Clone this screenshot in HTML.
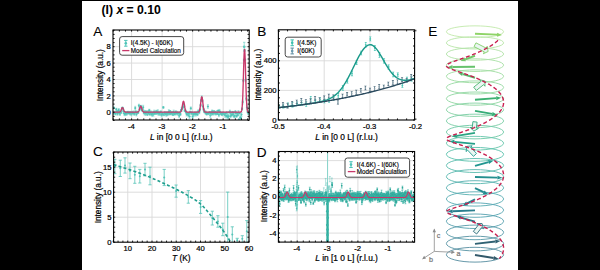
<!DOCTYPE html>
<html><head><meta charset="utf-8"><style>
html,body{margin:0;padding:0;background:#000;width:600px;height:270px;overflow:hidden;}
svg{display:block;font-family:"Liberation Sans", sans-serif;}
</style></head><body>
<svg width="600" height="270" viewBox="0 0 600 270">
<rect x="0" y="0" width="600" height="270" fill="#000"/>
<rect x="82" y="1" width="436" height="269" fill="#fff"/>
<text x="101.5" y="14.3" font-size="12.2" text-anchor="start" font-weight="bold"  fill="#000" stroke="#000" stroke-width="0.05" >(I) <tspan font-style="italic">x</tspan> = 0.10</text>
<text x="93.3" y="35.8" font-size="13.6" text-anchor="start" font-weight="normal"  fill="#000" stroke="#000" stroke-width="0.1" >A</text>
<text x="257.2" y="35.8" font-size="13.6" text-anchor="start" font-weight="normal"  fill="#000" stroke="#000" stroke-width="0.1" >B</text>
<text x="93" y="156.3" font-size="13.6" text-anchor="start" font-weight="normal"  fill="#000" stroke="#000" stroke-width="0.1" >C</text>
<text x="256.7" y="156.6" font-size="13.6" text-anchor="start" font-weight="normal"  fill="#000" stroke="#000" stroke-width="0.1" >D</text>
<text x="428.2" y="35.8" font-size="13.6" text-anchor="start" font-weight="normal"  fill="#000" stroke="#000" stroke-width="0.1" >E</text>
<clipPath id="ca"><rect x="113" y="30" width="136.2" height="90"/></clipPath>
<line x1="131.58" y1="30" x2="131.58" y2="120" stroke="#d9d9d9" stroke-width="0.9"/>
<line x1="162.11" y1="30" x2="162.11" y2="120" stroke="#d9d9d9" stroke-width="0.9"/>
<line x1="192.64" y1="30" x2="192.64" y2="120" stroke="#d9d9d9" stroke-width="0.9"/>
<line x1="223.17" y1="30" x2="223.17" y2="120" stroke="#d9d9d9" stroke-width="0.9"/>
<line x1="113" y1="95.9" x2="249.2" y2="95.9" stroke="#d9d9d9" stroke-width="0.9"/>
<line x1="113" y1="79.5" x2="249.2" y2="79.5" stroke="#d9d9d9" stroke-width="0.9"/>
<line x1="113" y1="63.1" x2="249.2" y2="63.1" stroke="#d9d9d9" stroke-width="0.9"/>
<line x1="113" y1="46.7" x2="249.2" y2="46.7" stroke="#d9d9d9" stroke-width="0.9"/>
<g clip-path="url(#ca)">
<path d="M112.65 112.61V114.13M111.65 112.61H113.65M111.65 114.13H113.65" stroke="#74d2c8" stroke-width="0.6" fill="none"/>
<circle cx="112.65" cy="113.37" r="1.1" fill="#50c4b8"/>
<path d="M113.26 111.45V113.78M112.26 111.45H114.26M112.26 113.78H114.26" stroke="#74d2c8" stroke-width="0.6" fill="none"/>
<circle cx="113.26" cy="112.62" r="1.1" fill="#50c4b8"/>
<path d="M113.87 107.03V108.54M112.87 107.03H114.87M112.87 108.54H114.87" stroke="#74d2c8" stroke-width="0.6" fill="none"/>
<circle cx="113.87" cy="107.79" r="1.1" fill="#50c4b8"/>
<path d="M114.48 111.45V113.95M113.48 111.45H115.48M113.48 113.95H115.48" stroke="#74d2c8" stroke-width="0.6" fill="none"/>
<circle cx="114.48" cy="112.7" r="1.1" fill="#50c4b8"/>
<path d="M115.09 111.35V114.42M114.09 111.35H116.09M114.09 114.42H116.09" stroke="#74d2c8" stroke-width="0.6" fill="none"/>
<circle cx="115.09" cy="112.89" r="1.1" fill="#50c4b8"/>
<path d="M115.7 112.11V115.03M114.7 112.11H116.7M114.7 115.03H116.7" stroke="#74d2c8" stroke-width="0.6" fill="none"/>
<circle cx="115.7" cy="113.57" r="1.1" fill="#50c4b8"/>
<path d="M116.31 108.22V110.34M115.31 108.22H117.31M115.31 110.34H117.31" stroke="#74d2c8" stroke-width="0.6" fill="none"/>
<circle cx="116.31" cy="109.28" r="1.1" fill="#50c4b8"/>
<path d="M116.93 110.67V112.31M115.93 110.67H117.93M115.93 112.31H117.93" stroke="#74d2c8" stroke-width="0.6" fill="none"/>
<circle cx="116.93" cy="111.49" r="1.1" fill="#50c4b8"/>
<path d="M117.54 112.3V115.24M116.54 112.3H118.54M116.54 115.24H118.54" stroke="#74d2c8" stroke-width="0.6" fill="none"/>
<circle cx="117.54" cy="113.77" r="1.1" fill="#50c4b8"/>
<path d="M118.15 110.25V112.6M117.15 110.25H119.15M117.15 112.6H119.15" stroke="#74d2c8" stroke-width="0.6" fill="none"/>
<circle cx="118.15" cy="111.43" r="1.1" fill="#50c4b8"/>
<path d="M118.76 108.54V111.75M117.76 108.54H119.76M117.76 111.75H119.76" stroke="#74d2c8" stroke-width="0.6" fill="none"/>
<circle cx="118.76" cy="110.14" r="1.1" fill="#50c4b8"/>
<path d="M119.37 112.05V114.24M118.37 112.05H120.37M118.37 114.24H120.37" stroke="#74d2c8" stroke-width="0.6" fill="none"/>
<circle cx="119.37" cy="113.15" r="1.1" fill="#50c4b8"/>
<path d="M119.98 111.95V115.48M118.98 111.95H120.98M118.98 115.48H120.98" stroke="#74d2c8" stroke-width="0.6" fill="none"/>
<circle cx="119.98" cy="113.72" r="1.1" fill="#50c4b8"/>
<path d="M120.59 111.64V113.63M119.59 111.64H121.59M119.59 113.63H121.59" stroke="#74d2c8" stroke-width="0.6" fill="none"/>
<circle cx="120.59" cy="112.64" r="1.1" fill="#50c4b8"/>
<path d="M121.2 110.17V113.52M120.2 110.17H122.2M120.2 113.52H122.2" stroke="#74d2c8" stroke-width="0.6" fill="none"/>
<circle cx="121.2" cy="111.84" r="1.1" fill="#50c4b8"/>
<path d="M121.81 107.81V111.85M120.81 107.81H122.81M120.81 111.85H122.81" stroke="#74d2c8" stroke-width="0.6" fill="none"/>
<circle cx="121.81" cy="109.83" r="1.1" fill="#50c4b8"/>
<path d="M122.42 106.99V108.72M121.42 106.99H123.42M121.42 108.72H123.42" stroke="#74d2c8" stroke-width="0.6" fill="none"/>
<circle cx="122.42" cy="107.86" r="1.1" fill="#50c4b8"/>
<path d="M123.03 107.89V109.31M122.03 107.89H124.03M122.03 109.31H124.03" stroke="#74d2c8" stroke-width="0.6" fill="none"/>
<circle cx="123.03" cy="108.6" r="1.1" fill="#50c4b8"/>
<path d="M123.64 109.72V113.47M122.64 109.72H124.64M122.64 113.47H124.64" stroke="#74d2c8" stroke-width="0.6" fill="none"/>
<circle cx="123.64" cy="111.6" r="1.1" fill="#50c4b8"/>
<path d="M124.25 111.91V115.17M123.25 111.91H125.25M123.25 115.17H125.25" stroke="#74d2c8" stroke-width="0.6" fill="none"/>
<circle cx="124.25" cy="113.54" r="1.1" fill="#50c4b8"/>
<path d="M124.86 112.04V115.69M123.86 112.04H125.86M123.86 115.69H125.86" stroke="#74d2c8" stroke-width="0.6" fill="none"/>
<circle cx="124.86" cy="113.86" r="1.1" fill="#50c4b8"/>
<path d="M125.47 112.45V115.08M124.47 112.45H126.47M124.47 115.08H126.47" stroke="#74d2c8" stroke-width="0.6" fill="none"/>
<circle cx="125.47" cy="113.77" r="1.1" fill="#50c4b8"/>
<path d="M126.08 111.73V114.84M125.08 111.73H127.08M125.08 114.84H127.08" stroke="#74d2c8" stroke-width="0.6" fill="none"/>
<circle cx="126.08" cy="113.29" r="1.1" fill="#50c4b8"/>
<path d="M126.7 111.62V115.22M125.7 111.62H127.7M125.7 115.22H127.7" stroke="#74d2c8" stroke-width="0.6" fill="none"/>
<circle cx="126.7" cy="113.42" r="1.1" fill="#50c4b8"/>
<path d="M127.31 112.64V114.02M126.31 112.64H128.31M126.31 114.02H128.31" stroke="#74d2c8" stroke-width="0.6" fill="none"/>
<circle cx="127.31" cy="113.33" r="1.1" fill="#50c4b8"/>
<path d="M127.92 111.28V113.06M126.92 111.28H128.92M126.92 113.06H128.92" stroke="#74d2c8" stroke-width="0.6" fill="none"/>
<circle cx="127.92" cy="112.17" r="1.1" fill="#50c4b8"/>
<path d="M128.53 112.03V113.7M127.53 112.03H129.53M127.53 113.7H129.53" stroke="#74d2c8" stroke-width="0.6" fill="none"/>
<circle cx="128.53" cy="112.87" r="1.1" fill="#50c4b8"/>
<path d="M129.14 111.69V114.09M128.14 111.69H130.14M128.14 114.09H130.14" stroke="#74d2c8" stroke-width="0.6" fill="none"/>
<circle cx="129.14" cy="112.89" r="1.1" fill="#50c4b8"/>
<path d="M129.75 111.42V114.26M128.75 111.42H130.75M128.75 114.26H130.75" stroke="#74d2c8" stroke-width="0.6" fill="none"/>
<circle cx="129.75" cy="112.84" r="1.1" fill="#50c4b8"/>
<path d="M130.36 111.61V115.21M129.36 111.61H131.36M129.36 115.21H131.36" stroke="#74d2c8" stroke-width="0.6" fill="none"/>
<circle cx="130.36" cy="113.41" r="1.1" fill="#50c4b8"/>
<path d="M130.97 111.44V113.75M129.97 111.44H131.97M129.97 113.75H131.97" stroke="#74d2c8" stroke-width="0.6" fill="none"/>
<circle cx="130.97" cy="112.6" r="1.1" fill="#50c4b8"/>
<path d="M131.58 111.73V115.71M130.58 111.73H132.58M130.58 115.71H132.58" stroke="#74d2c8" stroke-width="0.6" fill="none"/>
<circle cx="131.58" cy="113.72" r="1.1" fill="#50c4b8"/>
<path d="M132.19 111.78V113.74M131.19 111.78H133.19M131.19 113.74H133.19" stroke="#74d2c8" stroke-width="0.6" fill="none"/>
<circle cx="132.19" cy="112.76" r="1.1" fill="#50c4b8"/>
<path d="M132.8 111.15V114.1M131.8 111.15H133.8M131.8 114.1H133.8" stroke="#74d2c8" stroke-width="0.6" fill="none"/>
<circle cx="132.8" cy="112.62" r="1.1" fill="#50c4b8"/>
<path d="M133.41 111.96V114.3M132.41 111.96H134.41M132.41 114.3H134.41" stroke="#74d2c8" stroke-width="0.6" fill="none"/>
<circle cx="133.41" cy="113.13" r="1.1" fill="#50c4b8"/>
<path d="M134.02 111.05V115.02M133.02 111.05H135.02M133.02 115.02H135.02" stroke="#74d2c8" stroke-width="0.6" fill="none"/>
<circle cx="134.02" cy="113.03" r="1.1" fill="#50c4b8"/>
<path d="M134.63 111.95V115.15M133.63 111.95H135.63M133.63 115.15H135.63" stroke="#74d2c8" stroke-width="0.6" fill="none"/>
<circle cx="134.63" cy="113.55" r="1.1" fill="#50c4b8"/>
<path d="M135.24 106.33V109.82M134.24 106.33H136.24M134.24 109.82H136.24" stroke="#74d2c8" stroke-width="0.6" fill="none"/>
<circle cx="135.24" cy="108.07" r="1.1" fill="#50c4b8"/>
<path d="M135.85 110.67V113.09M134.85 110.67H136.85M134.85 113.09H136.85" stroke="#74d2c8" stroke-width="0.6" fill="none"/>
<circle cx="135.85" cy="111.88" r="1.1" fill="#50c4b8"/>
<path d="M136.46 112.83V115.91M135.46 112.83H137.46M135.46 115.91H137.46" stroke="#74d2c8" stroke-width="0.6" fill="none"/>
<circle cx="136.46" cy="114.37" r="1.1" fill="#50c4b8"/>
<path d="M137.08 111.88V113.65M136.08 111.88H138.08M136.08 113.65H138.08" stroke="#74d2c8" stroke-width="0.6" fill="none"/>
<circle cx="137.08" cy="112.76" r="1.1" fill="#50c4b8"/>
<path d="M137.69 112.15V113.61M136.69 112.15H138.69M136.69 113.61H138.69" stroke="#74d2c8" stroke-width="0.6" fill="none"/>
<circle cx="137.69" cy="112.88" r="1.1" fill="#50c4b8"/>
<path d="M138.3 110.96V113.29M137.3 110.96H139.3M137.3 113.29H139.3" stroke="#74d2c8" stroke-width="0.6" fill="none"/>
<circle cx="138.3" cy="112.12" r="1.1" fill="#50c4b8"/>
<path d="M138.91 104.2V107.23M137.91 104.2H139.91M137.91 107.23H139.91" stroke="#74d2c8" stroke-width="0.6" fill="none"/>
<circle cx="138.91" cy="105.72" r="1.1" fill="#50c4b8"/>
<path d="M139.52 108.44V110.76M138.52 108.44H140.52M138.52 110.76H140.52" stroke="#74d2c8" stroke-width="0.6" fill="none"/>
<circle cx="139.52" cy="109.6" r="1.1" fill="#50c4b8"/>
<path d="M140.13 105.66V109.34M139.13 105.66H141.13M139.13 109.34H141.13" stroke="#74d2c8" stroke-width="0.6" fill="none"/>
<circle cx="140.13" cy="107.5" r="1.1" fill="#50c4b8"/>
<path d="M140.74 105.34V106.89M139.74 105.34H141.74M139.74 106.89H141.74" stroke="#74d2c8" stroke-width="0.6" fill="none"/>
<circle cx="140.74" cy="106.11" r="1.1" fill="#50c4b8"/>
<path d="M141.35 107.02V109.29M140.35 107.02H142.35M140.35 109.29H142.35" stroke="#74d2c8" stroke-width="0.6" fill="none"/>
<circle cx="141.35" cy="108.15" r="1.1" fill="#50c4b8"/>
<path d="M141.96 109.53V110.91M140.96 109.53H142.96M140.96 110.91H142.96" stroke="#74d2c8" stroke-width="0.6" fill="none"/>
<circle cx="141.96" cy="110.22" r="1.1" fill="#50c4b8"/>
<path d="M142.57 108.53V111.31M141.57 108.53H143.57M141.57 111.31H143.57" stroke="#74d2c8" stroke-width="0.6" fill="none"/>
<circle cx="142.57" cy="109.92" r="1.1" fill="#50c4b8"/>
<path d="M143.18 105.3V109.34M142.18 105.3H144.18M142.18 109.34H144.18" stroke="#74d2c8" stroke-width="0.6" fill="none"/>
<circle cx="143.18" cy="107.32" r="1.1" fill="#50c4b8"/>
<path d="M143.79 110.41V113.67M142.79 110.41H144.79M142.79 113.67H144.79" stroke="#74d2c8" stroke-width="0.6" fill="none"/>
<circle cx="143.79" cy="112.04" r="1.1" fill="#50c4b8"/>
<path d="M144.4 111.44V114.9M143.4 111.44H145.4M143.4 114.9H145.4" stroke="#74d2c8" stroke-width="0.6" fill="none"/>
<circle cx="144.4" cy="113.17" r="1.1" fill="#50c4b8"/>
<path d="M145.01 110.44V113.92M144.01 110.44H146.01M144.01 113.92H146.01" stroke="#74d2c8" stroke-width="0.6" fill="none"/>
<circle cx="145.01" cy="112.18" r="1.1" fill="#50c4b8"/>
<path d="M145.62 111.43V115.48M144.62 111.43H146.62M144.62 115.48H146.62" stroke="#74d2c8" stroke-width="0.6" fill="none"/>
<circle cx="145.62" cy="113.46" r="1.1" fill="#50c4b8"/>
<path d="M146.23 110.73V114.29M145.23 110.73H147.23M145.23 114.29H147.23" stroke="#74d2c8" stroke-width="0.6" fill="none"/>
<circle cx="146.23" cy="112.51" r="1.1" fill="#50c4b8"/>
<path d="M146.84 111.07V113.83M145.84 111.07H147.84M145.84 113.83H147.84" stroke="#74d2c8" stroke-width="0.6" fill="none"/>
<circle cx="146.84" cy="112.45" r="1.1" fill="#50c4b8"/>
<path d="M147.46 113.89V115.28M146.46 113.89H148.46M146.46 115.28H148.46" stroke="#74d2c8" stroke-width="0.6" fill="none"/>
<circle cx="147.46" cy="114.59" r="1.1" fill="#50c4b8"/>
<path d="M148.07 110.71V113.96M147.07 110.71H149.07M147.07 113.96H149.07" stroke="#74d2c8" stroke-width="0.6" fill="none"/>
<circle cx="148.07" cy="112.34" r="1.1" fill="#50c4b8"/>
<path d="M148.68 111.7V114.26M147.68 111.7H149.68M147.68 114.26H149.68" stroke="#74d2c8" stroke-width="0.6" fill="none"/>
<circle cx="148.68" cy="112.98" r="1.1" fill="#50c4b8"/>
<path d="M149.29 109.25V111.58M148.29 109.25H150.29M148.29 111.58H150.29" stroke="#74d2c8" stroke-width="0.6" fill="none"/>
<circle cx="149.29" cy="110.42" r="1.1" fill="#50c4b8"/>
<path d="M149.9 113.28V115.22M148.9 113.28H150.9M148.9 115.22H150.9" stroke="#74d2c8" stroke-width="0.6" fill="none"/>
<circle cx="149.9" cy="114.25" r="1.1" fill="#50c4b8"/>
<path d="M150.51 110.99V114.81M149.51 110.99H151.51M149.51 114.81H151.51" stroke="#74d2c8" stroke-width="0.6" fill="none"/>
<circle cx="150.51" cy="112.9" r="1.1" fill="#50c4b8"/>
<path d="M151.12 111.17V113.82M150.12 111.17H152.12M150.12 113.82H152.12" stroke="#74d2c8" stroke-width="0.6" fill="none"/>
<circle cx="151.12" cy="112.49" r="1.1" fill="#50c4b8"/>
<path d="M151.73 112.55V115.71M150.73 112.55H152.73M150.73 115.71H152.73" stroke="#74d2c8" stroke-width="0.6" fill="none"/>
<circle cx="151.73" cy="114.13" r="1.1" fill="#50c4b8"/>
<path d="M152.34 112.82V116.31M151.34 112.82H153.34M151.34 116.31H153.34" stroke="#74d2c8" stroke-width="0.6" fill="none"/>
<circle cx="152.34" cy="114.57" r="1.1" fill="#50c4b8"/>
<path d="M152.95 111.36V114.88M151.95 111.36H153.95M151.95 114.88H153.95" stroke="#74d2c8" stroke-width="0.6" fill="none"/>
<circle cx="152.95" cy="113.12" r="1.1" fill="#50c4b8"/>
<path d="M153.56 112.47V116.01M152.56 112.47H154.56M152.56 116.01H154.56" stroke="#74d2c8" stroke-width="0.6" fill="none"/>
<circle cx="153.56" cy="114.24" r="1.1" fill="#50c4b8"/>
<path d="M154.17 110.17V114.12M153.17 110.17H155.17M153.17 114.12H155.17" stroke="#74d2c8" stroke-width="0.6" fill="none"/>
<circle cx="154.17" cy="112.15" r="1.1" fill="#50c4b8"/>
<path d="M154.78 112.4V114.19M153.78 112.4H155.78M153.78 114.19H155.78" stroke="#74d2c8" stroke-width="0.6" fill="none"/>
<circle cx="154.78" cy="113.29" r="1.1" fill="#50c4b8"/>
<path d="M155.39 110.95V114.51M154.39 110.95H156.39M154.39 114.51H156.39" stroke="#74d2c8" stroke-width="0.6" fill="none"/>
<circle cx="155.39" cy="112.73" r="1.1" fill="#50c4b8"/>
<path d="M156 110.91V114.52M155 110.91H157M155 114.52H157" stroke="#74d2c8" stroke-width="0.6" fill="none"/>
<circle cx="156" cy="112.72" r="1.1" fill="#50c4b8"/>
<path d="M156.61 110.27V113.11M155.61 110.27H157.61M155.61 113.11H157.61" stroke="#74d2c8" stroke-width="0.6" fill="none"/>
<circle cx="156.61" cy="111.69" r="1.1" fill="#50c4b8"/>
<path d="M157.23 112.62V113.97M156.23 112.62H158.23M156.23 113.97H158.23" stroke="#74d2c8" stroke-width="0.6" fill="none"/>
<circle cx="157.23" cy="113.3" r="1.1" fill="#50c4b8"/>
<path d="M157.84 109.76V113.68M156.84 109.76H158.84M156.84 113.68H158.84" stroke="#74d2c8" stroke-width="0.6" fill="none"/>
<circle cx="157.84" cy="111.72" r="1.1" fill="#50c4b8"/>
<path d="M158.45 111.51V115.25M157.45 111.51H159.45M157.45 115.25H159.45" stroke="#74d2c8" stroke-width="0.6" fill="none"/>
<circle cx="158.45" cy="113.38" r="1.1" fill="#50c4b8"/>
<path d="M159.06 111.74V113.87M158.06 111.74H160.06M158.06 113.87H160.06" stroke="#74d2c8" stroke-width="0.6" fill="none"/>
<circle cx="159.06" cy="112.81" r="1.1" fill="#50c4b8"/>
<path d="M159.67 112.25V115.19M158.67 112.25H160.67M158.67 115.19H160.67" stroke="#74d2c8" stroke-width="0.6" fill="none"/>
<circle cx="159.67" cy="113.72" r="1.1" fill="#50c4b8"/>
<path d="M160.28 111.26V115.1M159.28 111.26H161.28M159.28 115.1H161.28" stroke="#74d2c8" stroke-width="0.6" fill="none"/>
<circle cx="160.28" cy="113.18" r="1.1" fill="#50c4b8"/>
<path d="M160.89 110.8V113.39M159.89 110.8H161.89M159.89 113.39H161.89" stroke="#74d2c8" stroke-width="0.6" fill="none"/>
<circle cx="160.89" cy="112.1" r="1.1" fill="#50c4b8"/>
<path d="M161.5 113.03V116.9M160.5 113.03H162.5M160.5 116.9H162.5" stroke="#74d2c8" stroke-width="0.6" fill="none"/>
<circle cx="161.5" cy="114.97" r="1.1" fill="#50c4b8"/>
<path d="M162.11 112.79V115.58M161.11 112.79H163.11M161.11 115.58H163.11" stroke="#74d2c8" stroke-width="0.6" fill="none"/>
<circle cx="162.11" cy="114.19" r="1.1" fill="#50c4b8"/>
<path d="M162.72 112.4V114.22M161.72 112.4H163.72M161.72 114.22H163.72" stroke="#74d2c8" stroke-width="0.6" fill="none"/>
<circle cx="162.72" cy="113.31" r="1.1" fill="#50c4b8"/>
<path d="M163.33 106.52V108.31M162.33 106.52H164.33M162.33 108.31H164.33" stroke="#74d2c8" stroke-width="0.6" fill="none"/>
<circle cx="163.33" cy="107.41" r="1.1" fill="#50c4b8"/>
<path d="M163.94 113.57V115.79M162.94 113.57H164.94M162.94 115.79H164.94" stroke="#74d2c8" stroke-width="0.6" fill="none"/>
<circle cx="163.94" cy="114.68" r="1.1" fill="#50c4b8"/>
<path d="M164.55 111.43V114.29M163.55 111.43H165.55M163.55 114.29H165.55" stroke="#74d2c8" stroke-width="0.6" fill="none"/>
<circle cx="164.55" cy="112.86" r="1.1" fill="#50c4b8"/>
<path d="M165.16 112.02V114.02M164.16 112.02H166.16M164.16 114.02H166.16" stroke="#74d2c8" stroke-width="0.6" fill="none"/>
<circle cx="165.16" cy="113.02" r="1.1" fill="#50c4b8"/>
<path d="M165.77 111.84V115.31M164.77 111.84H166.77M164.77 115.31H166.77" stroke="#74d2c8" stroke-width="0.6" fill="none"/>
<circle cx="165.77" cy="113.58" r="1.1" fill="#50c4b8"/>
<path d="M166.38 112.45V116.31M165.38 112.45H167.38M165.38 116.31H167.38" stroke="#74d2c8" stroke-width="0.6" fill="none"/>
<circle cx="166.38" cy="114.38" r="1.1" fill="#50c4b8"/>
<path d="M166.99 111.67V114.69M165.99 111.67H167.99M165.99 114.69H167.99" stroke="#74d2c8" stroke-width="0.6" fill="none"/>
<circle cx="166.99" cy="113.18" r="1.1" fill="#50c4b8"/>
<path d="M167.61 113.01V115.58M166.61 113.01H168.61M166.61 115.58H168.61" stroke="#74d2c8" stroke-width="0.6" fill="none"/>
<circle cx="167.61" cy="114.3" r="1.1" fill="#50c4b8"/>
<path d="M168.22 111.84V114.48M167.22 111.84H169.22M167.22 114.48H169.22" stroke="#74d2c8" stroke-width="0.6" fill="none"/>
<circle cx="168.22" cy="113.16" r="1.1" fill="#50c4b8"/>
<path d="M168.83 109.73V113.67M167.83 109.73H169.83M167.83 113.67H169.83" stroke="#74d2c8" stroke-width="0.6" fill="none"/>
<circle cx="168.83" cy="111.7" r="1.1" fill="#50c4b8"/>
<path d="M169.44 112.23V115.1M168.44 112.23H170.44M168.44 115.1H170.44" stroke="#74d2c8" stroke-width="0.6" fill="none"/>
<circle cx="169.44" cy="113.67" r="1.1" fill="#50c4b8"/>
<path d="M170.05 110.53V112.18M169.05 110.53H171.05M169.05 112.18H171.05" stroke="#74d2c8" stroke-width="0.6" fill="none"/>
<circle cx="170.05" cy="111.35" r="1.1" fill="#50c4b8"/>
<path d="M170.66 113.02V114.53M169.66 113.02H171.66M169.66 114.53H171.66" stroke="#74d2c8" stroke-width="0.6" fill="none"/>
<circle cx="170.66" cy="113.78" r="1.1" fill="#50c4b8"/>
<path d="M171.27 111.35V114.85M170.27 111.35H172.27M170.27 114.85H172.27" stroke="#74d2c8" stroke-width="0.6" fill="none"/>
<circle cx="171.27" cy="113.1" r="1.1" fill="#50c4b8"/>
<path d="M171.88 111.87V113.61M170.88 111.87H172.88M170.88 113.61H172.88" stroke="#74d2c8" stroke-width="0.6" fill="none"/>
<circle cx="171.88" cy="112.74" r="1.1" fill="#50c4b8"/>
<path d="M172.49 111.54V115.31M171.49 111.54H173.49M171.49 115.31H173.49" stroke="#74d2c8" stroke-width="0.6" fill="none"/>
<circle cx="172.49" cy="113.43" r="1.1" fill="#50c4b8"/>
<path d="M173.1 113.57V115.5M172.1 113.57H174.1M172.1 115.5H174.1" stroke="#74d2c8" stroke-width="0.6" fill="none"/>
<circle cx="173.1" cy="114.53" r="1.1" fill="#50c4b8"/>
<path d="M173.71 110.14V114.21M172.71 110.14H174.71M172.71 114.21H174.71" stroke="#74d2c8" stroke-width="0.6" fill="none"/>
<circle cx="173.71" cy="112.17" r="1.1" fill="#50c4b8"/>
<path d="M174.32 112.53V114.29M173.32 112.53H175.32M173.32 114.29H175.32" stroke="#74d2c8" stroke-width="0.6" fill="none"/>
<circle cx="174.32" cy="113.41" r="1.1" fill="#50c4b8"/>
<path d="M174.93 113.27V115.13M173.93 113.27H175.93M173.93 115.13H175.93" stroke="#74d2c8" stroke-width="0.6" fill="none"/>
<circle cx="174.93" cy="114.2" r="1.1" fill="#50c4b8"/>
<path d="M175.54 110.96V114.29M174.54 110.96H176.54M174.54 114.29H176.54" stroke="#74d2c8" stroke-width="0.6" fill="none"/>
<circle cx="175.54" cy="112.63" r="1.1" fill="#50c4b8"/>
<path d="M176.15 111.2V112.56M175.15 111.2H177.15M175.15 112.56H177.15" stroke="#74d2c8" stroke-width="0.6" fill="none"/>
<circle cx="176.15" cy="111.88" r="1.1" fill="#50c4b8"/>
<path d="M176.76 111.44V114.49M175.76 111.44H177.76M175.76 114.49H177.76" stroke="#74d2c8" stroke-width="0.6" fill="none"/>
<circle cx="176.76" cy="112.97" r="1.1" fill="#50c4b8"/>
<path d="M177.37 111.72V115.23M176.37 111.72H178.37M176.37 115.23H178.37" stroke="#74d2c8" stroke-width="0.6" fill="none"/>
<circle cx="177.37" cy="113.48" r="1.1" fill="#50c4b8"/>
<path d="M177.99 112.35V113.95M176.99 112.35H178.99M176.99 113.95H178.99" stroke="#74d2c8" stroke-width="0.6" fill="none"/>
<circle cx="177.99" cy="113.15" r="1.1" fill="#50c4b8"/>
<path d="M178.6 112.11V114.18M177.6 112.11H179.6M177.6 114.18H179.6" stroke="#74d2c8" stroke-width="0.6" fill="none"/>
<circle cx="178.6" cy="113.15" r="1.1" fill="#50c4b8"/>
<path d="M179.21 114.07V117.66M178.21 114.07H180.21M178.21 117.66H180.21" stroke="#74d2c8" stroke-width="0.6" fill="none"/>
<circle cx="179.21" cy="115.86" r="1.1" fill="#50c4b8"/>
<path d="M179.82 111.49V114.75M178.82 111.49H180.82M178.82 114.75H180.82" stroke="#74d2c8" stroke-width="0.6" fill="none"/>
<circle cx="179.82" cy="113.12" r="1.1" fill="#50c4b8"/>
<path d="M180.43 112.96V115.45M179.43 112.96H181.43M179.43 115.45H181.43" stroke="#74d2c8" stroke-width="0.6" fill="none"/>
<circle cx="180.43" cy="114.21" r="1.1" fill="#50c4b8"/>
<path d="M181.04 109.46V111.01M180.04 109.46H182.04M180.04 111.01H182.04" stroke="#74d2c8" stroke-width="0.6" fill="none"/>
<circle cx="181.04" cy="110.23" r="1.1" fill="#50c4b8"/>
<path d="M181.65 107.73V111.45M180.65 107.73H182.65M180.65 111.45H182.65" stroke="#74d2c8" stroke-width="0.6" fill="none"/>
<circle cx="181.65" cy="109.59" r="1.1" fill="#50c4b8"/>
<path d="M182.26 107.27V109.33M181.26 107.27H183.26M181.26 109.33H183.26" stroke="#74d2c8" stroke-width="0.6" fill="none"/>
<circle cx="182.26" cy="108.3" r="1.1" fill="#50c4b8"/>
<path d="M182.87 106.16V107.78M181.87 106.16H183.87M181.87 107.78H183.87" stroke="#74d2c8" stroke-width="0.6" fill="none"/>
<circle cx="182.87" cy="106.97" r="1.1" fill="#50c4b8"/>
<path d="M183.48 103V106.42M182.48 103H184.48M182.48 106.42H184.48" stroke="#74d2c8" stroke-width="0.6" fill="none"/>
<circle cx="183.48" cy="104.71" r="1.1" fill="#50c4b8"/>
<path d="M184.09 105.73V108.01M183.09 105.73H185.09M183.09 108.01H185.09" stroke="#74d2c8" stroke-width="0.6" fill="none"/>
<circle cx="184.09" cy="106.87" r="1.1" fill="#50c4b8"/>
<path d="M184.7 109.83V111.67M183.7 109.83H185.7M183.7 111.67H185.7" stroke="#74d2c8" stroke-width="0.6" fill="none"/>
<circle cx="184.7" cy="110.75" r="1.1" fill="#50c4b8"/>
<path d="M185.31 109.72V111.33M184.31 109.72H186.31M184.31 111.33H186.31" stroke="#74d2c8" stroke-width="0.6" fill="none"/>
<circle cx="185.31" cy="110.53" r="1.1" fill="#50c4b8"/>
<path d="M185.92 110.68V113.08M184.92 110.68H186.92M184.92 113.08H186.92" stroke="#74d2c8" stroke-width="0.6" fill="none"/>
<circle cx="185.92" cy="111.88" r="1.1" fill="#50c4b8"/>
<path d="M186.53 111.86V115.91M185.53 111.86H187.53M185.53 115.91H187.53" stroke="#74d2c8" stroke-width="0.6" fill="none"/>
<circle cx="186.53" cy="113.89" r="1.1" fill="#50c4b8"/>
<path d="M187.14 112.89V115.33M186.14 112.89H188.14M186.14 115.33H188.14" stroke="#74d2c8" stroke-width="0.6" fill="none"/>
<circle cx="187.14" cy="114.11" r="1.1" fill="#50c4b8"/>
<path d="M187.76 112.63V114.14M186.76 112.63H188.76M186.76 114.14H188.76" stroke="#74d2c8" stroke-width="0.6" fill="none"/>
<circle cx="187.76" cy="113.38" r="1.1" fill="#50c4b8"/>
<path d="M188.37 113.21V116.95M187.37 113.21H189.37M187.37 116.95H189.37" stroke="#74d2c8" stroke-width="0.6" fill="none"/>
<circle cx="188.37" cy="115.08" r="1.1" fill="#50c4b8"/>
<path d="M188.98 112.88V114.87M187.98 112.88H189.98M187.98 114.87H189.98" stroke="#74d2c8" stroke-width="0.6" fill="none"/>
<circle cx="188.98" cy="113.87" r="1.1" fill="#50c4b8"/>
<path d="M189.59 114.52V118.51M188.59 114.52H190.59M188.59 118.51H190.59" stroke="#74d2c8" stroke-width="0.6" fill="none"/>
<circle cx="189.59" cy="116.51" r="1.1" fill="#50c4b8"/>
<path d="M190.2 111.07V113.06M189.2 111.07H191.2M189.2 113.06H191.2" stroke="#74d2c8" stroke-width="0.6" fill="none"/>
<circle cx="190.2" cy="112.07" r="1.1" fill="#50c4b8"/>
<path d="M190.81 106.95V109.59M189.81 106.95H191.81M189.81 109.59H191.81" stroke="#74d2c8" stroke-width="0.6" fill="none"/>
<circle cx="190.81" cy="108.27" r="1.1" fill="#50c4b8"/>
<path d="M191.42 111.94V114.66M190.42 111.94H192.42M190.42 114.66H192.42" stroke="#74d2c8" stroke-width="0.6" fill="none"/>
<circle cx="191.42" cy="113.3" r="1.1" fill="#50c4b8"/>
<path d="M192.03 111.67V113.83M191.03 111.67H193.03M191.03 113.83H193.03" stroke="#74d2c8" stroke-width="0.6" fill="none"/>
<circle cx="192.03" cy="112.75" r="1.1" fill="#50c4b8"/>
<path d="M192.64 114.95V118.36M191.64 114.95H193.64M191.64 118.36H193.64" stroke="#74d2c8" stroke-width="0.6" fill="none"/>
<circle cx="192.64" cy="116.66" r="1.1" fill="#50c4b8"/>
<path d="M193.25 112.87V115.09M192.25 112.87H194.25M192.25 115.09H194.25" stroke="#74d2c8" stroke-width="0.6" fill="none"/>
<circle cx="193.25" cy="113.98" r="1.1" fill="#50c4b8"/>
<path d="M193.86 112.76V116.09M192.86 112.76H194.86M192.86 116.09H194.86" stroke="#74d2c8" stroke-width="0.6" fill="none"/>
<circle cx="193.86" cy="114.43" r="1.1" fill="#50c4b8"/>
<path d="M194.47 111.77V114.83M193.47 111.77H195.47M193.47 114.83H195.47" stroke="#74d2c8" stroke-width="0.6" fill="none"/>
<circle cx="194.47" cy="113.3" r="1.1" fill="#50c4b8"/>
<path d="M195.08 112.5V114.2M194.08 112.5H196.08M194.08 114.2H196.08" stroke="#74d2c8" stroke-width="0.6" fill="none"/>
<circle cx="195.08" cy="113.35" r="1.1" fill="#50c4b8"/>
<path d="M195.69 112.46V116.08M194.69 112.46H196.69M194.69 116.08H196.69" stroke="#74d2c8" stroke-width="0.6" fill="none"/>
<circle cx="195.69" cy="114.27" r="1.1" fill="#50c4b8"/>
<path d="M196.3 111.39V115.19M195.3 111.39H197.3M195.3 115.19H197.3" stroke="#74d2c8" stroke-width="0.6" fill="none"/>
<circle cx="196.3" cy="113.29" r="1.1" fill="#50c4b8"/>
<path d="M196.91 113.04V114.44M195.91 113.04H197.91M195.91 114.44H197.91" stroke="#74d2c8" stroke-width="0.6" fill="none"/>
<circle cx="196.91" cy="113.74" r="1.1" fill="#50c4b8"/>
<path d="M197.52 113.34V115.65M196.52 113.34H198.52M196.52 115.65H198.52" stroke="#74d2c8" stroke-width="0.6" fill="none"/>
<circle cx="197.52" cy="114.5" r="1.1" fill="#50c4b8"/>
<path d="M198.14 110.07V113.13M197.14 110.07H199.14M197.14 113.13H199.14" stroke="#74d2c8" stroke-width="0.6" fill="none"/>
<circle cx="198.14" cy="111.6" r="1.1" fill="#50c4b8"/>
<path d="M198.75 110.11V113.32M197.75 110.11H199.75M197.75 113.32H199.75" stroke="#74d2c8" stroke-width="0.6" fill="none"/>
<circle cx="198.75" cy="111.72" r="1.1" fill="#50c4b8"/>
<path d="M199.36 110.38V113.77M198.36 110.38H200.36M198.36 113.77H200.36" stroke="#74d2c8" stroke-width="0.6" fill="none"/>
<circle cx="199.36" cy="112.07" r="1.1" fill="#50c4b8"/>
<path d="M199.97 108.18V110.99M198.97 108.18H200.97M198.97 110.99H200.97" stroke="#74d2c8" stroke-width="0.6" fill="none"/>
<circle cx="199.97" cy="109.59" r="1.1" fill="#50c4b8"/>
<path d="M200.58 104.33V106.34M199.58 104.33H201.58M199.58 106.34H201.58" stroke="#74d2c8" stroke-width="0.6" fill="none"/>
<circle cx="200.58" cy="105.34" r="1.1" fill="#50c4b8"/>
<path d="M201.19 99.38V101.43M200.19 99.38H202.19M200.19 101.43H202.19" stroke="#74d2c8" stroke-width="0.6" fill="none"/>
<circle cx="201.19" cy="100.4" r="1.1" fill="#50c4b8"/>
<path d="M201.8 95.86V99.89M200.8 95.86H202.8M200.8 99.89H202.8" stroke="#74d2c8" stroke-width="0.6" fill="none"/>
<circle cx="201.8" cy="97.87" r="1.1" fill="#50c4b8"/>
<path d="M202.41 99.57V101.95M201.41 99.57H203.41M201.41 101.95H203.41" stroke="#74d2c8" stroke-width="0.6" fill="none"/>
<circle cx="202.41" cy="100.76" r="1.1" fill="#50c4b8"/>
<path d="M203.02 105.1V108.14M202.02 105.1H204.02M202.02 108.14H204.02" stroke="#74d2c8" stroke-width="0.6" fill="none"/>
<circle cx="203.02" cy="106.62" r="1.1" fill="#50c4b8"/>
<path d="M203.63 108.63V110.16M202.63 108.63H204.63M202.63 110.16H204.63" stroke="#74d2c8" stroke-width="0.6" fill="none"/>
<circle cx="203.63" cy="109.4" r="1.1" fill="#50c4b8"/>
<path d="M204.24 110.46V112.62M203.24 110.46H205.24M203.24 112.62H205.24" stroke="#74d2c8" stroke-width="0.6" fill="none"/>
<circle cx="204.24" cy="111.54" r="1.1" fill="#50c4b8"/>
<path d="M204.85 111.59V112.93M203.85 111.59H205.85M203.85 112.93H205.85" stroke="#74d2c8" stroke-width="0.6" fill="none"/>
<circle cx="204.85" cy="112.26" r="1.1" fill="#50c4b8"/>
<path d="M205.46 110.73V113.98M204.46 110.73H206.46M204.46 113.98H206.46" stroke="#74d2c8" stroke-width="0.6" fill="none"/>
<circle cx="205.46" cy="112.35" r="1.1" fill="#50c4b8"/>
<path d="M206.07 111.76V113.89M205.07 111.76H207.07M205.07 113.89H207.07" stroke="#74d2c8" stroke-width="0.6" fill="none"/>
<circle cx="206.07" cy="112.83" r="1.1" fill="#50c4b8"/>
<path d="M206.68 113.39V115.03M205.68 113.39H207.68M205.68 115.03H207.68" stroke="#74d2c8" stroke-width="0.6" fill="none"/>
<circle cx="206.68" cy="114.21" r="1.1" fill="#50c4b8"/>
<path d="M207.29 112.3V114.17M206.29 112.3H208.29M206.29 114.17H208.29" stroke="#74d2c8" stroke-width="0.6" fill="none"/>
<circle cx="207.29" cy="113.23" r="1.1" fill="#50c4b8"/>
<path d="M207.9 104.69V108.29M206.9 104.69H208.9M206.9 108.29H208.9" stroke="#74d2c8" stroke-width="0.6" fill="none"/>
<circle cx="207.9" cy="106.49" r="1.1" fill="#50c4b8"/>
<path d="M208.52 112.15V114.72M207.52 112.15H209.52M207.52 114.72H209.52" stroke="#74d2c8" stroke-width="0.6" fill="none"/>
<circle cx="208.52" cy="113.44" r="1.1" fill="#50c4b8"/>
<path d="M209.13 112.25V114.15M208.13 112.25H210.13M208.13 114.15H210.13" stroke="#74d2c8" stroke-width="0.6" fill="none"/>
<circle cx="209.13" cy="113.2" r="1.1" fill="#50c4b8"/>
<path d="M209.74 111.6V113.3M208.74 111.6H210.74M208.74 113.3H210.74" stroke="#74d2c8" stroke-width="0.6" fill="none"/>
<circle cx="209.74" cy="112.45" r="1.1" fill="#50c4b8"/>
<path d="M210.35 113.72V117.32M209.35 113.72H211.35M209.35 117.32H211.35" stroke="#74d2c8" stroke-width="0.6" fill="none"/>
<circle cx="210.35" cy="115.52" r="1.1" fill="#50c4b8"/>
<path d="M210.96 111.59V115.38M209.96 111.59H211.96M209.96 115.38H211.96" stroke="#74d2c8" stroke-width="0.6" fill="none"/>
<circle cx="210.96" cy="113.49" r="1.1" fill="#50c4b8"/>
<path d="M211.57 111.99V114.66M210.57 111.99H212.57M210.57 114.66H212.57" stroke="#74d2c8" stroke-width="0.6" fill="none"/>
<circle cx="211.57" cy="113.33" r="1.1" fill="#50c4b8"/>
<path d="M212.18 109.99V112.67M211.18 109.99H213.18M211.18 112.67H213.18" stroke="#74d2c8" stroke-width="0.6" fill="none"/>
<circle cx="212.18" cy="111.33" r="1.1" fill="#50c4b8"/>
<path d="M212.79 112.78V115.05M211.79 112.78H213.79M211.79 115.05H213.79" stroke="#74d2c8" stroke-width="0.6" fill="none"/>
<circle cx="212.79" cy="113.91" r="1.1" fill="#50c4b8"/>
<path d="M213.4 111.04V114.69M212.4 111.04H214.4M212.4 114.69H214.4" stroke="#74d2c8" stroke-width="0.6" fill="none"/>
<circle cx="213.4" cy="112.87" r="1.1" fill="#50c4b8"/>
<path d="M214.01 110.66V112.3M213.01 110.66H215.01M213.01 112.3H215.01" stroke="#74d2c8" stroke-width="0.6" fill="none"/>
<circle cx="214.01" cy="111.48" r="1.1" fill="#50c4b8"/>
<path d="M214.62 111.45V114.75M213.62 111.45H215.62M213.62 114.75H215.62" stroke="#74d2c8" stroke-width="0.6" fill="none"/>
<circle cx="214.62" cy="113.1" r="1.1" fill="#50c4b8"/>
<path d="M215.23 111.25V113.66M214.23 111.25H216.23M214.23 113.66H216.23" stroke="#74d2c8" stroke-width="0.6" fill="none"/>
<circle cx="215.23" cy="112.46" r="1.1" fill="#50c4b8"/>
<path d="M215.84 112.11V115.07M214.84 112.11H216.84M214.84 115.07H216.84" stroke="#74d2c8" stroke-width="0.6" fill="none"/>
<circle cx="215.84" cy="113.59" r="1.1" fill="#50c4b8"/>
<path d="M216.45 113.06V114.51M215.45 113.06H217.45M215.45 114.51H217.45" stroke="#74d2c8" stroke-width="0.6" fill="none"/>
<circle cx="216.45" cy="113.79" r="1.1" fill="#50c4b8"/>
<path d="M217.06 110.5V114.14M216.06 110.5H218.06M216.06 114.14H218.06" stroke="#74d2c8" stroke-width="0.6" fill="none"/>
<circle cx="217.06" cy="112.32" r="1.1" fill="#50c4b8"/>
<path d="M217.67 112.61V114.66M216.67 112.61H218.67M216.67 114.66H218.67" stroke="#74d2c8" stroke-width="0.6" fill="none"/>
<circle cx="217.67" cy="113.63" r="1.1" fill="#50c4b8"/>
<path d="M218.29 109.95V111.79M217.29 109.95H219.29M217.29 111.79H219.29" stroke="#74d2c8" stroke-width="0.6" fill="none"/>
<circle cx="218.29" cy="110.87" r="1.1" fill="#50c4b8"/>
<path d="M218.9 113.05V116.63M217.9 113.05H219.9M217.9 116.63H219.9" stroke="#74d2c8" stroke-width="0.6" fill="none"/>
<circle cx="218.9" cy="114.84" r="1.1" fill="#50c4b8"/>
<path d="M219.51 109.43V113.29M218.51 109.43H220.51M218.51 113.29H220.51" stroke="#74d2c8" stroke-width="0.6" fill="none"/>
<circle cx="219.51" cy="111.36" r="1.1" fill="#50c4b8"/>
<path d="M220.12 111.24V112.69M219.12 111.24H221.12M219.12 112.69H221.12" stroke="#74d2c8" stroke-width="0.6" fill="none"/>
<circle cx="220.12" cy="111.96" r="1.1" fill="#50c4b8"/>
<path d="M220.73 112.29V114.86M219.73 112.29H221.73M219.73 114.86H221.73" stroke="#74d2c8" stroke-width="0.6" fill="none"/>
<circle cx="220.73" cy="113.57" r="1.1" fill="#50c4b8"/>
<path d="M221.34 112.37V113.82M220.34 112.37H222.34M220.34 113.82H222.34" stroke="#74d2c8" stroke-width="0.6" fill="none"/>
<circle cx="221.34" cy="113.1" r="1.1" fill="#50c4b8"/>
<path d="M221.95 113.7V115.37M220.95 113.7H222.95M220.95 115.37H222.95" stroke="#74d2c8" stroke-width="0.6" fill="none"/>
<circle cx="221.95" cy="114.53" r="1.1" fill="#50c4b8"/>
<path d="M222.56 112.32V115.7M221.56 112.32H223.56M221.56 115.7H223.56" stroke="#74d2c8" stroke-width="0.6" fill="none"/>
<circle cx="222.56" cy="114.01" r="1.1" fill="#50c4b8"/>
<path d="M223.17 111.94V113.98M222.17 111.94H224.17M222.17 113.98H224.17" stroke="#74d2c8" stroke-width="0.6" fill="none"/>
<circle cx="223.17" cy="112.96" r="1.1" fill="#50c4b8"/>
<path d="M223.78 112.38V114.79M222.78 112.38H224.78M222.78 114.79H224.78" stroke="#74d2c8" stroke-width="0.6" fill="none"/>
<circle cx="223.78" cy="113.58" r="1.1" fill="#50c4b8"/>
<path d="M224.39 112.93V114.69M223.39 112.93H225.39M223.39 114.69H225.39" stroke="#74d2c8" stroke-width="0.6" fill="none"/>
<circle cx="224.39" cy="113.81" r="1.1" fill="#50c4b8"/>
<path d="M225 113.06V117.15M224 113.06H226M224 117.15H226" stroke="#74d2c8" stroke-width="0.6" fill="none"/>
<circle cx="225" cy="115.1" r="1.1" fill="#50c4b8"/>
<path d="M225.61 112.48V114.05M224.61 112.48H226.61M224.61 114.05H226.61" stroke="#74d2c8" stroke-width="0.6" fill="none"/>
<circle cx="225.61" cy="113.27" r="1.1" fill="#50c4b8"/>
<path d="M226.22 114.16V117.95M225.22 114.16H227.22M225.22 117.95H227.22" stroke="#74d2c8" stroke-width="0.6" fill="none"/>
<circle cx="226.22" cy="116.05" r="1.1" fill="#50c4b8"/>
<path d="M226.83 111.53V113.99M225.83 111.53H227.83M225.83 113.99H227.83" stroke="#74d2c8" stroke-width="0.6" fill="none"/>
<circle cx="226.83" cy="112.76" r="1.1" fill="#50c4b8"/>
<path d="M227.44 113.96V117.97M226.44 113.96H228.44M226.44 117.97H228.44" stroke="#74d2c8" stroke-width="0.6" fill="none"/>
<circle cx="227.44" cy="115.96" r="1.1" fill="#50c4b8"/>
<path d="M228.05 115.11V118.83M227.05 115.11H229.05M227.05 118.83H229.05" stroke="#74d2c8" stroke-width="0.6" fill="none"/>
<circle cx="228.05" cy="116.97" r="1.1" fill="#50c4b8"/>
<path d="M228.67 114.25V118.22M227.67 114.25H229.67M227.67 118.22H229.67" stroke="#74d2c8" stroke-width="0.6" fill="none"/>
<circle cx="228.67" cy="116.23" r="1.1" fill="#50c4b8"/>
<path d="M229.28 111.67V113.04M228.28 111.67H230.28M228.28 113.04H230.28" stroke="#74d2c8" stroke-width="0.6" fill="none"/>
<circle cx="229.28" cy="112.36" r="1.1" fill="#50c4b8"/>
<path d="M229.89 110.13V113.08M228.89 110.13H230.89M228.89 113.08H230.89" stroke="#74d2c8" stroke-width="0.6" fill="none"/>
<circle cx="229.89" cy="111.6" r="1.1" fill="#50c4b8"/>
<path d="M230.5 114.25V117.86M229.5 114.25H231.5M229.5 117.86H231.5" stroke="#74d2c8" stroke-width="0.6" fill="none"/>
<circle cx="230.5" cy="116.05" r="1.1" fill="#50c4b8"/>
<path d="M231.11 112.2V114.97M230.11 112.2H232.11M230.11 114.97H232.11" stroke="#74d2c8" stroke-width="0.6" fill="none"/>
<circle cx="231.11" cy="113.59" r="1.1" fill="#50c4b8"/>
<path d="M231.72 113.53V116.86M230.72 113.53H232.72M230.72 116.86H232.72" stroke="#74d2c8" stroke-width="0.6" fill="none"/>
<circle cx="231.72" cy="115.2" r="1.1" fill="#50c4b8"/>
<path d="M232.33 111.38V113.34M231.33 111.38H233.33M231.33 113.34H233.33" stroke="#74d2c8" stroke-width="0.6" fill="none"/>
<circle cx="232.33" cy="112.36" r="1.1" fill="#50c4b8"/>
<path d="M232.94 113.38V115.54M231.94 113.38H233.94M231.94 115.54H233.94" stroke="#74d2c8" stroke-width="0.6" fill="none"/>
<circle cx="232.94" cy="114.46" r="1.1" fill="#50c4b8"/>
<path d="M233.55 111.79V113.41M232.55 111.79H234.55M232.55 113.41H234.55" stroke="#74d2c8" stroke-width="0.6" fill="none"/>
<circle cx="233.55" cy="112.6" r="1.1" fill="#50c4b8"/>
<path d="M234.16 115.17V117.57M233.16 115.17H235.16M233.16 117.57H235.16" stroke="#74d2c8" stroke-width="0.6" fill="none"/>
<circle cx="234.16" cy="116.37" r="1.1" fill="#50c4b8"/>
<path d="M234.77 113.78V117.77M233.77 113.78H235.77M233.77 117.77H235.77" stroke="#74d2c8" stroke-width="0.6" fill="none"/>
<circle cx="234.77" cy="115.78" r="1.1" fill="#50c4b8"/>
<path d="M235.38 110.49V113.12M234.38 110.49H236.38M234.38 113.12H236.38" stroke="#74d2c8" stroke-width="0.6" fill="none"/>
<circle cx="235.38" cy="111.8" r="1.1" fill="#50c4b8"/>
<path d="M235.99 111.96V114.13M234.99 111.96H236.99M234.99 114.13H236.99" stroke="#74d2c8" stroke-width="0.6" fill="none"/>
<circle cx="235.99" cy="113.05" r="1.1" fill="#50c4b8"/>
<path d="M236.6 114.82V117.31M235.6 114.82H237.6M235.6 117.31H237.6" stroke="#74d2c8" stroke-width="0.6" fill="none"/>
<circle cx="236.6" cy="116.07" r="1.1" fill="#50c4b8"/>
<path d="M237.21 112.48V113.89M236.21 112.48H238.21M236.21 113.89H238.21" stroke="#74d2c8" stroke-width="0.6" fill="none"/>
<circle cx="237.21" cy="113.19" r="1.1" fill="#50c4b8"/>
<path d="M237.82 114.09V115.96M236.82 114.09H238.82M236.82 115.96H238.82" stroke="#74d2c8" stroke-width="0.6" fill="none"/>
<circle cx="237.82" cy="115.03" r="1.1" fill="#50c4b8"/>
<path d="M238.43 110.64V114.66M237.43 110.64H239.43M237.43 114.66H239.43" stroke="#74d2c8" stroke-width="0.6" fill="none"/>
<circle cx="238.43" cy="112.65" r="1.1" fill="#50c4b8"/>
<path d="M239.05 118.7V120.63M238.05 118.7H240.05M238.05 120.63H240.05" stroke="#74d2c8" stroke-width="0.6" fill="none"/>
<circle cx="239.05" cy="119.67" r="1.1" fill="#50c4b8"/>
<path d="M239.66 112.15V113.98M238.66 112.15H240.66M238.66 113.98H240.66" stroke="#74d2c8" stroke-width="0.6" fill="none"/>
<circle cx="239.66" cy="113.06" r="1.1" fill="#50c4b8"/>
<path d="M240.27 115.29V119.25M239.27 115.29H241.27M239.27 119.25H241.27" stroke="#74d2c8" stroke-width="0.6" fill="none"/>
<circle cx="240.27" cy="117.27" r="1.1" fill="#50c4b8"/>
<path d="M240.88 117.25V118.71M239.88 117.25H241.88M239.88 118.71H241.88" stroke="#74d2c8" stroke-width="0.6" fill="none"/>
<circle cx="240.88" cy="117.98" r="1.1" fill="#50c4b8"/>
<path d="M241.49 112.64V116.42M240.49 112.64H242.49M240.49 116.42H242.49" stroke="#74d2c8" stroke-width="0.6" fill="none"/>
<circle cx="241.49" cy="114.53" r="1.1" fill="#50c4b8"/>
<path d="M242.1 107.77V110M241.1 107.77H243.1M241.1 110H243.1" stroke="#74d2c8" stroke-width="0.6" fill="none"/>
<circle cx="242.1" cy="108.89" r="1.1" fill="#50c4b8"/>
<path d="M242.71 100.12V104.04M241.71 100.12H243.71M241.71 104.04H243.71" stroke="#74d2c8" stroke-width="0.6" fill="none"/>
<circle cx="242.71" cy="102.08" r="1.1" fill="#50c4b8"/>
<path d="M243.32 79.29V81.66M242.32 79.29H244.32M242.32 81.66H244.32" stroke="#74d2c8" stroke-width="0.6" fill="none"/>
<circle cx="243.32" cy="80.48" r="1.1" fill="#50c4b8"/>
<path d="M243.93 58.97V61.21M242.93 58.97H244.93M242.93 61.21H244.93" stroke="#74d2c8" stroke-width="0.6" fill="none"/>
<circle cx="243.93" cy="60.09" r="1.1" fill="#50c4b8"/>
<path d="M244.54 49.21V51.5M243.54 49.21H245.54M243.54 51.5H245.54" stroke="#74d2c8" stroke-width="0.6" fill="none"/>
<circle cx="244.54" cy="50.35" r="1.1" fill="#50c4b8"/>
<path d="M245.15 58.95V60.6M244.15 58.95H246.15M244.15 60.6H246.15" stroke="#74d2c8" stroke-width="0.6" fill="none"/>
<circle cx="245.15" cy="59.77" r="1.1" fill="#50c4b8"/>
<path d="M245.76 78.02V81.62M244.76 78.02H246.76M244.76 81.62H246.76" stroke="#74d2c8" stroke-width="0.6" fill="none"/>
<circle cx="245.76" cy="79.82" r="1.1" fill="#50c4b8"/>
<path d="M246.37 97.58V100.1M245.37 97.58H247.37M245.37 100.1H247.37" stroke="#74d2c8" stroke-width="0.6" fill="none"/>
<circle cx="246.37" cy="98.84" r="1.1" fill="#50c4b8"/>
<path d="M246.98 105.52V109.39M245.98 105.52H247.98M245.98 109.39H247.98" stroke="#74d2c8" stroke-width="0.6" fill="none"/>
<circle cx="246.98" cy="107.46" r="1.1" fill="#50c4b8"/>
<path d="M247.59 110.56V112.89M246.59 110.56H248.59M246.59 112.89H248.59" stroke="#74d2c8" stroke-width="0.6" fill="none"/>
<circle cx="247.59" cy="111.72" r="1.1" fill="#50c4b8"/>
<path d="M248.2 110.96V114.54M247.2 110.96H249.2M247.2 114.54H249.2" stroke="#74d2c8" stroke-width="0.6" fill="none"/>
<circle cx="248.2" cy="112.75" r="1.1" fill="#50c4b8"/>
<path d="M248.82 112.53V113.96M247.82 112.53H249.82M247.82 113.96H249.82" stroke="#74d2c8" stroke-width="0.6" fill="none"/>
<circle cx="248.82" cy="113.25" r="1.1" fill="#50c4b8"/>
<path d="M249.43 111.76V113.79M248.43 111.76H250.43M248.43 113.79H250.43" stroke="#74d2c8" stroke-width="0.6" fill="none"/>
<circle cx="249.43" cy="112.77" r="1.1" fill="#50c4b8"/>
<path d="M244.2 42.3V51.1M243 42.3H245.4M243 51.1H245.4" stroke="#74d2c8" stroke-width="0.7" fill="none"/>
<circle cx="244.2" cy="46.7" r="1.3" fill="#5cc9bd"/>
<path d="M112.65 112.14 L112.77 112.14 L112.9 112.14 L113.02 112.14 L113.14 112.14 L113.26 112.14 L113.38 112.14 L113.51 112.14 L113.63 112.14 L113.75 112.14 L113.87 112.14 L113.99 112.14 L114.12 112.14 L114.24 112.14 L114.36 112.14 L114.48 112.14 L114.61 112.14 L114.73 112.14 L114.85 112.14 L114.97 112.14 L115.09 112.14 L115.22 112.14 L115.34 112.14 L115.46 112.14 L115.58 112.14 L115.7 112.14 L115.83 112.14 L115.95 112.14 L116.07 112.14 L116.19 112.14 L116.31 112.14 L116.44 112.14 L116.56 112.14 L116.68 112.14 L116.8 112.14 L116.93 112.14 L117.05 112.14 L117.17 112.14 L117.29 112.14 L117.41 112.14 L117.54 112.14 L117.66 112.14 L117.78 112.14 L117.9 112.14 L118.02 112.14 L118.15 112.13 L118.27 112.13 L118.39 112.13 L118.51 112.13 L118.64 112.13 L118.76 112.12 L118.88 112.12 L119 112.11 L119.12 112.1 L119.25 112.08 L119.37 112.06 L119.49 112.03 L119.61 111.99 L119.73 111.94 L119.86 111.88 L119.98 111.81 L120.1 111.71 L120.22 111.59 L120.34 111.45 L120.47 111.29 L120.59 111.1 L120.71 110.88 L120.83 110.64 L120.96 110.37 L121.08 110.09 L121.2 109.79 L121.32 109.48 L121.44 109.17 L121.57 108.86 L121.69 108.57 L121.81 108.31 L121.93 108.07 L122.05 107.88 L122.18 107.74 L122.3 107.66 L122.42 107.63 L122.54 107.66 L122.67 107.74 L122.79 107.88 L122.91 108.07 L123.03 108.31 L123.15 108.57 L123.28 108.86 L123.4 109.17 L123.52 109.48 L123.64 109.79 L123.76 110.09 L123.89 110.37 L124.01 110.64 L124.13 110.88 L124.25 111.1 L124.37 111.29 L124.5 111.45 L124.62 111.59 L124.74 111.71 L124.86 111.81 L124.99 111.88 L125.11 111.94 L125.23 111.99 L125.35 112.03 L125.47 112.06 L125.6 112.08 L125.72 112.1 L125.84 112.11 L125.96 112.12 L126.08 112.12 L126.21 112.13 L126.33 112.13 L126.45 112.13 L126.57 112.13 L126.7 112.13 L126.82 112.14 L126.94 112.14 L127.06 112.14 L127.18 112.14 L127.31 112.14 L127.43 112.14 L127.55 112.14 L127.67 112.14 L127.79 112.14 L127.92 112.14 L128.04 112.14 L128.16 112.14 L128.28 112.14 L128.4 112.14 L128.53 112.14 L128.65 112.14 L128.77 112.14 L128.89 112.14 L129.02 112.14 L129.14 112.14 L129.26 112.14 L129.38 112.14 L129.5 112.14 L129.63 112.14 L129.75 112.14 L129.87 112.14 L129.99 112.14 L130.11 112.14 L130.24 112.14 L130.36 112.14 L130.48 112.14 L130.6 112.14 L130.73 112.14 L130.85 112.14 L130.97 112.14 L131.09 112.14 L131.21 112.14 L131.34 112.14 L131.46 112.14 L131.58 112.14 L131.7 112.14 L131.82 112.14 L131.95 112.14 L132.07 112.14 L132.19 112.14 L132.31 112.14 L132.43 112.14 L132.56 112.14 L132.68 112.14 L132.8 112.14 L132.92 112.14 L133.05 112.14 L133.17 112.14 L133.29 112.14 L133.41 112.14 L133.53 112.14 L133.66 112.14 L133.78 112.14 L133.9 112.14 L134.02 112.14 L134.14 112.14 L134.27 112.14 L134.39 112.14 L134.51 112.14 L134.63 112.14 L134.76 112.14 L134.88 112.14 L135 112.14 L135.12 112.14 L135.24 112.14 L135.37 112.14 L135.49 112.14 L135.61 112.14 L135.73 112.14 L135.85 112.14 L135.98 112.14 L136.1 112.14 L136.22 112.14 L136.34 112.13 L136.46 112.13 L136.59 112.13 L136.71 112.13 L136.83 112.13 L136.95 112.12 L137.08 112.12 L137.2 112.11 L137.32 112.1 L137.44 112.09 L137.56 112.06 L137.69 112.04 L137.81 112 L137.93 111.95 L138.05 111.89 L138.17 111.8 L138.3 111.7 L138.42 111.58 L138.54 111.42 L138.66 111.24 L138.79 111.03 L138.91 110.78 L139.03 110.49 L139.15 110.18 L139.27 109.83 L139.4 109.46 L139.52 109.06 L139.64 108.66 L139.76 108.25 L139.88 107.85 L140.01 107.47 L140.13 107.12 L140.25 106.82 L140.37 106.57 L140.49 106.38 L140.62 106.27 L140.74 106.23 L140.86 106.27 L140.98 106.38 L141.11 106.57 L141.23 106.82 L141.35 107.12 L141.47 107.47 L141.59 107.85 L141.72 108.25 L141.84 108.66 L141.96 109.06 L142.08 109.46 L142.2 109.83 L142.33 110.18 L142.45 110.49 L142.57 110.78 L142.69 111.03 L142.82 111.24 L142.94 111.42 L143.06 111.58 L143.18 111.7 L143.3 111.8 L143.43 111.89 L143.55 111.95 L143.67 112 L143.79 112.04 L143.91 112.06 L144.04 112.09 L144.16 112.1 L144.28 112.11 L144.4 112.12 L144.52 112.12 L144.65 112.13 L144.77 112.13 L144.89 112.13 L145.01 112.13 L145.14 112.13 L145.26 112.14 L145.38 112.14 L145.5 112.14 L145.62 112.14 L145.75 112.14 L145.87 112.14 L145.99 112.14 L146.11 112.14 L146.23 112.14 L146.36 112.14 L146.48 112.14 L146.6 112.14 L146.72 112.14 L146.84 112.14 L146.97 112.14 L147.09 112.14 L147.21 112.14 L147.33 112.14 L147.46 112.14 L147.58 112.14 L147.7 112.14 L147.82 112.14 L147.94 112.14 L148.07 112.14 L148.19 112.14 L148.31 112.14 L148.43 112.14 L148.55 112.14 L148.68 112.14 L148.8 112.14 L148.92 112.14 L149.04 112.14 L149.17 112.14 L149.29 112.14 L149.41 112.14 L149.53 112.14 L149.65 112.14 L149.78 112.14 L149.9 112.14 L150.02 112.14 L150.14 112.14 L150.26 112.14 L150.39 112.14 L150.51 112.14 L150.63 112.14 L150.75 112.14 L150.87 112.14 L151 112.14 L151.12 112.14 L151.24 112.14 L151.36 112.14 L151.49 112.14 L151.61 112.14 L151.73 112.14 L151.85 112.14 L151.97 112.14 L152.1 112.14 L152.22 112.14 L152.34 112.14 L152.46 112.14 L152.58 112.14 L152.71 112.14 L152.83 112.14 L152.95 112.14 L153.07 112.14 L153.2 112.14 L153.32 112.14 L153.44 112.14 L153.56 112.14 L153.68 112.14 L153.81 112.14 L153.93 112.14 L154.05 112.14 L154.17 112.14 L154.29 112.14 L154.42 112.14 L154.54 112.14 L154.66 112.14 L154.78 112.14 L154.9 112.14 L155.03 112.14 L155.15 112.14 L155.27 112.14 L155.39 112.14 L155.52 112.14 L155.64 112.14 L155.76 112.14 L155.88 112.14 L156 112.14 L156.13 112.14 L156.25 112.14 L156.37 112.14 L156.49 112.14 L156.61 112.14 L156.74 112.14 L156.86 112.14 L156.98 112.14 L157.1 112.14 L157.23 112.14 L157.35 112.14 L157.47 112.14 L157.59 112.14 L157.71 112.14 L157.84 112.14 L157.96 112.14 L158.08 112.14 L158.2 112.14 L158.32 112.14 L158.45 112.14 L158.57 112.14 L158.69 112.14 L158.81 112.14 L158.93 112.14 L159.06 112.14 L159.18 112.14 L159.3 112.14 L159.42 112.14 L159.55 112.14 L159.67 112.14 L159.79 112.14 L159.91 112.14 L160.03 112.14 L160.16 112.14 L160.28 112.14 L160.4 112.14 L160.52 112.14 L160.64 112.14 L160.77 112.14 L160.89 112.14 L161.01 112.14 L161.13 112.14 L161.26 112.14 L161.38 112.14 L161.5 112.14 L161.62 112.14 L161.74 112.14 L161.87 112.14 L161.99 112.14 L162.11 112.14 L162.23 112.14 L162.35 112.14 L162.48 112.14 L162.6 112.14 L162.72 112.14 L162.84 112.14 L162.96 112.14 L163.09 112.14 L163.21 112.14 L163.33 112.14 L163.45 112.14 L163.58 112.14 L163.7 112.14 L163.82 112.14 L163.94 112.14 L164.06 112.14 L164.19 112.14 L164.31 112.14 L164.43 112.14 L164.55 112.14 L164.67 112.14 L164.8 112.14 L164.92 112.14 L165.04 112.14 L165.16 112.14 L165.29 112.14 L165.41 112.14 L165.53 112.14 L165.65 112.14 L165.77 112.14 L165.9 112.14 L166.02 112.14 L166.14 112.14 L166.26 112.14 L166.38 112.14 L166.51 112.14 L166.63 112.14 L166.75 112.14 L166.87 112.14 L166.99 112.14 L167.12 112.14 L167.24 112.14 L167.36 112.14 L167.48 112.14 L167.61 112.14 L167.73 112.14 L167.85 112.14 L167.97 112.14 L168.09 112.14 L168.22 112.14 L168.34 112.14 L168.46 112.14 L168.58 112.14 L168.7 112.14 L168.83 112.14 L168.95 112.14 L169.07 112.14 L169.19 112.14 L169.32 112.14 L169.44 112.14 L169.56 112.14 L169.68 112.14 L169.8 112.14 L169.93 112.14 L170.05 112.14 L170.17 112.14 L170.29 112.14 L170.41 112.14 L170.54 112.14 L170.66 112.14 L170.78 112.14 L170.9 112.14 L171.02 112.14 L171.15 112.14 L171.27 112.14 L171.39 112.14 L171.51 112.14 L171.64 112.14 L171.76 112.14 L171.88 112.14 L172 112.14 L172.12 112.14 L172.25 112.14 L172.37 112.14 L172.49 112.14 L172.61 112.14 L172.73 112.14 L172.86 112.14 L172.98 112.14 L173.1 112.14 L173.22 112.14 L173.35 112.14 L173.47 112.14 L173.59 112.14 L173.71 112.14 L173.83 112.14 L173.96 112.14 L174.08 112.14 L174.2 112.14 L174.32 112.14 L174.44 112.14 L174.57 112.14 L174.69 112.14 L174.81 112.14 L174.93 112.14 L175.05 112.14 L175.18 112.14 L175.3 112.14 L175.42 112.14 L175.54 112.14 L175.67 112.14 L175.79 112.14 L175.91 112.14 L176.03 112.14 L176.15 112.14 L176.28 112.14 L176.4 112.14 L176.52 112.14 L176.64 112.14 L176.76 112.14 L176.89 112.14 L177.01 112.14 L177.13 112.14 L177.25 112.14 L177.37 112.14 L177.5 112.14 L177.62 112.14 L177.74 112.14 L177.86 112.14 L177.99 112.14 L178.11 112.14 L178.23 112.14 L178.35 112.14 L178.47 112.14 L178.6 112.14 L178.72 112.14 L178.84 112.14 L178.96 112.13 L179.08 112.13 L179.21 112.13 L179.33 112.13 L179.45 112.13 L179.57 112.12 L179.7 112.12 L179.82 112.11 L179.94 112.09 L180.06 112.07 L180.18 112.04 L180.31 112 L180.43 111.95 L180.55 111.88 L180.67 111.79 L180.79 111.67 L180.92 111.52 L181.04 111.34 L181.16 111.1 L181.28 110.82 L181.4 110.48 L181.53 110.09 L181.65 109.63 L181.77 109.1 L181.89 108.52 L182.02 107.88 L182.14 107.19 L182.26 106.46 L182.38 105.71 L182.5 104.96 L182.63 104.22 L182.75 103.51 L182.87 102.87 L182.99 102.31 L183.11 101.85 L183.24 101.51 L183.36 101.3 L183.48 101.23 L183.6 101.3 L183.73 101.51 L183.85 101.85 L183.97 102.31 L184.09 102.87 L184.21 103.51 L184.34 104.22 L184.46 104.96 L184.58 105.71 L184.7 106.46 L184.82 107.19 L184.95 107.88 L185.07 108.52 L185.19 109.1 L185.31 109.63 L185.43 110.09 L185.56 110.48 L185.68 110.82 L185.8 111.1 L185.92 111.34 L186.05 111.52 L186.17 111.67 L186.29 111.79 L186.41 111.88 L186.53 111.95 L186.66 112 L186.78 112.04 L186.9 112.07 L187.02 112.09 L187.14 112.11 L187.27 112.12 L187.39 112.12 L187.51 112.13 L187.63 112.13 L187.76 112.13 L187.88 112.13 L188 112.13 L188.12 112.14 L188.24 112.14 L188.37 112.14 L188.49 112.14 L188.61 112.14 L188.73 112.14 L188.85 112.14 L188.98 112.14 L189.1 112.14 L189.22 112.14 L189.34 112.14 L189.46 112.14 L189.59 112.14 L189.71 112.14 L189.83 112.14 L189.95 112.14 L190.08 112.14 L190.2 112.14 L190.32 112.14 L190.44 112.14 L190.56 112.14 L190.69 112.14 L190.81 112.14 L190.93 112.14 L191.05 112.14 L191.17 112.14 L191.3 112.14 L191.42 112.14 L191.54 112.14 L191.66 112.14 L191.79 112.14 L191.91 112.14 L192.03 112.14 L192.15 112.14 L192.27 112.14 L192.4 112.14 L192.52 112.14 L192.64 112.14 L192.76 112.14 L192.88 112.14 L193.01 112.14 L193.13 112.14 L193.25 112.14 L193.37 112.14 L193.49 112.14 L193.62 112.14 L193.74 112.14 L193.86 112.14 L193.98 112.14 L194.11 112.14 L194.23 112.14 L194.35 112.14 L194.47 112.14 L194.59 112.14 L194.72 112.14 L194.84 112.14 L194.96 112.14 L195.08 112.14 L195.2 112.14 L195.33 112.14 L195.45 112.14 L195.57 112.14 L195.69 112.14 L195.82 112.14 L195.94 112.14 L196.06 112.14 L196.18 112.14 L196.3 112.14 L196.43 112.14 L196.55 112.14 L196.67 112.14 L196.79 112.14 L196.91 112.14 L197.04 112.14 L197.16 112.13 L197.28 112.13 L197.4 112.13 L197.52 112.13 L197.65 112.13 L197.77 112.12 L197.89 112.12 L198.01 112.11 L198.14 112.09 L198.26 112.07 L198.38 112.04 L198.5 112 L198.62 111.95 L198.75 111.88 L198.87 111.78 L198.99 111.65 L199.11 111.49 L199.23 111.28 L199.36 111.01 L199.48 110.68 L199.6 110.29 L199.72 109.81 L199.85 109.25 L199.97 108.61 L200.09 107.87 L200.21 107.05 L200.33 106.15 L200.46 105.18 L200.58 104.16 L200.7 103.1 L200.82 102.04 L200.94 101 L201.07 100.01 L201.19 99.11 L201.31 98.32 L201.43 97.68 L201.55 97.2 L201.68 96.9 L201.8 96.8 L201.92 96.9 L202.04 97.2 L202.17 97.68 L202.29 98.32 L202.41 99.11 L202.53 100.01 L202.65 101 L202.78 102.04 L202.9 103.1 L203.02 104.16 L203.14 105.18 L203.26 106.15 L203.39 107.05 L203.51 107.87 L203.63 108.61 L203.75 109.25 L203.88 109.81 L204 110.29 L204.12 110.68 L204.24 111.01 L204.36 111.28 L204.49 111.49 L204.61 111.65 L204.73 111.78 L204.85 111.88 L204.97 111.95 L205.1 112 L205.22 112.04 L205.34 112.07 L205.46 112.09 L205.58 112.11 L205.71 112.12 L205.83 112.12 L205.95 112.13 L206.07 112.13 L206.2 112.13 L206.32 112.13 L206.44 112.13 L206.56 112.14 L206.68 112.14 L206.81 112.14 L206.93 112.14 L207.05 112.14 L207.17 112.14 L207.29 112.14 L207.42 112.14 L207.54 112.14 L207.66 112.14 L207.78 112.14 L207.9 112.14 L208.03 112.14 L208.15 112.14 L208.27 112.14 L208.39 112.14 L208.52 112.14 L208.64 112.14 L208.76 112.14 L208.88 112.14 L209 112.14 L209.13 112.14 L209.25 112.14 L209.37 112.14 L209.49 112.14 L209.61 112.14 L209.74 112.14 L209.86 112.14 L209.98 112.14 L210.1 112.14 L210.23 112.14 L210.35 112.14 L210.47 112.14 L210.59 112.14 L210.71 112.14 L210.84 112.14 L210.96 112.14 L211.08 112.14 L211.2 112.14 L211.32 112.14 L211.45 112.14 L211.57 112.14 L211.69 112.14 L211.81 112.14 L211.93 112.14 L212.06 112.14 L212.18 112.14 L212.3 112.14 L212.42 112.14 L212.55 112.14 L212.67 112.14 L212.79 112.14 L212.91 112.14 L213.03 112.14 L213.16 112.14 L213.28 112.14 L213.4 112.14 L213.52 112.14 L213.64 112.14 L213.77 112.14 L213.89 112.14 L214.01 112.14 L214.13 112.14 L214.26 112.14 L214.38 112.14 L214.5 112.14 L214.62 112.14 L214.74 112.14 L214.87 112.14 L214.99 112.14 L215.11 112.14 L215.23 112.14 L215.35 112.14 L215.48 112.14 L215.6 112.14 L215.72 112.14 L215.84 112.14 L215.96 112.14 L216.09 112.14 L216.21 112.14 L216.33 112.14 L216.45 112.14 L216.58 112.14 L216.7 112.14 L216.82 112.14 L216.94 112.14 L217.06 112.14 L217.19 112.14 L217.31 112.14 L217.43 112.14 L217.55 112.14 L217.67 112.14 L217.8 112.14 L217.92 112.14 L218.04 112.14 L218.16 112.14 L218.29 112.14 L218.41 112.14 L218.53 112.14 L218.65 112.14 L218.77 112.14 L218.9 112.14 L219.02 112.14 L219.14 112.14 L219.26 112.14 L219.38 112.14 L219.51 112.14 L219.63 112.14 L219.75 112.14 L219.87 112.14 L219.99 112.14 L220.12 112.14 L220.24 112.14 L220.36 112.14 L220.48 112.14 L220.61 112.14 L220.73 112.14 L220.85 112.14 L220.97 112.14 L221.09 112.14 L221.22 112.14 L221.34 112.14 L221.46 112.14 L221.58 112.14 L221.7 112.14 L221.83 112.14 L221.95 112.14 L222.07 112.14 L222.19 112.14 L222.32 112.14 L222.44 112.14 L222.56 112.14 L222.68 112.14 L222.8 112.14 L222.93 112.14 L223.05 112.14 L223.17 112.14 L223.29 112.14 L223.41 112.14 L223.54 112.14 L223.66 112.14 L223.78 112.14 L223.9 112.14 L224.02 112.14 L224.15 112.14 L224.27 112.14 L224.39 112.14 L224.51 112.14 L224.64 112.14 L224.76 112.14 L224.88 112.14 L225 112.14 L225.12 112.14 L225.25 112.14 L225.37 112.14 L225.49 112.14 L225.61 112.14 L225.73 112.14 L225.86 112.14 L225.98 112.14 L226.1 112.14 L226.22 112.14 L226.35 112.14 L226.47 112.14 L226.59 112.14 L226.71 112.14 L226.83 112.14 L226.96 112.14 L227.08 112.14 L227.2 112.14 L227.32 112.14 L227.44 112.14 L227.57 112.14 L227.69 112.14 L227.81 112.14 L227.93 112.14 L228.05 112.14 L228.18 112.14 L228.3 112.14 L228.42 112.14 L228.54 112.14 L228.67 112.14 L228.79 112.14 L228.91 112.14 L229.03 112.14 L229.15 112.14 L229.28 112.14 L229.4 112.14 L229.52 112.14 L229.64 112.14 L229.76 112.14 L229.89 112.14 L230.01 112.14 L230.13 112.14 L230.25 112.14 L230.38 112.14 L230.5 112.14 L230.62 112.14 L230.74 112.14 L230.86 112.14 L230.99 112.14 L231.11 112.14 L231.23 112.14 L231.35 112.14 L231.47 112.14 L231.6 112.14 L231.72 112.14 L231.84 112.14 L231.96 112.14 L232.08 112.14 L232.21 112.14 L232.33 112.14 L232.45 112.14 L232.57 112.14 L232.7 112.14 L232.82 112.14 L232.94 112.14 L233.06 112.14 L233.18 112.14 L233.31 112.14 L233.43 112.14 L233.55 112.14 L233.67 112.14 L233.79 112.14 L233.92 112.14 L234.04 112.14 L234.16 112.14 L234.28 112.14 L234.41 112.14 L234.53 112.14 L234.65 112.14 L234.77 112.14 L234.89 112.14 L235.02 112.14 L235.14 112.14 L235.26 112.14 L235.38 112.14 L235.5 112.14 L235.63 112.14 L235.75 112.14 L235.87 112.14 L235.99 112.14 L236.11 112.14 L236.24 112.14 L236.36 112.14 L236.48 112.14 L236.6 112.14 L236.73 112.14 L236.85 112.14 L236.97 112.14 L237.09 112.14 L237.21 112.14 L237.34 112.14 L237.46 112.14 L237.58 112.14 L237.7 112.14 L237.82 112.14 L237.95 112.14 L238.07 112.14 L238.19 112.14 L238.31 112.14 L238.43 112.14 L238.56 112.14 L238.68 112.14 L238.8 112.14 L238.92 112.14 L239.05 112.14 L239.17 112.14 L239.29 112.14 L239.41 112.14 L239.53 112.13 L239.66 112.13 L239.78 112.13 L239.9 112.13 L240.02 112.13 L240.14 112.12 L240.27 112.11 L240.39 112.1 L240.51 112.08 L240.63 112.06 L240.76 112.02 L240.88 111.96 L241 111.88 L241.12 111.76 L241.24 111.6 L241.37 111.38 L241.49 111.08 L241.61 110.68 L241.73 110.15 L241.85 109.48 L241.98 108.61 L242.1 107.53 L242.22 106.2 L242.34 104.58 L242.46 102.63 L242.59 100.35 L242.71 97.7 L242.83 94.69 L242.95 91.33 L243.08 87.64 L243.2 83.67 L243.32 79.49 L243.44 75.18 L243.56 70.84 L243.69 66.58 L243.81 62.55 L243.93 58.86 L244.05 55.63 L244.17 52.99 L244.3 51.02 L244.42 49.81 L244.54 49.41 L244.66 49.81 L244.79 51.02 L244.91 52.99 L245.03 55.63 L245.15 58.86 L245.27 62.55 L245.4 66.58 L245.52 70.84 L245.64 75.18 L245.76 79.49 L245.88 83.67 L246.01 87.64 L246.13 91.33 L246.25 94.69 L246.37 97.7 L246.49 100.35 L246.62 102.63 L246.74 104.58 L246.86 106.2 L246.98 107.53 L247.11 108.61 L247.23 109.48 L247.35 110.15 L247.47 110.68 L247.59 111.08 L247.72 111.38 L247.84 111.6 L247.96 111.76 L248.08 111.88 L248.2 111.96 L248.33 112.02 L248.45 112.06 L248.57 112.08 L248.69 112.1 L248.82 112.11 L248.94 112.12 L249.06 112.13 L249.18 112.13 L249.3 112.13 L249.43 112.13" stroke="#c8386a" stroke-width="1.35" fill="none" stroke-linejoin="round"/>
</g>
<line x1="113.26" y1="30" x2="113.26" y2="31.6" stroke="#000" stroke-width="0.9"/>
<line x1="113.26" y1="120" x2="113.26" y2="118.4" stroke="#000" stroke-width="0.9"/>
<line x1="119.37" y1="30" x2="119.37" y2="31.6" stroke="#000" stroke-width="0.9"/>
<line x1="119.37" y1="120" x2="119.37" y2="118.4" stroke="#000" stroke-width="0.9"/>
<line x1="125.47" y1="30" x2="125.47" y2="31.6" stroke="#000" stroke-width="0.9"/>
<line x1="125.47" y1="120" x2="125.47" y2="118.4" stroke="#000" stroke-width="0.9"/>
<line x1="131.58" y1="30" x2="131.58" y2="31.6" stroke="#000" stroke-width="0.9"/>
<line x1="131.58" y1="120" x2="131.58" y2="118.4" stroke="#000" stroke-width="0.9"/>
<line x1="137.69" y1="30" x2="137.69" y2="31.6" stroke="#000" stroke-width="0.9"/>
<line x1="137.69" y1="120" x2="137.69" y2="118.4" stroke="#000" stroke-width="0.9"/>
<line x1="143.79" y1="30" x2="143.79" y2="31.6" stroke="#000" stroke-width="0.9"/>
<line x1="143.79" y1="120" x2="143.79" y2="118.4" stroke="#000" stroke-width="0.9"/>
<line x1="149.9" y1="30" x2="149.9" y2="31.6" stroke="#000" stroke-width="0.9"/>
<line x1="149.9" y1="120" x2="149.9" y2="118.4" stroke="#000" stroke-width="0.9"/>
<line x1="156" y1="30" x2="156" y2="31.6" stroke="#000" stroke-width="0.9"/>
<line x1="156" y1="120" x2="156" y2="118.4" stroke="#000" stroke-width="0.9"/>
<line x1="162.11" y1="30" x2="162.11" y2="31.6" stroke="#000" stroke-width="0.9"/>
<line x1="162.11" y1="120" x2="162.11" y2="118.4" stroke="#000" stroke-width="0.9"/>
<line x1="168.22" y1="30" x2="168.22" y2="31.6" stroke="#000" stroke-width="0.9"/>
<line x1="168.22" y1="120" x2="168.22" y2="118.4" stroke="#000" stroke-width="0.9"/>
<line x1="174.32" y1="30" x2="174.32" y2="31.6" stroke="#000" stroke-width="0.9"/>
<line x1="174.32" y1="120" x2="174.32" y2="118.4" stroke="#000" stroke-width="0.9"/>
<line x1="180.43" y1="30" x2="180.43" y2="31.6" stroke="#000" stroke-width="0.9"/>
<line x1="180.43" y1="120" x2="180.43" y2="118.4" stroke="#000" stroke-width="0.9"/>
<line x1="186.53" y1="30" x2="186.53" y2="31.6" stroke="#000" stroke-width="0.9"/>
<line x1="186.53" y1="120" x2="186.53" y2="118.4" stroke="#000" stroke-width="0.9"/>
<line x1="192.64" y1="30" x2="192.64" y2="31.6" stroke="#000" stroke-width="0.9"/>
<line x1="192.64" y1="120" x2="192.64" y2="118.4" stroke="#000" stroke-width="0.9"/>
<line x1="198.75" y1="30" x2="198.75" y2="31.6" stroke="#000" stroke-width="0.9"/>
<line x1="198.75" y1="120" x2="198.75" y2="118.4" stroke="#000" stroke-width="0.9"/>
<line x1="204.85" y1="30" x2="204.85" y2="31.6" stroke="#000" stroke-width="0.9"/>
<line x1="204.85" y1="120" x2="204.85" y2="118.4" stroke="#000" stroke-width="0.9"/>
<line x1="210.96" y1="30" x2="210.96" y2="31.6" stroke="#000" stroke-width="0.9"/>
<line x1="210.96" y1="120" x2="210.96" y2="118.4" stroke="#000" stroke-width="0.9"/>
<line x1="217.06" y1="30" x2="217.06" y2="31.6" stroke="#000" stroke-width="0.9"/>
<line x1="217.06" y1="120" x2="217.06" y2="118.4" stroke="#000" stroke-width="0.9"/>
<line x1="223.17" y1="30" x2="223.17" y2="31.6" stroke="#000" stroke-width="0.9"/>
<line x1="223.17" y1="120" x2="223.17" y2="118.4" stroke="#000" stroke-width="0.9"/>
<line x1="229.28" y1="30" x2="229.28" y2="31.6" stroke="#000" stroke-width="0.9"/>
<line x1="229.28" y1="120" x2="229.28" y2="118.4" stroke="#000" stroke-width="0.9"/>
<line x1="235.38" y1="30" x2="235.38" y2="31.6" stroke="#000" stroke-width="0.9"/>
<line x1="235.38" y1="120" x2="235.38" y2="118.4" stroke="#000" stroke-width="0.9"/>
<line x1="241.49" y1="30" x2="241.49" y2="31.6" stroke="#000" stroke-width="0.9"/>
<line x1="241.49" y1="120" x2="241.49" y2="118.4" stroke="#000" stroke-width="0.9"/>
<line x1="247.59" y1="30" x2="247.59" y2="31.6" stroke="#000" stroke-width="0.9"/>
<line x1="247.59" y1="120" x2="247.59" y2="118.4" stroke="#000" stroke-width="0.9"/>
<line x1="113" y1="120.5" x2="114.6" y2="120.5" stroke="#000" stroke-width="0.9"/>
<line x1="249.2" y1="120.5" x2="247.6" y2="120.5" stroke="#000" stroke-width="0.9"/>
<line x1="113" y1="116.4" x2="114.6" y2="116.4" stroke="#000" stroke-width="0.9"/>
<line x1="249.2" y1="116.4" x2="247.6" y2="116.4" stroke="#000" stroke-width="0.9"/>
<line x1="113" y1="112.3" x2="114.6" y2="112.3" stroke="#000" stroke-width="0.9"/>
<line x1="249.2" y1="112.3" x2="247.6" y2="112.3" stroke="#000" stroke-width="0.9"/>
<line x1="113" y1="108.2" x2="114.6" y2="108.2" stroke="#000" stroke-width="0.9"/>
<line x1="249.2" y1="108.2" x2="247.6" y2="108.2" stroke="#000" stroke-width="0.9"/>
<line x1="113" y1="104.1" x2="114.6" y2="104.1" stroke="#000" stroke-width="0.9"/>
<line x1="249.2" y1="104.1" x2="247.6" y2="104.1" stroke="#000" stroke-width="0.9"/>
<line x1="113" y1="100" x2="114.6" y2="100" stroke="#000" stroke-width="0.9"/>
<line x1="249.2" y1="100" x2="247.6" y2="100" stroke="#000" stroke-width="0.9"/>
<line x1="113" y1="95.9" x2="114.6" y2="95.9" stroke="#000" stroke-width="0.9"/>
<line x1="249.2" y1="95.9" x2="247.6" y2="95.9" stroke="#000" stroke-width="0.9"/>
<line x1="113" y1="91.8" x2="114.6" y2="91.8" stroke="#000" stroke-width="0.9"/>
<line x1="249.2" y1="91.8" x2="247.6" y2="91.8" stroke="#000" stroke-width="0.9"/>
<line x1="113" y1="87.7" x2="114.6" y2="87.7" stroke="#000" stroke-width="0.9"/>
<line x1="249.2" y1="87.7" x2="247.6" y2="87.7" stroke="#000" stroke-width="0.9"/>
<line x1="113" y1="83.6" x2="114.6" y2="83.6" stroke="#000" stroke-width="0.9"/>
<line x1="249.2" y1="83.6" x2="247.6" y2="83.6" stroke="#000" stroke-width="0.9"/>
<line x1="113" y1="79.5" x2="114.6" y2="79.5" stroke="#000" stroke-width="0.9"/>
<line x1="249.2" y1="79.5" x2="247.6" y2="79.5" stroke="#000" stroke-width="0.9"/>
<line x1="113" y1="75.4" x2="114.6" y2="75.4" stroke="#000" stroke-width="0.9"/>
<line x1="249.2" y1="75.4" x2="247.6" y2="75.4" stroke="#000" stroke-width="0.9"/>
<line x1="113" y1="71.3" x2="114.6" y2="71.3" stroke="#000" stroke-width="0.9"/>
<line x1="249.2" y1="71.3" x2="247.6" y2="71.3" stroke="#000" stroke-width="0.9"/>
<line x1="113" y1="67.2" x2="114.6" y2="67.2" stroke="#000" stroke-width="0.9"/>
<line x1="249.2" y1="67.2" x2="247.6" y2="67.2" stroke="#000" stroke-width="0.9"/>
<line x1="113" y1="63.1" x2="114.6" y2="63.1" stroke="#000" stroke-width="0.9"/>
<line x1="249.2" y1="63.1" x2="247.6" y2="63.1" stroke="#000" stroke-width="0.9"/>
<line x1="113" y1="59" x2="114.6" y2="59" stroke="#000" stroke-width="0.9"/>
<line x1="249.2" y1="59" x2="247.6" y2="59" stroke="#000" stroke-width="0.9"/>
<line x1="113" y1="54.9" x2="114.6" y2="54.9" stroke="#000" stroke-width="0.9"/>
<line x1="249.2" y1="54.9" x2="247.6" y2="54.9" stroke="#000" stroke-width="0.9"/>
<line x1="113" y1="50.8" x2="114.6" y2="50.8" stroke="#000" stroke-width="0.9"/>
<line x1="249.2" y1="50.8" x2="247.6" y2="50.8" stroke="#000" stroke-width="0.9"/>
<line x1="113" y1="46.7" x2="114.6" y2="46.7" stroke="#000" stroke-width="0.9"/>
<line x1="249.2" y1="46.7" x2="247.6" y2="46.7" stroke="#000" stroke-width="0.9"/>
<line x1="113" y1="42.6" x2="114.6" y2="42.6" stroke="#000" stroke-width="0.9"/>
<line x1="249.2" y1="42.6" x2="247.6" y2="42.6" stroke="#000" stroke-width="0.9"/>
<line x1="113" y1="38.5" x2="114.6" y2="38.5" stroke="#000" stroke-width="0.9"/>
<line x1="249.2" y1="38.5" x2="247.6" y2="38.5" stroke="#000" stroke-width="0.9"/>
<line x1="113" y1="34.4" x2="114.6" y2="34.4" stroke="#000" stroke-width="0.9"/>
<line x1="249.2" y1="34.4" x2="247.6" y2="34.4" stroke="#000" stroke-width="0.9"/>
<line x1="113" y1="30.3" x2="114.6" y2="30.3" stroke="#000" stroke-width="0.9"/>
<line x1="249.2" y1="30.3" x2="247.6" y2="30.3" stroke="#000" stroke-width="0.9"/>
<rect x="113" y="30" width="136.2" height="90" fill="none" stroke="#000" stroke-width="1.1"/>
<text x="110.8" y="114.9" font-size="7.65" text-anchor="end" font-weight="normal"  fill="#000" stroke="#000" stroke-width="0.22" >0</text>
<text x="110.8" y="98.5" font-size="7.65" text-anchor="end" font-weight="normal"  fill="#000" stroke="#000" stroke-width="0.22" >2</text>
<text x="110.8" y="82.1" font-size="7.65" text-anchor="end" font-weight="normal"  fill="#000" stroke="#000" stroke-width="0.22" >4</text>
<text x="110.8" y="65.7" font-size="7.65" text-anchor="end" font-weight="normal"  fill="#000" stroke="#000" stroke-width="0.22" >6</text>
<text x="110.8" y="49.3" font-size="7.65" text-anchor="end" font-weight="normal"  fill="#000" stroke="#000" stroke-width="0.22" >8</text>
<text x="131.28" y="128.6" font-size="7.65" text-anchor="middle" font-weight="normal"  fill="#000" stroke="#000" stroke-width="0.22" >-4</text>
<text x="161.81" y="128.6" font-size="7.65" text-anchor="middle" font-weight="normal"  fill="#000" stroke="#000" stroke-width="0.22" >-3</text>
<text x="192.34" y="128.6" font-size="7.65" text-anchor="middle" font-weight="normal"  fill="#000" stroke="#000" stroke-width="0.22" >-2</text>
<text x="222.87" y="128.6" font-size="7.65" text-anchor="middle" font-weight="normal"  fill="#000" stroke="#000" stroke-width="0.22" >-1</text>
<text transform="translate(102.6 75.2) rotate(-90)" x="0" y="0" font-size="8.2" text-anchor="middle" fill="#000" stroke="#000" stroke-width="0.22">Intensity (a.u.)</text>
<text x="181.2" y="139.9" font-size="8.35" text-anchor="middle" font-weight="normal"  fill="#000" stroke="#000" stroke-width="0.22" ><tspan font-style="italic">L</tspan> in [0 0 L] (r.l.u.)</text>
<rect x="119.6" y="36.6" width="64.1" height="18.6" rx="2.5" fill="#fff" stroke="#333" stroke-width="0.9"/>
<path d="M125.8 40.4V46.2M124.1 40.4H127.5M124.1 46.2H127.5" stroke="#4fc4b8" stroke-width="1.0" fill="none"/>
<circle cx="125.8" cy="43.3" r="1.3" fill="#4fc4b8"/>
<line x1="122.2" y1="50.6" x2="129.4" y2="50.6" stroke="#c8386a" stroke-width="1.3"/>
<text x="130.8" y="45.4" font-size="6.35" text-anchor="start" font-weight="normal"  fill="#000" stroke="#000" stroke-width="0.15" >I(4.5K) - I(60K)</text>
<text x="130.8" y="53.1" font-size="6.3" text-anchor="start" font-weight="normal"  fill="#000" stroke="#000" stroke-width="0.15" >Model Calculation</text>
<clipPath id="cb"><rect x="278.4" y="29.8" width="136.2" height="90.2"/></clipPath>
<line x1="324.2" y1="29.8" x2="324.2" y2="120" stroke="#d9d9d9" stroke-width="0.9"/>
<line x1="370" y1="29.8" x2="370" y2="120" stroke="#d9d9d9" stroke-width="0.9"/>
<line x1="278.4" y1="90.4" x2="414.6" y2="90.4" stroke="#d9d9d9" stroke-width="0.9"/>
<line x1="278.4" y1="60.8" x2="414.6" y2="60.8" stroke="#d9d9d9" stroke-width="0.9"/>
<g clip-path="url(#cb)">
<path d="M278.7 104.66V108.77" stroke="#5ccabc" stroke-width="0.7"/>
<path d="M277.4 104.36H280L278.7 105.96ZM277.4 109.07H280L278.7 107.47Z" fill="#5ccabc"/>
<circle cx="278.7" cy="106.72" r="0.9" fill="#4cc4b4"/>
<path d="M283.28 103.95V108.13" stroke="#5ccabc" stroke-width="0.7"/>
<path d="M281.98 103.65H284.58L283.28 105.25ZM281.98 108.43H284.58L283.28 106.83Z" fill="#5ccabc"/>
<circle cx="283.28" cy="106.04" r="0.9" fill="#4cc4b4"/>
<path d="M287.86 102.79V106.71" stroke="#5ccabc" stroke-width="0.7"/>
<path d="M286.56 102.49H289.16L287.86 104.09ZM286.56 107.01H289.16L287.86 105.41Z" fill="#5ccabc"/>
<circle cx="287.86" cy="104.75" r="0.9" fill="#4cc4b4"/>
<path d="M292.44 102.36V107.17" stroke="#5ccabc" stroke-width="0.7"/>
<path d="M291.14 102.06H293.74L292.44 103.66ZM291.14 107.47H293.74L292.44 105.87Z" fill="#5ccabc"/>
<circle cx="292.44" cy="104.77" r="0.9" fill="#4cc4b4"/>
<path d="M297.02 101.88V105.54" stroke="#5ccabc" stroke-width="0.7"/>
<path d="M295.72 101.58H298.32L297.02 103.18ZM295.72 105.84H298.32L297.02 104.24Z" fill="#5ccabc"/>
<circle cx="297.02" cy="103.71" r="0.9" fill="#4cc4b4"/>
<path d="M301.6 100.44V104.92" stroke="#5ccabc" stroke-width="0.7"/>
<path d="M300.3 100.14H302.9L301.6 101.74ZM300.3 105.22H302.9L301.6 103.62Z" fill="#5ccabc"/>
<circle cx="301.6" cy="102.68" r="0.9" fill="#4cc4b4"/>
<path d="M306.18 101.49V106.51" stroke="#5ccabc" stroke-width="0.7"/>
<path d="M304.88 101.19H307.48L306.18 102.79ZM304.88 106.81H307.48L306.18 105.21Z" fill="#5ccabc"/>
<circle cx="306.18" cy="104" r="0.9" fill="#4cc4b4"/>
<path d="M310.76 96.26V101.44" stroke="#5ccabc" stroke-width="0.7"/>
<path d="M309.46 95.96H312.06L310.76 97.56ZM309.46 101.74H312.06L310.76 100.14Z" fill="#5ccabc"/>
<circle cx="310.76" cy="98.85" r="0.9" fill="#4cc4b4"/>
<path d="M315.34 99.22V102.97" stroke="#5ccabc" stroke-width="0.7"/>
<path d="M314.04 98.92H316.64L315.34 100.52ZM314.04 103.27H316.64L315.34 101.67Z" fill="#5ccabc"/>
<circle cx="315.34" cy="101.1" r="0.9" fill="#4cc4b4"/>
<path d="M319.92 97.46V101.86" stroke="#5ccabc" stroke-width="0.7"/>
<path d="M318.62 97.16H321.22L319.92 98.76ZM318.62 102.16H321.22L319.92 100.56Z" fill="#5ccabc"/>
<circle cx="319.92" cy="99.66" r="0.9" fill="#4cc4b4"/>
<path d="M324.5 99.09V103.06" stroke="#5ccabc" stroke-width="0.7"/>
<path d="M323.2 98.79H325.8L324.5 100.39ZM323.2 103.36H325.8L324.5 101.76Z" fill="#5ccabc"/>
<circle cx="324.5" cy="101.07" r="0.9" fill="#4cc4b4"/>
<path d="M329.08 98.18V102.44" stroke="#5ccabc" stroke-width="0.7"/>
<path d="M327.78 97.88H330.38L329.08 99.48ZM327.78 102.74H330.38L329.08 101.14Z" fill="#5ccabc"/>
<circle cx="329.08" cy="100.31" r="0.9" fill="#4cc4b4"/>
<path d="M333.66 95.4V100.2" stroke="#5ccabc" stroke-width="0.7"/>
<path d="M332.36 95.1H334.96L333.66 96.7ZM332.36 100.5H334.96L333.66 98.9Z" fill="#5ccabc"/>
<circle cx="333.66" cy="97.8" r="0.9" fill="#4cc4b4"/>
<path d="M338.24 93.22V98.18" stroke="#5ccabc" stroke-width="0.7"/>
<path d="M336.94 92.92H339.54L338.24 94.52ZM336.94 98.48H339.54L338.24 96.88Z" fill="#5ccabc"/>
<circle cx="338.24" cy="95.7" r="0.9" fill="#4cc4b4"/>
<path d="M342.82 85.42V90.36" stroke="#5ccabc" stroke-width="0.7"/>
<path d="M341.52 85.12H344.12L342.82 86.72ZM341.52 90.66H344.12L342.82 89.06Z" fill="#5ccabc"/>
<circle cx="342.82" cy="87.89" r="0.9" fill="#4cc4b4"/>
<path d="M347.4 79.01V83.08" stroke="#5ccabc" stroke-width="0.7"/>
<path d="M346.1 78.71H348.7L347.4 80.31ZM346.1 83.38H348.7L347.4 81.78Z" fill="#5ccabc"/>
<circle cx="347.4" cy="81.04" r="0.9" fill="#4cc4b4"/>
<path d="M351.98 71.11V75.89" stroke="#5ccabc" stroke-width="0.7"/>
<path d="M350.68 70.81H353.28L351.98 72.41ZM350.68 76.19H353.28L351.98 74.59Z" fill="#5ccabc"/>
<circle cx="351.98" cy="73.5" r="0.9" fill="#4cc4b4"/>
<path d="M356.56 60.69V64.6" stroke="#5ccabc" stroke-width="0.7"/>
<path d="M355.26 60.39H357.86L356.56 61.99ZM355.26 64.9H357.86L356.56 63.3Z" fill="#5ccabc"/>
<circle cx="356.56" cy="62.64" r="0.9" fill="#4cc4b4"/>
<path d="M361.14 51.03V54.87" stroke="#5ccabc" stroke-width="0.7"/>
<path d="M359.84 50.73H362.44L361.14 52.33ZM359.84 55.17H362.44L361.14 53.57Z" fill="#5ccabc"/>
<circle cx="361.14" cy="52.95" r="0.9" fill="#4cc4b4"/>
<path d="M365.72 42.27V47.28" stroke="#5ccabc" stroke-width="0.7"/>
<path d="M364.42 41.97H367.02L365.72 43.57ZM364.42 47.58H367.02L365.72 45.98Z" fill="#5ccabc"/>
<circle cx="365.72" cy="44.78" r="0.9" fill="#4cc4b4"/>
<path d="M370.3 36.78V41.01" stroke="#5ccabc" stroke-width="0.7"/>
<path d="M369 36.48H371.6L370.3 38.08ZM369 41.31H371.6L370.3 39.71Z" fill="#5ccabc"/>
<circle cx="370.3" cy="38.9" r="0.9" fill="#4cc4b4"/>
<path d="M374.88 45.53V50.72" stroke="#5ccabc" stroke-width="0.7"/>
<path d="M373.58 45.23H376.18L374.88 46.83ZM373.58 51.02H376.18L374.88 49.42Z" fill="#5ccabc"/>
<circle cx="374.88" cy="48.13" r="0.9" fill="#4cc4b4"/>
<path d="M379.46 52.56V57.45" stroke="#5ccabc" stroke-width="0.7"/>
<path d="M378.16 52.26H380.76L379.46 53.86ZM378.16 57.75H380.76L379.46 56.15Z" fill="#5ccabc"/>
<circle cx="379.46" cy="55" r="0.9" fill="#4cc4b4"/>
<path d="M384.04 58.46V63.11" stroke="#5ccabc" stroke-width="0.7"/>
<path d="M382.74 58.16H385.34L384.04 59.76ZM382.74 63.41H385.34L384.04 61.81Z" fill="#5ccabc"/>
<circle cx="384.04" cy="60.79" r="0.9" fill="#4cc4b4"/>
<path d="M388.62 64.78V69.14" stroke="#5ccabc" stroke-width="0.7"/>
<path d="M387.32 64.48H389.92L388.62 66.08ZM387.32 69.44H389.92L388.62 67.84Z" fill="#5ccabc"/>
<circle cx="388.62" cy="66.96" r="0.9" fill="#4cc4b4"/>
<path d="M393.2 71.96V76.88" stroke="#5ccabc" stroke-width="0.7"/>
<path d="M391.9 71.66H394.5L393.2 73.26ZM391.9 77.18H394.5L393.2 75.58Z" fill="#5ccabc"/>
<circle cx="393.2" cy="74.42" r="0.9" fill="#4cc4b4"/>
<path d="M397.78 72.79V76.45" stroke="#5ccabc" stroke-width="0.7"/>
<path d="M396.48 72.49H399.08L397.78 74.09ZM396.48 76.75H399.08L397.78 75.15Z" fill="#5ccabc"/>
<circle cx="397.78" cy="74.62" r="0.9" fill="#4cc4b4"/>
<path d="M402.36 83.42V87.49" stroke="#5ccabc" stroke-width="0.7"/>
<path d="M401.06 83.12H403.66L402.36 84.72ZM401.06 87.79H403.66L402.36 86.19Z" fill="#5ccabc"/>
<circle cx="402.36" cy="85.46" r="0.9" fill="#4cc4b4"/>
<path d="M406.94 77.04V82.19" stroke="#5ccabc" stroke-width="0.7"/>
<path d="M405.64 76.74H408.24L406.94 78.34ZM405.64 82.49H408.24L406.94 80.89Z" fill="#5ccabc"/>
<circle cx="406.94" cy="79.61" r="0.9" fill="#4cc4b4"/>
<path d="M411.52 76.66V81.19" stroke="#5ccabc" stroke-width="0.7"/>
<path d="M410.22 76.36H412.82L411.52 77.96ZM410.22 81.49H412.82L411.52 79.89Z" fill="#5ccabc"/>
<circle cx="411.52" cy="78.92" r="0.9" fill="#4cc4b4"/>
<path d="M416.1 74.64V79.62" stroke="#5ccabc" stroke-width="0.7"/>
<path d="M414.8 74.34H417.4L416.1 75.94ZM414.8 79.92H417.4L416.1 78.32Z" fill="#5ccabc"/>
<circle cx="416.1" cy="77.13" r="0.9" fill="#4cc4b4"/>
<path d="M278.4 102.56V106.7" stroke="#5c7888" stroke-width="0.7"/>
<path d="M277.1 102.26H279.7L278.4 103.86ZM277.1 107H279.7L278.4 105.4Z" fill="#5c7888"/>
<circle cx="278.4" cy="104.63" r="0.8" fill="#8aa0ac"/>
<path d="M282.98 102.28V106.19" stroke="#5c7888" stroke-width="0.7"/>
<path d="M281.68 101.98H284.28L282.98 103.58ZM281.68 106.49H284.28L282.98 104.89Z" fill="#5c7888"/>
<circle cx="282.98" cy="104.23" r="0.8" fill="#8aa0ac"/>
<path d="M287.56 103.61V108.15" stroke="#5c7888" stroke-width="0.7"/>
<path d="M286.26 103.31H288.86L287.56 104.91ZM286.26 108.45H288.86L287.56 106.85Z" fill="#5c7888"/>
<circle cx="287.56" cy="105.88" r="0.8" fill="#8aa0ac"/>
<path d="M292.14 101.18V105.92" stroke="#5c7888" stroke-width="0.7"/>
<path d="M290.84 100.88H293.44L292.14 102.48ZM290.84 106.22H293.44L292.14 104.62Z" fill="#5c7888"/>
<circle cx="292.14" cy="103.55" r="0.8" fill="#8aa0ac"/>
<path d="M296.72 99.97V103.7" stroke="#5c7888" stroke-width="0.7"/>
<path d="M295.42 99.67H298.02L296.72 101.27ZM295.42 104H298.02L296.72 102.4Z" fill="#5c7888"/>
<circle cx="296.72" cy="101.83" r="0.8" fill="#8aa0ac"/>
<path d="M301.3 98.39V102.71" stroke="#5c7888" stroke-width="0.7"/>
<path d="M300 98.09H302.6L301.3 99.69ZM300 103.01H302.6L301.3 101.41Z" fill="#5c7888"/>
<circle cx="301.3" cy="100.55" r="0.8" fill="#8aa0ac"/>
<path d="M305.88 99.51V103.86" stroke="#5c7888" stroke-width="0.7"/>
<path d="M304.58 99.21H307.18L305.88 100.81ZM304.58 104.16H307.18L305.88 102.56Z" fill="#5c7888"/>
<circle cx="305.88" cy="101.69" r="0.8" fill="#8aa0ac"/>
<path d="M310.46 98.85V102.72" stroke="#5c7888" stroke-width="0.7"/>
<path d="M309.16 98.55H311.76L310.46 100.15ZM309.16 103.02H311.76L310.46 101.42Z" fill="#5c7888"/>
<circle cx="310.46" cy="100.78" r="0.8" fill="#8aa0ac"/>
<path d="M315.04 96.32V100.36" stroke="#5c7888" stroke-width="0.7"/>
<path d="M313.74 96.02H316.34L315.04 97.62ZM313.74 100.66H316.34L315.04 99.06Z" fill="#5c7888"/>
<circle cx="315.04" cy="98.34" r="0.8" fill="#8aa0ac"/>
<path d="M319.62 97.73V101.5" stroke="#5c7888" stroke-width="0.7"/>
<path d="M318.32 97.43H320.92L319.62 99.03ZM318.32 101.8H320.92L319.62 100.2Z" fill="#5c7888"/>
<circle cx="319.62" cy="99.61" r="0.8" fill="#8aa0ac"/>
<path d="M324.2 95.86V99.7" stroke="#5c7888" stroke-width="0.7"/>
<path d="M322.9 95.56H325.5L324.2 97.16ZM322.9 100H325.5L324.2 98.4Z" fill="#5c7888"/>
<circle cx="324.2" cy="97.78" r="0.8" fill="#8aa0ac"/>
<path d="M328.78 94.08V97.99" stroke="#5c7888" stroke-width="0.7"/>
<path d="M327.48 93.78H330.08L328.78 95.38ZM327.48 98.29H330.08L328.78 96.69Z" fill="#5c7888"/>
<circle cx="328.78" cy="96.04" r="0.8" fill="#8aa0ac"/>
<path d="M333.36 94.78V99.1" stroke="#5c7888" stroke-width="0.7"/>
<path d="M332.06 94.48H334.66L333.36 96.08ZM332.06 99.4H334.66L333.36 97.8Z" fill="#5c7888"/>
<circle cx="333.36" cy="96.94" r="0.8" fill="#8aa0ac"/>
<path d="M337.94 99.88V104.26" stroke="#5c7888" stroke-width="0.7"/>
<path d="M336.64 99.58H339.24L337.94 101.18ZM336.64 104.56H339.24L337.94 102.96Z" fill="#5c7888"/>
<circle cx="337.94" cy="102.07" r="0.8" fill="#8aa0ac"/>
<path d="M342.52 94.1V97.94" stroke="#5c7888" stroke-width="0.7"/>
<path d="M341.22 93.8H343.82L342.52 95.4ZM341.22 98.24H343.82L342.52 96.64Z" fill="#5c7888"/>
<circle cx="342.52" cy="96.02" r="0.8" fill="#8aa0ac"/>
<path d="M347.1 92.36V95.97" stroke="#5c7888" stroke-width="0.7"/>
<path d="M345.8 92.06H348.4L347.1 93.66ZM345.8 96.27H348.4L347.1 94.67Z" fill="#5c7888"/>
<circle cx="347.1" cy="94.17" r="0.8" fill="#8aa0ac"/>
<path d="M351.68 91.53V95.52" stroke="#5c7888" stroke-width="0.7"/>
<path d="M350.38 91.23H352.98L351.68 92.83ZM350.38 95.82H352.98L351.68 94.22Z" fill="#5c7888"/>
<circle cx="351.68" cy="93.52" r="0.8" fill="#8aa0ac"/>
<path d="M356.26 90.14V94.56" stroke="#5c7888" stroke-width="0.7"/>
<path d="M354.96 89.84H357.56L356.26 91.44ZM354.96 94.86H357.56L356.26 93.26Z" fill="#5c7888"/>
<circle cx="356.26" cy="92.35" r="0.8" fill="#8aa0ac"/>
<path d="M360.84 88.37V92.19" stroke="#5c7888" stroke-width="0.7"/>
<path d="M359.54 88.07H362.14L360.84 89.67ZM359.54 92.49H362.14L360.84 90.89Z" fill="#5c7888"/>
<circle cx="360.84" cy="90.28" r="0.8" fill="#8aa0ac"/>
<path d="M365.42 85.93V89.9" stroke="#5c7888" stroke-width="0.7"/>
<path d="M364.12 85.63H366.72L365.42 87.23ZM364.12 90.2H366.72L365.42 88.6Z" fill="#5c7888"/>
<circle cx="365.42" cy="87.92" r="0.8" fill="#8aa0ac"/>
<path d="M370 88.06V91.9" stroke="#5c7888" stroke-width="0.7"/>
<path d="M368.7 87.76H371.3L370 89.36ZM368.7 92.2H371.3L370 90.6Z" fill="#5c7888"/>
<circle cx="370" cy="89.98" r="0.8" fill="#8aa0ac"/>
<path d="M374.58 86.46V91.01" stroke="#5c7888" stroke-width="0.7"/>
<path d="M373.28 86.16H375.88L374.58 87.76ZM373.28 91.31H375.88L374.58 89.71Z" fill="#5c7888"/>
<circle cx="374.58" cy="88.74" r="0.8" fill="#8aa0ac"/>
<path d="M379.16 84.3V88.56" stroke="#5c7888" stroke-width="0.7"/>
<path d="M377.86 84H380.46L379.16 85.6ZM377.86 88.86H380.46L379.16 87.26Z" fill="#5c7888"/>
<circle cx="379.16" cy="86.43" r="0.8" fill="#8aa0ac"/>
<path d="M383.74 84.96V88.63" stroke="#5c7888" stroke-width="0.7"/>
<path d="M382.44 84.66H385.04L383.74 86.26ZM382.44 88.93H385.04L383.74 87.33Z" fill="#5c7888"/>
<circle cx="383.74" cy="86.79" r="0.8" fill="#8aa0ac"/>
<path d="M388.32 82.03V85.75" stroke="#5c7888" stroke-width="0.7"/>
<path d="M387.02 81.73H389.62L388.32 83.33ZM387.02 86.05H389.62L388.32 84.45Z" fill="#5c7888"/>
<circle cx="388.32" cy="83.89" r="0.8" fill="#8aa0ac"/>
<path d="M392.9 80.42V84.5" stroke="#5c7888" stroke-width="0.7"/>
<path d="M391.6 80.12H394.2L392.9 81.72ZM391.6 84.8H394.2L392.9 83.2Z" fill="#5c7888"/>
<circle cx="392.9" cy="82.46" r="0.8" fill="#8aa0ac"/>
<path d="M397.48 79.8V84.06" stroke="#5c7888" stroke-width="0.7"/>
<path d="M396.18 79.5H398.78L397.48 81.1ZM396.18 84.36H398.78L397.48 82.76Z" fill="#5c7888"/>
<circle cx="397.48" cy="81.93" r="0.8" fill="#8aa0ac"/>
<path d="M402.06 77.45V81.82" stroke="#5c7888" stroke-width="0.7"/>
<path d="M400.76 77.15H403.36L402.06 78.75ZM400.76 82.12H403.36L402.06 80.52Z" fill="#5c7888"/>
<circle cx="402.06" cy="79.63" r="0.8" fill="#8aa0ac"/>
<path d="M406.64 78.41V82.12" stroke="#5c7888" stroke-width="0.7"/>
<path d="M405.34 78.11H407.94L406.64 79.71ZM405.34 82.42H407.94L406.64 80.82Z" fill="#5c7888"/>
<circle cx="406.64" cy="80.26" r="0.8" fill="#8aa0ac"/>
<path d="M411.22 74.38V78.18" stroke="#5c7888" stroke-width="0.7"/>
<path d="M409.92 74.08H412.52L411.22 75.68ZM409.92 78.48H412.52L411.22 76.88Z" fill="#5c7888"/>
<circle cx="411.22" cy="76.28" r="0.8" fill="#8aa0ac"/>
<path d="M415.8 74.8V79.23" stroke="#5c7888" stroke-width="0.7"/>
<path d="M414.5 74.5H417.1L415.8 76.1ZM414.5 79.53H417.1L415.8 77.93Z" fill="#5c7888"/>
<circle cx="415.8" cy="77.02" r="0.8" fill="#8aa0ac"/>
<path d="M278.4 107.67 L279.32 107.57 L280.23 107.47 L281.15 107.36 L282.06 107.26 L282.98 107.16 L283.9 107.05 L284.81 106.95 L285.73 106.84 L286.64 106.73 L287.56 106.62 L288.48 106.52 L289.39 106.41 L290.31 106.3 L291.22 106.18 L292.14 106.07 L293.06 105.96 L293.97 105.84 L294.89 105.73 L295.8 105.61 L296.72 105.49 L297.64 105.38 L298.55 105.26 L299.47 105.14 L300.38 105.01 L301.3 104.89 L302.22 104.77 L303.13 104.64 L304.05 104.52 L304.96 104.39 L305.88 104.26 L306.8 104.13 L307.71 103.99 L308.63 103.86 L309.54 103.72 L310.46 103.58 L311.38 103.44 L312.29 103.29 L313.21 103.14 L314.12 102.98 L315.04 102.83 L315.96 102.66 L316.87 102.49 L317.79 102.31 L318.7 102.12 L319.62 101.93 L320.54 101.72 L321.45 101.5 L322.37 101.27 L323.28 101.02 L324.2 100.75 L325.12 100.46 L326.03 100.15 L326.95 99.82 L327.86 99.46 L328.78 99.06 L329.7 98.63 L330.61 98.17 L331.53 97.66 L332.44 97.11 L333.36 96.51 L334.28 95.86 L335.19 95.15 L336.11 94.38 L337.02 93.55 L337.94 92.66 L338.86 91.69 L339.77 90.66 L340.69 89.56 L341.6 88.37 L342.52 87.12 L343.44 85.79 L344.35 84.39 L345.27 82.91 L346.18 81.36 L347.1 79.75 L348.02 78.08 L348.93 76.34 L349.85 74.56 L350.76 72.74 L351.68 70.89 L352.6 69.01 L353.51 67.11 L354.43 65.22 L355.34 63.34 L356.26 61.48 L357.18 59.65 L358.09 57.88 L359.01 56.17 L359.92 54.53 L360.84 52.99 L361.76 51.54 L362.67 50.21 L363.59 49 L364.5 47.93 L365.42 47 L366.34 46.22 L367.25 45.59 L368.17 45.12 L369.08 44.82 L370 44.69 L370.92 44.76 L371.83 45.02 L372.75 45.47 L373.66 46.1 L374.58 46.89 L375.5 47.83 L376.41 48.92 L377.33 50.13 L378.24 51.45 L379.16 52.86 L380.08 54.35 L380.99 55.89 L381.91 57.47 L382.82 59.08 L383.74 60.69 L384.66 62.29 L385.57 63.87 L386.49 65.41 L387.4 66.9 L388.32 68.33 L389.24 69.69 L390.15 70.98 L391.07 72.19 L391.98 73.31 L392.9 74.34 L393.82 75.28 L394.73 76.14 L395.65 76.9 L396.56 77.57 L397.48 78.16 L398.4 78.66 L399.31 79.09 L400.23 79.44 L401.14 79.72 L402.06 79.93 L402.98 80.08 L403.89 80.18 L404.81 80.22 L405.72 80.22 L406.64 80.18 L407.56 80.09 L408.47 79.97 L409.39 79.82 L410.3 79.65 L411.22 79.45 L412.14 79.22 L413.05 78.98 L413.97 78.72 L414.88 78.45 L415.8 78.16" stroke="#1a9a8a" stroke-width="1.4" fill="none" stroke-linejoin="round"/>
<path d="M278.4 107.67 L279.32 107.57 L280.23 107.47 L281.15 107.36 L282.06 107.26 L282.98 107.16 L283.9 107.05 L284.81 106.95 L285.73 106.84 L286.64 106.73 L287.56 106.62 L288.48 106.52 L289.39 106.41 L290.31 106.3 L291.22 106.18 L292.14 106.07 L293.06 105.96 L293.97 105.84 L294.89 105.73 L295.8 105.61 L296.72 105.5 L297.64 105.38 L298.55 105.26 L299.47 105.14 L300.38 105.02 L301.3 104.89 L302.22 104.77 L303.13 104.65 L304.05 104.52 L304.96 104.4 L305.88 104.27 L306.8 104.14 L307.71 104.01 L308.63 103.88 L309.54 103.75 L310.46 103.62 L311.38 103.49 L312.29 103.35 L313.21 103.22 L314.12 103.08 L315.04 102.94 L315.96 102.8 L316.87 102.66 L317.79 102.52 L318.7 102.38 L319.62 102.24 L320.54 102.09 L321.45 101.94 L322.37 101.8 L323.28 101.65 L324.2 101.5 L325.12 101.35 L326.03 101.2 L326.95 101.04 L327.86 100.89 L328.78 100.73 L329.7 100.58 L330.61 100.42 L331.53 100.26 L332.44 100.1 L333.36 99.94 L334.28 99.77 L335.19 99.61 L336.11 99.44 L337.02 99.28 L337.94 99.11 L338.86 98.94 L339.77 98.77 L340.69 98.59 L341.6 98.42 L342.52 98.24 L343.44 98.07 L344.35 97.89 L345.27 97.71 L346.18 97.53 L347.1 97.34 L348.02 97.16 L348.93 96.97 L349.85 96.78 L350.76 96.6 L351.68 96.4 L352.6 96.21 L353.51 96.02 L354.43 95.82 L355.34 95.63 L356.26 95.43 L357.18 95.23 L358.09 95.03 L359.01 94.82 L359.92 94.62 L360.84 94.41 L361.76 94.2 L362.67 93.99 L363.59 93.78 L364.5 93.57 L365.42 93.35 L366.34 93.14 L367.25 92.92 L368.17 92.7 L369.08 92.47 L370 92.25 L370.92 92.02 L371.83 91.8 L372.75 91.57 L373.66 91.34 L374.58 91.1 L375.5 90.87 L376.41 90.63 L377.33 90.39 L378.24 90.15 L379.16 89.91 L380.08 89.66 L380.99 89.41 L381.91 89.16 L382.82 88.91 L383.74 88.66 L384.66 88.41 L385.57 88.15 L386.49 87.89 L387.4 87.63 L388.32 87.36 L389.24 87.1 L390.15 86.83 L391.07 86.56 L391.98 86.29 L392.9 86.01 L393.82 85.74 L394.73 85.46 L395.65 85.18 L396.56 84.89 L397.48 84.61 L398.4 84.32 L399.31 84.03 L400.23 83.74 L401.14 83.44 L402.06 83.14 L402.98 82.84 L403.89 82.54 L404.81 82.23 L405.72 81.93 L406.64 81.62 L407.56 81.3 L408.47 80.99 L409.39 80.67 L410.3 80.35 L411.22 80.03 L412.14 79.7 L413.05 79.38 L413.97 79.04 L414.88 78.71 L415.8 78.38" stroke="#2b4a5e" stroke-width="1.4" fill="none" stroke-linejoin="round"/>
</g>
<line x1="278.4" y1="29.8" x2="278.4" y2="31.4" stroke="#000" stroke-width="0.9"/>
<line x1="278.4" y1="120" x2="278.4" y2="118.4" stroke="#000" stroke-width="0.9"/>
<line x1="287.56" y1="29.8" x2="287.56" y2="31.4" stroke="#000" stroke-width="0.9"/>
<line x1="287.56" y1="120" x2="287.56" y2="118.4" stroke="#000" stroke-width="0.9"/>
<line x1="296.72" y1="29.8" x2="296.72" y2="31.4" stroke="#000" stroke-width="0.9"/>
<line x1="296.72" y1="120" x2="296.72" y2="118.4" stroke="#000" stroke-width="0.9"/>
<line x1="305.88" y1="29.8" x2="305.88" y2="31.4" stroke="#000" stroke-width="0.9"/>
<line x1="305.88" y1="120" x2="305.88" y2="118.4" stroke="#000" stroke-width="0.9"/>
<line x1="315.04" y1="29.8" x2="315.04" y2="31.4" stroke="#000" stroke-width="0.9"/>
<line x1="315.04" y1="120" x2="315.04" y2="118.4" stroke="#000" stroke-width="0.9"/>
<line x1="324.2" y1="29.8" x2="324.2" y2="31.4" stroke="#000" stroke-width="0.9"/>
<line x1="324.2" y1="120" x2="324.2" y2="118.4" stroke="#000" stroke-width="0.9"/>
<line x1="333.36" y1="29.8" x2="333.36" y2="31.4" stroke="#000" stroke-width="0.9"/>
<line x1="333.36" y1="120" x2="333.36" y2="118.4" stroke="#000" stroke-width="0.9"/>
<line x1="342.52" y1="29.8" x2="342.52" y2="31.4" stroke="#000" stroke-width="0.9"/>
<line x1="342.52" y1="120" x2="342.52" y2="118.4" stroke="#000" stroke-width="0.9"/>
<line x1="351.68" y1="29.8" x2="351.68" y2="31.4" stroke="#000" stroke-width="0.9"/>
<line x1="351.68" y1="120" x2="351.68" y2="118.4" stroke="#000" stroke-width="0.9"/>
<line x1="360.84" y1="29.8" x2="360.84" y2="31.4" stroke="#000" stroke-width="0.9"/>
<line x1="360.84" y1="120" x2="360.84" y2="118.4" stroke="#000" stroke-width="0.9"/>
<line x1="370" y1="29.8" x2="370" y2="31.4" stroke="#000" stroke-width="0.9"/>
<line x1="370" y1="120" x2="370" y2="118.4" stroke="#000" stroke-width="0.9"/>
<line x1="379.16" y1="29.8" x2="379.16" y2="31.4" stroke="#000" stroke-width="0.9"/>
<line x1="379.16" y1="120" x2="379.16" y2="118.4" stroke="#000" stroke-width="0.9"/>
<line x1="388.32" y1="29.8" x2="388.32" y2="31.4" stroke="#000" stroke-width="0.9"/>
<line x1="388.32" y1="120" x2="388.32" y2="118.4" stroke="#000" stroke-width="0.9"/>
<line x1="397.48" y1="29.8" x2="397.48" y2="31.4" stroke="#000" stroke-width="0.9"/>
<line x1="397.48" y1="120" x2="397.48" y2="118.4" stroke="#000" stroke-width="0.9"/>
<line x1="406.64" y1="29.8" x2="406.64" y2="31.4" stroke="#000" stroke-width="0.9"/>
<line x1="406.64" y1="120" x2="406.64" y2="118.4" stroke="#000" stroke-width="0.9"/>
<line x1="415.8" y1="29.8" x2="415.8" y2="31.4" stroke="#000" stroke-width="0.9"/>
<line x1="415.8" y1="120" x2="415.8" y2="118.4" stroke="#000" stroke-width="0.9"/>
<line x1="278.4" y1="120" x2="280" y2="120" stroke="#000" stroke-width="0.9"/>
<line x1="414.6" y1="120" x2="413" y2="120" stroke="#000" stroke-width="0.9"/>
<line x1="278.4" y1="112.6" x2="280" y2="112.6" stroke="#000" stroke-width="0.9"/>
<line x1="414.6" y1="112.6" x2="413" y2="112.6" stroke="#000" stroke-width="0.9"/>
<line x1="278.4" y1="105.2" x2="280" y2="105.2" stroke="#000" stroke-width="0.9"/>
<line x1="414.6" y1="105.2" x2="413" y2="105.2" stroke="#000" stroke-width="0.9"/>
<line x1="278.4" y1="97.8" x2="280" y2="97.8" stroke="#000" stroke-width="0.9"/>
<line x1="414.6" y1="97.8" x2="413" y2="97.8" stroke="#000" stroke-width="0.9"/>
<line x1="278.4" y1="90.4" x2="280" y2="90.4" stroke="#000" stroke-width="0.9"/>
<line x1="414.6" y1="90.4" x2="413" y2="90.4" stroke="#000" stroke-width="0.9"/>
<line x1="278.4" y1="83" x2="280" y2="83" stroke="#000" stroke-width="0.9"/>
<line x1="414.6" y1="83" x2="413" y2="83" stroke="#000" stroke-width="0.9"/>
<line x1="278.4" y1="75.6" x2="280" y2="75.6" stroke="#000" stroke-width="0.9"/>
<line x1="414.6" y1="75.6" x2="413" y2="75.6" stroke="#000" stroke-width="0.9"/>
<line x1="278.4" y1="68.2" x2="280" y2="68.2" stroke="#000" stroke-width="0.9"/>
<line x1="414.6" y1="68.2" x2="413" y2="68.2" stroke="#000" stroke-width="0.9"/>
<line x1="278.4" y1="60.8" x2="280" y2="60.8" stroke="#000" stroke-width="0.9"/>
<line x1="414.6" y1="60.8" x2="413" y2="60.8" stroke="#000" stroke-width="0.9"/>
<line x1="278.4" y1="53.4" x2="280" y2="53.4" stroke="#000" stroke-width="0.9"/>
<line x1="414.6" y1="53.4" x2="413" y2="53.4" stroke="#000" stroke-width="0.9"/>
<line x1="278.4" y1="46" x2="280" y2="46" stroke="#000" stroke-width="0.9"/>
<line x1="414.6" y1="46" x2="413" y2="46" stroke="#000" stroke-width="0.9"/>
<line x1="278.4" y1="38.6" x2="280" y2="38.6" stroke="#000" stroke-width="0.9"/>
<line x1="414.6" y1="38.6" x2="413" y2="38.6" stroke="#000" stroke-width="0.9"/>
<line x1="278.4" y1="31.2" x2="280" y2="31.2" stroke="#000" stroke-width="0.9"/>
<line x1="414.6" y1="31.2" x2="413" y2="31.2" stroke="#000" stroke-width="0.9"/>
<rect x="278.4" y="29.8" width="136.2" height="90.2" fill="none" stroke="#000" stroke-width="1.1"/>
<text x="276.6" y="122.6" font-size="7.65" text-anchor="end" font-weight="normal"  fill="#000" stroke="#000" stroke-width="0.22" >0</text>
<text x="276.6" y="93" font-size="7.65" text-anchor="end" font-weight="normal"  fill="#000" stroke="#000" stroke-width="0.22" >200</text>
<text x="276.6" y="63.4" font-size="7.65" text-anchor="end" font-weight="normal"  fill="#000" stroke="#000" stroke-width="0.22" >400</text>
<text x="278.1" y="129.4" font-size="7.65" text-anchor="middle" font-weight="normal"  fill="#000" stroke="#000" stroke-width="0.22" >-0.5</text>
<text x="323.9" y="129.4" font-size="7.65" text-anchor="middle" font-weight="normal"  fill="#000" stroke="#000" stroke-width="0.22" >-0.4</text>
<text x="369.7" y="129.4" font-size="7.65" text-anchor="middle" font-weight="normal"  fill="#000" stroke="#000" stroke-width="0.22" >-0.3</text>
<text x="415.5" y="129.4" font-size="7.65" text-anchor="middle" font-weight="normal"  fill="#000" stroke="#000" stroke-width="0.22" >-0.2</text>
<text transform="translate(261.4 74.8) rotate(-90)" x="0" y="0" font-size="8.2" text-anchor="middle" fill="#000" stroke="#000" stroke-width="0.22">Intensity (a.u.)</text>
<text x="346.5" y="139.9" font-size="8.35" text-anchor="middle" font-weight="normal"  fill="#000" stroke="#000" stroke-width="0.22" ><tspan font-style="italic">L</tspan> in [0 0 L] (r.l.u.)</text>
<rect x="285.2" y="37.2" width="36" height="19.8" rx="2.5" fill="#fff" stroke="#333" stroke-width="0.9"/>
<path d="M292.2 39.9V45.7M290.5 39.9H293.9M290.5 45.7H293.9" stroke="#3cc0b0" stroke-width="1.0" fill="none"/>
<circle cx="292.2" cy="42.8" r="1.3" fill="#3cc0b0"/>
<path d="M292.2 48.1V53.9M290.5 48.1H293.9M290.5 53.9H293.9" stroke="#5a8aa0" stroke-width="1.0" fill="none"/>
<circle cx="292.2" cy="51" r="1.3" fill="#6a9ab0"/>
<text x="297.3" y="45" font-size="6.35" text-anchor="start" font-weight="normal"  fill="#000" stroke="#000" stroke-width="0.15" >I(4.5K)</text>
<text x="297.3" y="53.2" font-size="6.35" text-anchor="start" font-weight="normal"  fill="#000" stroke="#000" stroke-width="0.15" >I(60K)</text>
<line x1="127.75" y1="152" x2="127.75" y2="242.2" stroke="#d9d9d9" stroke-width="0.9"/>
<line x1="152" y1="152" x2="152" y2="242.2" stroke="#d9d9d9" stroke-width="0.9"/>
<line x1="176.25" y1="152" x2="176.25" y2="242.2" stroke="#d9d9d9" stroke-width="0.9"/>
<line x1="200.5" y1="152" x2="200.5" y2="242.2" stroke="#d9d9d9" stroke-width="0.9"/>
<line x1="224.75" y1="152" x2="224.75" y2="242.2" stroke="#d9d9d9" stroke-width="0.9"/>
<line x1="113.6" y1="217.2" x2="249" y2="217.2" stroke="#d9d9d9" stroke-width="0.9"/>
<line x1="113.6" y1="192.2" x2="249" y2="192.2" stroke="#d9d9d9" stroke-width="0.9"/>
<line x1="113.6" y1="167.2" x2="249" y2="167.2" stroke="#d9d9d9" stroke-width="0.9"/>
<clipPath id="cc"><rect x="113.6" y="152" width="135.4" height="90.2"/></clipPath>
<g clip-path="url(#cc)">
<path d="M114.8 159.3V173.7M113.2 159.3H116.4M113.2 173.7H116.4" stroke="#55c4b8" stroke-width="0.8" fill="none"/>
<circle cx="114.8" cy="166.5" r="1.0" fill="#55c4b8"/>
<path d="M120.3 160.2V176.5M118.7 160.2H121.9M118.7 176.5H121.9" stroke="#55c4b8" stroke-width="0.8" fill="none"/>
<circle cx="120.3" cy="168.35" r="1.0" fill="#55c4b8"/>
<path d="M125 157.8V173.1M123.4 157.8H126.6M123.4 173.1H126.6" stroke="#55c4b8" stroke-width="0.8" fill="none"/>
<circle cx="125" cy="165.45" r="1.0" fill="#55c4b8"/>
<path d="M130 163V178.7M128.4 163H131.6M128.4 178.7H131.6" stroke="#55c4b8" stroke-width="0.8" fill="none"/>
<circle cx="130" cy="170.85" r="1.0" fill="#55c4b8"/>
<path d="M134.8 166.3V183.3M133.2 166.3H136.4M133.2 183.3H136.4" stroke="#55c4b8" stroke-width="0.8" fill="none"/>
<circle cx="134.8" cy="174.8" r="1.0" fill="#55c4b8"/>
<path d="M139.8 169.4V183M138.2 169.4H141.4M138.2 183H141.4" stroke="#55c4b8" stroke-width="0.8" fill="none"/>
<circle cx="139.8" cy="176.2" r="1.0" fill="#55c4b8"/>
<path d="M145 163.3V175.9M143.4 163.3H146.6M143.4 175.9H146.6" stroke="#55c4b8" stroke-width="0.8" fill="none"/>
<circle cx="145" cy="169.6" r="1.0" fill="#55c4b8"/>
<path d="M150 167.2V184.8M148.4 167.2H151.6M148.4 184.8H151.6" stroke="#55c4b8" stroke-width="0.8" fill="none"/>
<circle cx="150" cy="176" r="1.0" fill="#55c4b8"/>
<path d="M164.2 169.4V185.6M162.6 169.4H165.8M162.6 185.6H165.8" stroke="#55c4b8" stroke-width="0.8" fill="none"/>
<circle cx="164.2" cy="177.5" r="1.0" fill="#55c4b8"/>
<path d="M176.1 185V197.2M174.5 185H177.7M174.5 197.2H177.7" stroke="#55c4b8" stroke-width="0.8" fill="none"/>
<circle cx="176.1" cy="191.1" r="1.0" fill="#55c4b8"/>
<path d="M188.3 190.6V203.2M186.7 190.6H189.9M186.7 203.2H189.9" stroke="#55c4b8" stroke-width="0.8" fill="none"/>
<circle cx="188.3" cy="196.9" r="1.0" fill="#55c4b8"/>
<path d="M200.6 200.6V213.4M199 200.6H202.2M199 213.4H202.2" stroke="#55c4b8" stroke-width="0.8" fill="none"/>
<circle cx="200.6" cy="207" r="1.0" fill="#55c4b8"/>
<path d="M212.3 211.2V225M210.7 211.2H213.9M210.7 225H213.9" stroke="#55c4b8" stroke-width="0.8" fill="none"/>
<circle cx="212.3" cy="218.1" r="1.0" fill="#55c4b8"/>
<path d="M217.9 215.7V227.2M216.3 215.7H219.5M216.3 227.2H219.5" stroke="#55c4b8" stroke-width="0.8" fill="none"/>
<circle cx="217.9" cy="221.45" r="1.0" fill="#55c4b8"/>
<path d="M222.8 223.2V235.7M221.2 223.2H224.4M221.2 235.7H224.4" stroke="#55c4b8" stroke-width="0.8" fill="none"/>
<circle cx="222.8" cy="229.45" r="1.0" fill="#55c4b8"/>
<path d="M227.7 192.1V250M226.1 192.1H229.3M226.1 250H229.3" stroke="#55c4b8" stroke-width="0.8" fill="none"/>
<circle cx="227.7" cy="217.05" r="1.0" fill="#55c4b8"/>
<path d="M232.3 226.8V250M230.7 226.8H233.9M230.7 250H233.9" stroke="#55c4b8" stroke-width="0.8" fill="none"/>
<circle cx="232.3" cy="234.4" r="1.0" fill="#55c4b8"/>
<path d="M237.2 238.3V250M235.6 238.3H238.8M235.6 250H238.8" stroke="#55c4b8" stroke-width="0.8" fill="none"/>
<circle cx="237.2" cy="240.15" r="1.0" fill="#55c4b8"/>
<path d="M242.3 235.7V250M240.7 235.7H243.9M240.7 250H243.9" stroke="#55c4b8" stroke-width="0.8" fill="none"/>
<circle cx="242.3" cy="238.85" r="1.0" fill="#55c4b8"/>
<path d="M246.8 220.6V250M245.2 220.6H248.4M245.2 250H248.4" stroke="#55c4b8" stroke-width="0.8" fill="none"/>
<circle cx="246.8" cy="231.3" r="1.0" fill="#55c4b8"/>
<path d="M113.6 164.5 L114.92 164.94 L116.24 165.37 L117.56 165.8 L118.88 166.23 L120.2 166.65 L121.52 167.07 L122.84 167.5 L124.16 167.92 L125.48 168.34 L126.8 168.77 L128.12 169.2 L129.44 169.63 L130.76 170.07 L132.08 170.51 L133.4 170.95 L134.72 171.41 L136.04 171.87 L137.36 172.34 L138.68 172.81 L140 173.3 L141.21 173.75 L142.41 174.21 L143.62 174.68 L144.82 175.16 L146.03 175.64 L147.23 176.13 L148.44 176.62 L149.64 177.12 L150.84 177.63 L152.05 178.14 L153.25 178.65 L154.46 179.18 L155.66 179.7 L156.87 180.23 L158.07 180.77 L159.28 181.31 L160.48 181.85 L161.69 182.4 L162.89 182.95 L164.1 183.5 L165.3 184.05 L166.5 184.61 L167.7 185.17 L168.9 185.73 L170.1 186.3 L171.3 186.87 L172.5 187.45 L173.7 188.03 L174.9 188.62 L176.1 189.21 L177.3 189.81 L178.5 190.42 L179.7 191.04 L180.9 191.66 L182.1 192.29 L183.3 192.93 L184.5 193.59 L185.7 194.25 L186.9 194.92 L188.1 195.6 L188.69 195.94 L189.29 196.28 L189.88 196.63 L190.48 196.98 L191.07 197.33 L191.67 197.69 L192.26 198.05 L192.86 198.41 L193.45 198.79 L194.05 199.17 L194.65 199.55 L195.24 199.95 L195.84 200.35 L196.43 200.77 L197.03 201.19 L197.62 201.63 L198.22 202.08 L198.81 202.54 L199.41 203.01 L200 203.5 L200.62 204.03 L201.23 204.58 L201.84 205.16 L202.46 205.77 L203.07 206.4 L203.69 207.05 L204.31 207.72 L204.92 208.4 L205.53 209.11 L206.15 209.82 L206.77 210.54 L207.38 211.27 L208 212.01 L208.61 212.76 L209.23 213.5 L209.84 214.25 L210.46 214.99 L211.07 215.73 L211.69 216.47 L212.3 217.2 L212.88 217.88 L213.46 218.57 L214.04 219.26 L214.62 219.95 L215.2 220.64 L215.78 221.34 L216.36 222.04 L216.94 222.74 L217.52 223.45 L218.1 224.17 L218.68 224.89 L219.26 225.62 L219.84 226.35 L220.42 227.09 L221 227.84 L221.58 228.59 L222.16 229.35 L222.74 230.13 L223.32 230.91 L223.9 231.7 L224.25 232.18 L224.59 232.67 L224.94 233.16 L225.28 233.67 L225.62 234.18 L225.97 234.7 L226.31 235.22 L226.66 235.75 L227 236.28 L227.35 236.82 L227.7 237.36 L228.04 237.9 L228.39 238.44 L228.73 238.99 L229.08 239.53 L229.42 240.07 L229.77 240.61 L230.11 241.14 L230.46 241.67 L230.8 242.2" stroke="#1f9e8e" stroke-width="1.6" fill="none" stroke-linejoin="round" stroke-dasharray="3 2.2"/>
</g>
<line x1="113.2" y1="152" x2="113.2" y2="153.6" stroke="#000" stroke-width="0.9"/>
<line x1="113.2" y1="242.2" x2="113.2" y2="240.6" stroke="#000" stroke-width="0.9"/>
<line x1="118.05" y1="152" x2="118.05" y2="153.6" stroke="#000" stroke-width="0.9"/>
<line x1="118.05" y1="242.2" x2="118.05" y2="240.6" stroke="#000" stroke-width="0.9"/>
<line x1="122.9" y1="152" x2="122.9" y2="153.6" stroke="#000" stroke-width="0.9"/>
<line x1="122.9" y1="242.2" x2="122.9" y2="240.6" stroke="#000" stroke-width="0.9"/>
<line x1="127.75" y1="152" x2="127.75" y2="153.6" stroke="#000" stroke-width="0.9"/>
<line x1="127.75" y1="242.2" x2="127.75" y2="240.6" stroke="#000" stroke-width="0.9"/>
<line x1="132.6" y1="152" x2="132.6" y2="153.6" stroke="#000" stroke-width="0.9"/>
<line x1="132.6" y1="242.2" x2="132.6" y2="240.6" stroke="#000" stroke-width="0.9"/>
<line x1="137.45" y1="152" x2="137.45" y2="153.6" stroke="#000" stroke-width="0.9"/>
<line x1="137.45" y1="242.2" x2="137.45" y2="240.6" stroke="#000" stroke-width="0.9"/>
<line x1="142.3" y1="152" x2="142.3" y2="153.6" stroke="#000" stroke-width="0.9"/>
<line x1="142.3" y1="242.2" x2="142.3" y2="240.6" stroke="#000" stroke-width="0.9"/>
<line x1="147.15" y1="152" x2="147.15" y2="153.6" stroke="#000" stroke-width="0.9"/>
<line x1="147.15" y1="242.2" x2="147.15" y2="240.6" stroke="#000" stroke-width="0.9"/>
<line x1="152" y1="152" x2="152" y2="153.6" stroke="#000" stroke-width="0.9"/>
<line x1="152" y1="242.2" x2="152" y2="240.6" stroke="#000" stroke-width="0.9"/>
<line x1="156.85" y1="152" x2="156.85" y2="153.6" stroke="#000" stroke-width="0.9"/>
<line x1="156.85" y1="242.2" x2="156.85" y2="240.6" stroke="#000" stroke-width="0.9"/>
<line x1="161.7" y1="152" x2="161.7" y2="153.6" stroke="#000" stroke-width="0.9"/>
<line x1="161.7" y1="242.2" x2="161.7" y2="240.6" stroke="#000" stroke-width="0.9"/>
<line x1="166.55" y1="152" x2="166.55" y2="153.6" stroke="#000" stroke-width="0.9"/>
<line x1="166.55" y1="242.2" x2="166.55" y2="240.6" stroke="#000" stroke-width="0.9"/>
<line x1="171.4" y1="152" x2="171.4" y2="153.6" stroke="#000" stroke-width="0.9"/>
<line x1="171.4" y1="242.2" x2="171.4" y2="240.6" stroke="#000" stroke-width="0.9"/>
<line x1="176.25" y1="152" x2="176.25" y2="153.6" stroke="#000" stroke-width="0.9"/>
<line x1="176.25" y1="242.2" x2="176.25" y2="240.6" stroke="#000" stroke-width="0.9"/>
<line x1="181.1" y1="152" x2="181.1" y2="153.6" stroke="#000" stroke-width="0.9"/>
<line x1="181.1" y1="242.2" x2="181.1" y2="240.6" stroke="#000" stroke-width="0.9"/>
<line x1="185.95" y1="152" x2="185.95" y2="153.6" stroke="#000" stroke-width="0.9"/>
<line x1="185.95" y1="242.2" x2="185.95" y2="240.6" stroke="#000" stroke-width="0.9"/>
<line x1="190.8" y1="152" x2="190.8" y2="153.6" stroke="#000" stroke-width="0.9"/>
<line x1="190.8" y1="242.2" x2="190.8" y2="240.6" stroke="#000" stroke-width="0.9"/>
<line x1="195.65" y1="152" x2="195.65" y2="153.6" stroke="#000" stroke-width="0.9"/>
<line x1="195.65" y1="242.2" x2="195.65" y2="240.6" stroke="#000" stroke-width="0.9"/>
<line x1="200.5" y1="152" x2="200.5" y2="153.6" stroke="#000" stroke-width="0.9"/>
<line x1="200.5" y1="242.2" x2="200.5" y2="240.6" stroke="#000" stroke-width="0.9"/>
<line x1="205.35" y1="152" x2="205.35" y2="153.6" stroke="#000" stroke-width="0.9"/>
<line x1="205.35" y1="242.2" x2="205.35" y2="240.6" stroke="#000" stroke-width="0.9"/>
<line x1="210.2" y1="152" x2="210.2" y2="153.6" stroke="#000" stroke-width="0.9"/>
<line x1="210.2" y1="242.2" x2="210.2" y2="240.6" stroke="#000" stroke-width="0.9"/>
<line x1="215.05" y1="152" x2="215.05" y2="153.6" stroke="#000" stroke-width="0.9"/>
<line x1="215.05" y1="242.2" x2="215.05" y2="240.6" stroke="#000" stroke-width="0.9"/>
<line x1="219.9" y1="152" x2="219.9" y2="153.6" stroke="#000" stroke-width="0.9"/>
<line x1="219.9" y1="242.2" x2="219.9" y2="240.6" stroke="#000" stroke-width="0.9"/>
<line x1="224.75" y1="152" x2="224.75" y2="153.6" stroke="#000" stroke-width="0.9"/>
<line x1="224.75" y1="242.2" x2="224.75" y2="240.6" stroke="#000" stroke-width="0.9"/>
<line x1="229.6" y1="152" x2="229.6" y2="153.6" stroke="#000" stroke-width="0.9"/>
<line x1="229.6" y1="242.2" x2="229.6" y2="240.6" stroke="#000" stroke-width="0.9"/>
<line x1="234.45" y1="152" x2="234.45" y2="153.6" stroke="#000" stroke-width="0.9"/>
<line x1="234.45" y1="242.2" x2="234.45" y2="240.6" stroke="#000" stroke-width="0.9"/>
<line x1="239.3" y1="152" x2="239.3" y2="153.6" stroke="#000" stroke-width="0.9"/>
<line x1="239.3" y1="242.2" x2="239.3" y2="240.6" stroke="#000" stroke-width="0.9"/>
<line x1="244.15" y1="152" x2="244.15" y2="153.6" stroke="#000" stroke-width="0.9"/>
<line x1="244.15" y1="242.2" x2="244.15" y2="240.6" stroke="#000" stroke-width="0.9"/>
<line x1="249" y1="152" x2="249" y2="153.6" stroke="#000" stroke-width="0.9"/>
<line x1="249" y1="242.2" x2="249" y2="240.6" stroke="#000" stroke-width="0.9"/>
<line x1="113.6" y1="242.2" x2="115.2" y2="242.2" stroke="#000" stroke-width="0.9"/>
<line x1="249" y1="242.2" x2="247.4" y2="242.2" stroke="#000" stroke-width="0.9"/>
<line x1="113.6" y1="237.2" x2="115.2" y2="237.2" stroke="#000" stroke-width="0.9"/>
<line x1="249" y1="237.2" x2="247.4" y2="237.2" stroke="#000" stroke-width="0.9"/>
<line x1="113.6" y1="232.2" x2="115.2" y2="232.2" stroke="#000" stroke-width="0.9"/>
<line x1="249" y1="232.2" x2="247.4" y2="232.2" stroke="#000" stroke-width="0.9"/>
<line x1="113.6" y1="227.2" x2="115.2" y2="227.2" stroke="#000" stroke-width="0.9"/>
<line x1="249" y1="227.2" x2="247.4" y2="227.2" stroke="#000" stroke-width="0.9"/>
<line x1="113.6" y1="222.2" x2="115.2" y2="222.2" stroke="#000" stroke-width="0.9"/>
<line x1="249" y1="222.2" x2="247.4" y2="222.2" stroke="#000" stroke-width="0.9"/>
<line x1="113.6" y1="217.2" x2="115.2" y2="217.2" stroke="#000" stroke-width="0.9"/>
<line x1="249" y1="217.2" x2="247.4" y2="217.2" stroke="#000" stroke-width="0.9"/>
<line x1="113.6" y1="212.2" x2="115.2" y2="212.2" stroke="#000" stroke-width="0.9"/>
<line x1="249" y1="212.2" x2="247.4" y2="212.2" stroke="#000" stroke-width="0.9"/>
<line x1="113.6" y1="207.2" x2="115.2" y2="207.2" stroke="#000" stroke-width="0.9"/>
<line x1="249" y1="207.2" x2="247.4" y2="207.2" stroke="#000" stroke-width="0.9"/>
<line x1="113.6" y1="202.2" x2="115.2" y2="202.2" stroke="#000" stroke-width="0.9"/>
<line x1="249" y1="202.2" x2="247.4" y2="202.2" stroke="#000" stroke-width="0.9"/>
<line x1="113.6" y1="197.2" x2="115.2" y2="197.2" stroke="#000" stroke-width="0.9"/>
<line x1="249" y1="197.2" x2="247.4" y2="197.2" stroke="#000" stroke-width="0.9"/>
<line x1="113.6" y1="192.2" x2="115.2" y2="192.2" stroke="#000" stroke-width="0.9"/>
<line x1="249" y1="192.2" x2="247.4" y2="192.2" stroke="#000" stroke-width="0.9"/>
<line x1="113.6" y1="187.2" x2="115.2" y2="187.2" stroke="#000" stroke-width="0.9"/>
<line x1="249" y1="187.2" x2="247.4" y2="187.2" stroke="#000" stroke-width="0.9"/>
<line x1="113.6" y1="182.2" x2="115.2" y2="182.2" stroke="#000" stroke-width="0.9"/>
<line x1="249" y1="182.2" x2="247.4" y2="182.2" stroke="#000" stroke-width="0.9"/>
<line x1="113.6" y1="177.2" x2="115.2" y2="177.2" stroke="#000" stroke-width="0.9"/>
<line x1="249" y1="177.2" x2="247.4" y2="177.2" stroke="#000" stroke-width="0.9"/>
<line x1="113.6" y1="172.2" x2="115.2" y2="172.2" stroke="#000" stroke-width="0.9"/>
<line x1="249" y1="172.2" x2="247.4" y2="172.2" stroke="#000" stroke-width="0.9"/>
<line x1="113.6" y1="167.2" x2="115.2" y2="167.2" stroke="#000" stroke-width="0.9"/>
<line x1="249" y1="167.2" x2="247.4" y2="167.2" stroke="#000" stroke-width="0.9"/>
<line x1="113.6" y1="162.2" x2="115.2" y2="162.2" stroke="#000" stroke-width="0.9"/>
<line x1="249" y1="162.2" x2="247.4" y2="162.2" stroke="#000" stroke-width="0.9"/>
<line x1="113.6" y1="157.2" x2="115.2" y2="157.2" stroke="#000" stroke-width="0.9"/>
<line x1="249" y1="157.2" x2="247.4" y2="157.2" stroke="#000" stroke-width="0.9"/>
<line x1="113.6" y1="152.2" x2="115.2" y2="152.2" stroke="#000" stroke-width="0.9"/>
<line x1="249" y1="152.2" x2="247.4" y2="152.2" stroke="#000" stroke-width="0.9"/>
<rect x="113.6" y="152" width="135.4" height="90.2" fill="none" stroke="#000" stroke-width="1.1"/>
<text x="111.6" y="244.8" font-size="7.65" text-anchor="end" font-weight="normal"  fill="#000" stroke="#000" stroke-width="0.22" >0</text>
<text x="111.6" y="219.8" font-size="7.65" text-anchor="end" font-weight="normal"  fill="#000" stroke="#000" stroke-width="0.22" >5</text>
<text x="111.6" y="194.8" font-size="7.65" text-anchor="end" font-weight="normal"  fill="#000" stroke="#000" stroke-width="0.22" >10</text>
<text x="111.6" y="169.8" font-size="7.65" text-anchor="end" font-weight="normal"  fill="#000" stroke="#000" stroke-width="0.22" >15</text>
<text x="127.75" y="251.4" font-size="7.65" text-anchor="middle" font-weight="normal"  fill="#000" stroke="#000" stroke-width="0.22" >10</text>
<text x="152" y="251.4" font-size="7.65" text-anchor="middle" font-weight="normal"  fill="#000" stroke="#000" stroke-width="0.22" >20</text>
<text x="176.25" y="251.4" font-size="7.65" text-anchor="middle" font-weight="normal"  fill="#000" stroke="#000" stroke-width="0.22" >30</text>
<text x="200.5" y="251.4" font-size="7.65" text-anchor="middle" font-weight="normal"  fill="#000" stroke="#000" stroke-width="0.22" >40</text>
<text x="224.75" y="251.4" font-size="7.65" text-anchor="middle" font-weight="normal"  fill="#000" stroke="#000" stroke-width="0.22" >50</text>
<text x="249" y="251.4" font-size="7.65" text-anchor="middle" font-weight="normal"  fill="#000" stroke="#000" stroke-width="0.22" >60</text>
<text transform="translate(100.6 197.3) rotate(-90)" x="0" y="0" font-size="8.2" text-anchor="middle" fill="#000" stroke="#000" stroke-width="0.22">Intensity (a.u.)</text>
<text x="181.3" y="261" font-size="8.3" text-anchor="middle" font-weight="normal"  fill="#000" stroke="#000" stroke-width="0.22" ><tspan font-style="italic">T</tspan> (K)</text>
<line x1="297.2" y1="151.5" x2="297.2" y2="242.1" stroke="#d9d9d9" stroke-width="0.9"/>
<line x1="327.55" y1="151.5" x2="327.55" y2="242.1" stroke="#d9d9d9" stroke-width="0.9"/>
<line x1="357.9" y1="151.5" x2="357.9" y2="242.1" stroke="#d9d9d9" stroke-width="0.9"/>
<line x1="388.25" y1="151.5" x2="388.25" y2="242.1" stroke="#d9d9d9" stroke-width="0.9"/>
<line x1="278.4" y1="233.09" x2="414.6" y2="233.09" stroke="#d9d9d9" stroke-width="0.9"/>
<line x1="278.4" y1="214.97" x2="414.6" y2="214.97" stroke="#d9d9d9" stroke-width="0.9"/>
<line x1="278.4" y1="178.73" x2="414.6" y2="178.73" stroke="#d9d9d9" stroke-width="0.9"/>
<line x1="278.4" y1="160.61" x2="414.6" y2="160.61" stroke="#d9d9d9" stroke-width="0.9"/>
<clipPath id="cd"><rect x="278.4" y="151.5" width="136.2" height="90.6"/></clipPath>
<g clip-path="url(#cd)">
<path d="M278.38 196V198.82M277.48 196H279.28M277.48 198.82H279.28" stroke="#3cb4a6" stroke-width="0.6" fill="none"/>
<circle cx="278.38" cy="197.41" r="0.85" fill="#2ea89a"/>
<path d="M278.58 196.34V200.18M277.68 196.34H279.48M277.68 200.18H279.48" stroke="#3cb4a6" stroke-width="0.6" fill="none"/>
<circle cx="278.58" cy="198.26" r="0.85" fill="#2ea89a"/>
<path d="M278.78 190.83V194.12M277.88 190.83H279.68M277.88 194.12H279.68" stroke="#3cb4a6" stroke-width="0.6" fill="none"/>
<circle cx="278.78" cy="192.48" r="0.85" fill="#2ea89a"/>
<path d="M278.97 191.39V193.9M278.07 191.39H279.87M278.07 193.9H279.87" stroke="#3cb4a6" stroke-width="0.6" fill="none"/>
<circle cx="278.97" cy="192.65" r="0.85" fill="#2ea89a"/>
<path d="M279.17 200.01V202.54M278.27 200.01H280.07M278.27 202.54H280.07" stroke="#3cb4a6" stroke-width="0.6" fill="none"/>
<circle cx="279.17" cy="201.27" r="0.85" fill="#2ea89a"/>
<path d="M279.37 190.39V195.15M278.47 190.39H280.27M278.47 195.15H280.27" stroke="#3cb4a6" stroke-width="0.6" fill="none"/>
<circle cx="279.37" cy="192.77" r="0.85" fill="#2ea89a"/>
<path d="M279.57 194.04V199.01M278.67 194.04H280.47M278.67 199.01H280.47" stroke="#3cb4a6" stroke-width="0.6" fill="none"/>
<circle cx="279.57" cy="196.52" r="0.85" fill="#2ea89a"/>
<path d="M279.76 201.38V206.45M278.86 201.38H280.66M278.86 206.45H280.66" stroke="#3cb4a6" stroke-width="0.6" fill="none"/>
<circle cx="279.76" cy="203.92" r="0.85" fill="#2ea89a"/>
<path d="M279.96 194.39V198.43M279.06 194.39H280.86M279.06 198.43H280.86" stroke="#3cb4a6" stroke-width="0.6" fill="none"/>
<circle cx="279.96" cy="196.41" r="0.85" fill="#2ea89a"/>
<path d="M280.16 196.74V199.56M279.26 196.74H281.06M279.26 199.56H281.06" stroke="#3cb4a6" stroke-width="0.6" fill="none"/>
<circle cx="280.16" cy="198.15" r="0.85" fill="#2ea89a"/>
<path d="M280.36 192.55V197.68M279.46 192.55H281.26M279.46 197.68H281.26" stroke="#3cb4a6" stroke-width="0.6" fill="none"/>
<circle cx="280.36" cy="195.11" r="0.85" fill="#2ea89a"/>
<path d="M280.55 192.4V197.68M279.65 192.4H281.45M279.65 197.68H281.45" stroke="#3cb4a6" stroke-width="0.6" fill="none"/>
<circle cx="280.55" cy="195.04" r="0.85" fill="#2ea89a"/>
<path d="M280.75 194.21V196.47M279.85 194.21H281.65M279.85 196.47H281.65" stroke="#3cb4a6" stroke-width="0.6" fill="none"/>
<circle cx="280.75" cy="195.34" r="0.85" fill="#2ea89a"/>
<path d="M280.95 191.05V193.04M280.05 191.05H281.85M280.05 193.04H281.85" stroke="#3cb4a6" stroke-width="0.6" fill="none"/>
<circle cx="280.95" cy="192.04" r="0.85" fill="#2ea89a"/>
<path d="M281.14 196.8V200M280.24 196.8H282.04M280.24 200H282.04" stroke="#3cb4a6" stroke-width="0.6" fill="none"/>
<circle cx="281.14" cy="198.4" r="0.85" fill="#2ea89a"/>
<path d="M281.34 193.4V195.78M280.44 193.4H282.24M280.44 195.78H282.24" stroke="#3cb4a6" stroke-width="0.6" fill="none"/>
<circle cx="281.34" cy="194.59" r="0.85" fill="#2ea89a"/>
<path d="M281.54 196.8V199.4M280.64 196.8H282.44M280.64 199.4H282.44" stroke="#3cb4a6" stroke-width="0.6" fill="none"/>
<circle cx="281.54" cy="198.1" r="0.85" fill="#2ea89a"/>
<path d="M281.74 198.33V200.79M280.84 198.33H282.64M280.84 200.79H282.64" stroke="#3cb4a6" stroke-width="0.6" fill="none"/>
<circle cx="281.74" cy="199.56" r="0.85" fill="#2ea89a"/>
<path d="M281.93 193.07V196.31M281.03 193.07H282.83M281.03 196.31H282.83" stroke="#3cb4a6" stroke-width="0.6" fill="none"/>
<circle cx="281.93" cy="194.69" r="0.85" fill="#2ea89a"/>
<path d="M282.13 197.1V199.78M281.23 197.1H283.03M281.23 199.78H283.03" stroke="#3cb4a6" stroke-width="0.6" fill="none"/>
<circle cx="282.13" cy="198.44" r="0.85" fill="#2ea89a"/>
<path d="M282.33 194.35V199.38M281.43 194.35H283.23M281.43 199.38H283.23" stroke="#3cb4a6" stroke-width="0.6" fill="none"/>
<circle cx="282.33" cy="196.87" r="0.85" fill="#2ea89a"/>
<path d="M282.53 193.45V195.39M281.63 193.45H283.43M281.63 195.39H283.43" stroke="#3cb4a6" stroke-width="0.6" fill="none"/>
<circle cx="282.53" cy="194.42" r="0.85" fill="#2ea89a"/>
<path d="M282.72 194.96V197.19M281.82 194.96H283.62M281.82 197.19H283.62" stroke="#3cb4a6" stroke-width="0.6" fill="none"/>
<circle cx="282.72" cy="196.07" r="0.85" fill="#2ea89a"/>
<path d="M282.92 197.07V199.98M282.02 197.07H283.82M282.02 199.98H283.82" stroke="#3cb4a6" stroke-width="0.6" fill="none"/>
<circle cx="282.92" cy="198.53" r="0.85" fill="#2ea89a"/>
<path d="M283.12 196.06V199.96M282.22 196.06H284.02M282.22 199.96H284.02" stroke="#3cb4a6" stroke-width="0.6" fill="none"/>
<circle cx="283.12" cy="198.01" r="0.85" fill="#2ea89a"/>
<path d="M283.31 197.35V200.73M282.41 197.35H284.21M282.41 200.73H284.21" stroke="#3cb4a6" stroke-width="0.6" fill="none"/>
<circle cx="283.31" cy="199.04" r="0.85" fill="#2ea89a"/>
<path d="M283.51 188.52V191.93M282.61 188.52H284.41M282.61 191.93H284.41" stroke="#3cb4a6" stroke-width="0.6" fill="none"/>
<circle cx="283.51" cy="190.23" r="0.85" fill="#2ea89a"/>
<path d="M283.71 196.77V201.49M282.81 196.77H284.61M282.81 201.49H284.61" stroke="#3cb4a6" stroke-width="0.6" fill="none"/>
<circle cx="283.71" cy="199.13" r="0.85" fill="#2ea89a"/>
<path d="M283.91 197.92V199.96M283.01 197.92H284.81M283.01 199.96H284.81" stroke="#3cb4a6" stroke-width="0.6" fill="none"/>
<circle cx="283.91" cy="198.94" r="0.85" fill="#2ea89a"/>
<path d="M284.1 195.95V199.57M283.2 195.95H285M283.2 199.57H285" stroke="#3cb4a6" stroke-width="0.6" fill="none"/>
<circle cx="284.1" cy="197.76" r="0.85" fill="#2ea89a"/>
<path d="M284.3 194.35V196.3M283.4 194.35H285.2M283.4 196.3H285.2" stroke="#3cb4a6" stroke-width="0.6" fill="none"/>
<circle cx="284.3" cy="195.33" r="0.85" fill="#2ea89a"/>
<path d="M284.5 191.67V196.07M283.6 191.67H285.4M283.6 196.07H285.4" stroke="#3cb4a6" stroke-width="0.6" fill="none"/>
<circle cx="284.5" cy="193.87" r="0.85" fill="#2ea89a"/>
<path d="M284.7 185.1V189.72M283.8 185.1H285.6M283.8 189.72H285.6" stroke="#3cb4a6" stroke-width="0.6" fill="none"/>
<circle cx="284.7" cy="187.41" r="0.85" fill="#2ea89a"/>
<path d="M284.89 193.86V198.15M283.99 193.86H285.79M283.99 198.15H285.79" stroke="#3cb4a6" stroke-width="0.6" fill="none"/>
<circle cx="284.89" cy="196.01" r="0.85" fill="#2ea89a"/>
<path d="M285.09 195.42V197.7M284.19 195.42H285.99M284.19 197.7H285.99" stroke="#3cb4a6" stroke-width="0.6" fill="none"/>
<circle cx="285.09" cy="196.56" r="0.85" fill="#2ea89a"/>
<path d="M285.29 193.21V197.88M284.39 193.21H286.19M284.39 197.88H286.19" stroke="#3cb4a6" stroke-width="0.6" fill="none"/>
<circle cx="285.29" cy="195.54" r="0.85" fill="#2ea89a"/>
<path d="M285.48 195.45V199.85M284.58 195.45H286.38M284.58 199.85H286.38" stroke="#3cb4a6" stroke-width="0.6" fill="none"/>
<circle cx="285.48" cy="197.65" r="0.85" fill="#2ea89a"/>
<path d="M285.68 194.7V197.4M284.78 194.7H286.58M284.78 197.4H286.58" stroke="#3cb4a6" stroke-width="0.6" fill="none"/>
<circle cx="285.68" cy="196.05" r="0.85" fill="#2ea89a"/>
<path d="M285.88 191.29V195.3M284.98 191.29H286.78M284.98 195.3H286.78" stroke="#3cb4a6" stroke-width="0.6" fill="none"/>
<circle cx="285.88" cy="193.3" r="0.85" fill="#2ea89a"/>
<path d="M286.08 192.38V197.65M285.18 192.38H286.98M285.18 197.65H286.98" stroke="#3cb4a6" stroke-width="0.6" fill="none"/>
<circle cx="286.08" cy="195.01" r="0.85" fill="#2ea89a"/>
<path d="M286.27 195.83V199.76M285.37 195.83H287.17M285.37 199.76H287.17" stroke="#3cb4a6" stroke-width="0.6" fill="none"/>
<circle cx="286.27" cy="197.79" r="0.85" fill="#2ea89a"/>
<path d="M286.47 196.41V198.92M285.57 196.41H287.37M285.57 198.92H287.37" stroke="#3cb4a6" stroke-width="0.6" fill="none"/>
<circle cx="286.47" cy="197.66" r="0.85" fill="#2ea89a"/>
<path d="M286.67 195.51V199.6M285.77 195.51H287.57M285.77 199.6H287.57" stroke="#3cb4a6" stroke-width="0.6" fill="none"/>
<circle cx="286.67" cy="197.56" r="0.85" fill="#2ea89a"/>
<path d="M286.87 194.63V199.28M285.97 194.63H287.77M285.97 199.28H287.77" stroke="#3cb4a6" stroke-width="0.6" fill="none"/>
<circle cx="286.87" cy="196.95" r="0.85" fill="#2ea89a"/>
<path d="M287.06 192.8V197.36M286.16 192.8H287.96M286.16 197.36H287.96" stroke="#3cb4a6" stroke-width="0.6" fill="none"/>
<circle cx="287.06" cy="195.08" r="0.85" fill="#2ea89a"/>
<path d="M287.26 191.54V194.97M286.36 191.54H288.16M286.36 194.97H288.16" stroke="#3cb4a6" stroke-width="0.6" fill="none"/>
<circle cx="287.26" cy="193.25" r="0.85" fill="#2ea89a"/>
<path d="M287.46 193.45V197.73M286.56 193.45H288.36M286.56 197.73H288.36" stroke="#3cb4a6" stroke-width="0.6" fill="none"/>
<circle cx="287.46" cy="195.59" r="0.85" fill="#2ea89a"/>
<path d="M287.65 193.13V198.01M286.75 193.13H288.55M286.75 198.01H288.55" stroke="#3cb4a6" stroke-width="0.6" fill="none"/>
<circle cx="287.65" cy="195.57" r="0.85" fill="#2ea89a"/>
<path d="M287.85 195.94V199.08M286.95 195.94H288.75M286.95 199.08H288.75" stroke="#3cb4a6" stroke-width="0.6" fill="none"/>
<circle cx="287.85" cy="197.51" r="0.85" fill="#2ea89a"/>
<path d="M288.05 196.41V199.4M287.15 196.41H288.95M287.15 199.4H288.95" stroke="#3cb4a6" stroke-width="0.6" fill="none"/>
<circle cx="288.05" cy="197.9" r="0.85" fill="#2ea89a"/>
<path d="M288.25 194.13V196.76M287.35 194.13H289.15M287.35 196.76H289.15" stroke="#3cb4a6" stroke-width="0.6" fill="none"/>
<circle cx="288.25" cy="195.45" r="0.85" fill="#2ea89a"/>
<path d="M288.44 198.25V201.91M287.54 198.25H289.34M287.54 201.91H289.34" stroke="#3cb4a6" stroke-width="0.6" fill="none"/>
<circle cx="288.44" cy="200.08" r="0.85" fill="#2ea89a"/>
<path d="M288.64 197.06V202.33M287.74 197.06H289.54M287.74 202.33H289.54" stroke="#3cb4a6" stroke-width="0.6" fill="none"/>
<circle cx="288.64" cy="199.69" r="0.85" fill="#2ea89a"/>
<path d="M288.84 191.59V196.03M287.94 191.59H289.74M287.94 196.03H289.74" stroke="#3cb4a6" stroke-width="0.6" fill="none"/>
<circle cx="288.84" cy="193.81" r="0.85" fill="#2ea89a"/>
<path d="M289.04 198.4V201M288.14 198.4H289.94M288.14 201H289.94" stroke="#3cb4a6" stroke-width="0.6" fill="none"/>
<circle cx="289.04" cy="199.7" r="0.85" fill="#2ea89a"/>
<path d="M289.23 195.76V198.87M288.33 195.76H290.13M288.33 198.87H290.13" stroke="#3cb4a6" stroke-width="0.6" fill="none"/>
<circle cx="289.23" cy="197.32" r="0.85" fill="#2ea89a"/>
<path d="M289.43 188.18V192.33M288.53 188.18H290.33M288.53 192.33H290.33" stroke="#3cb4a6" stroke-width="0.6" fill="none"/>
<circle cx="289.43" cy="190.26" r="0.85" fill="#2ea89a"/>
<path d="M289.63 195.45V197.63M288.73 195.45H290.53M288.73 197.63H290.53" stroke="#3cb4a6" stroke-width="0.6" fill="none"/>
<circle cx="289.63" cy="196.54" r="0.85" fill="#2ea89a"/>
<path d="M289.82 195.35V197.95M288.92 195.35H290.72M288.92 197.95H290.72" stroke="#3cb4a6" stroke-width="0.6" fill="none"/>
<circle cx="289.82" cy="196.65" r="0.85" fill="#2ea89a"/>
<path d="M290.02 196.74V200.78M289.12 196.74H290.92M289.12 200.78H290.92" stroke="#3cb4a6" stroke-width="0.6" fill="none"/>
<circle cx="290.02" cy="198.76" r="0.85" fill="#2ea89a"/>
<path d="M290.22 196.74V199.02M289.32 196.74H291.12M289.32 199.02H291.12" stroke="#3cb4a6" stroke-width="0.6" fill="none"/>
<circle cx="290.22" cy="197.88" r="0.85" fill="#2ea89a"/>
<path d="M290.42 194.35V196.49M289.52 194.35H291.32M289.52 196.49H291.32" stroke="#3cb4a6" stroke-width="0.6" fill="none"/>
<circle cx="290.42" cy="195.42" r="0.85" fill="#2ea89a"/>
<path d="M290.61 194.73V199.66M289.71 194.73H291.51M289.71 199.66H291.51" stroke="#3cb4a6" stroke-width="0.6" fill="none"/>
<circle cx="290.61" cy="197.19" r="0.85" fill="#2ea89a"/>
<path d="M290.81 195.38V197.22M289.91 195.38H291.71M289.91 197.22H291.71" stroke="#3cb4a6" stroke-width="0.6" fill="none"/>
<circle cx="290.81" cy="196.3" r="0.85" fill="#2ea89a"/>
<path d="M291.01 196.56V200.38M290.11 196.56H291.91M290.11 200.38H291.91" stroke="#3cb4a6" stroke-width="0.6" fill="none"/>
<circle cx="291.01" cy="198.47" r="0.85" fill="#2ea89a"/>
<path d="M291.21 195.62V200.79M290.31 195.62H292.11M290.31 200.79H292.11" stroke="#3cb4a6" stroke-width="0.6" fill="none"/>
<circle cx="291.21" cy="198.21" r="0.85" fill="#2ea89a"/>
<path d="M291.4 193.21V195.91M290.5 193.21H292.3M290.5 195.91H292.3" stroke="#3cb4a6" stroke-width="0.6" fill="none"/>
<circle cx="291.4" cy="194.56" r="0.85" fill="#2ea89a"/>
<path d="M291.6 194.59V197.85M290.7 194.59H292.5M290.7 197.85H292.5" stroke="#3cb4a6" stroke-width="0.6" fill="none"/>
<circle cx="291.6" cy="196.22" r="0.85" fill="#2ea89a"/>
<path d="M291.8 195.97V197.98M290.9 195.97H292.7M290.9 197.98H292.7" stroke="#3cb4a6" stroke-width="0.6" fill="none"/>
<circle cx="291.8" cy="196.98" r="0.85" fill="#2ea89a"/>
<path d="M291.99 194.02V199.21M291.09 194.02H292.89M291.09 199.21H292.89" stroke="#3cb4a6" stroke-width="0.6" fill="none"/>
<circle cx="291.99" cy="196.62" r="0.85" fill="#2ea89a"/>
<path d="M292.19 195.69V198.21M291.29 195.69H293.09M291.29 198.21H293.09" stroke="#3cb4a6" stroke-width="0.6" fill="none"/>
<circle cx="292.19" cy="196.95" r="0.85" fill="#2ea89a"/>
<path d="M292.39 195.98V200.71M291.49 195.98H293.29M291.49 200.71H293.29" stroke="#3cb4a6" stroke-width="0.6" fill="none"/>
<circle cx="292.39" cy="198.35" r="0.85" fill="#2ea89a"/>
<path d="M292.59 196.57V199.48M291.69 196.57H293.49M291.69 199.48H293.49" stroke="#3cb4a6" stroke-width="0.6" fill="none"/>
<circle cx="292.59" cy="198.02" r="0.85" fill="#2ea89a"/>
<path d="M292.78 194.54V199.16M291.88 194.54H293.68M291.88 199.16H293.68" stroke="#3cb4a6" stroke-width="0.6" fill="none"/>
<circle cx="292.78" cy="196.85" r="0.85" fill="#2ea89a"/>
<path d="M292.98 195.21V197.04M292.08 195.21H293.88M292.08 197.04H293.88" stroke="#3cb4a6" stroke-width="0.6" fill="none"/>
<circle cx="292.98" cy="196.13" r="0.85" fill="#2ea89a"/>
<path d="M293.18 192.76V197.23M292.28 192.76H294.08M292.28 197.23H294.08" stroke="#3cb4a6" stroke-width="0.6" fill="none"/>
<circle cx="293.18" cy="194.99" r="0.85" fill="#2ea89a"/>
<path d="M293.38 197.85V200.46M292.48 197.85H294.28M292.48 200.46H294.28" stroke="#3cb4a6" stroke-width="0.6" fill="none"/>
<circle cx="293.38" cy="199.15" r="0.85" fill="#2ea89a"/>
<path d="M293.57 185.5V190.63M292.67 185.5H294.47M292.67 190.63H294.47" stroke="#3cb4a6" stroke-width="0.6" fill="none"/>
<circle cx="293.57" cy="188.07" r="0.85" fill="#2ea89a"/>
<path d="M293.77 194.49V197.23M292.87 194.49H294.67M292.87 197.23H294.67" stroke="#3cb4a6" stroke-width="0.6" fill="none"/>
<circle cx="293.77" cy="195.86" r="0.85" fill="#2ea89a"/>
<path d="M293.97 192.1V196.37M293.07 192.1H294.87M293.07 196.37H294.87" stroke="#3cb4a6" stroke-width="0.6" fill="none"/>
<circle cx="293.97" cy="194.23" r="0.85" fill="#2ea89a"/>
<path d="M294.16 193.18V198.48M293.26 193.18H295.06M293.26 198.48H295.06" stroke="#3cb4a6" stroke-width="0.6" fill="none"/>
<circle cx="294.16" cy="195.83" r="0.85" fill="#2ea89a"/>
<path d="M294.36 196.79V198.9M293.46 196.79H295.26M293.46 198.9H295.26" stroke="#3cb4a6" stroke-width="0.6" fill="none"/>
<circle cx="294.36" cy="197.85" r="0.85" fill="#2ea89a"/>
<path d="M294.56 191.47V193.88M293.66 191.47H295.46M293.66 193.88H295.46" stroke="#3cb4a6" stroke-width="0.6" fill="none"/>
<circle cx="294.56" cy="192.68" r="0.85" fill="#2ea89a"/>
<path d="M294.76 192.61V194.98M293.86 192.61H295.66M293.86 194.98H295.66" stroke="#3cb4a6" stroke-width="0.6" fill="none"/>
<circle cx="294.76" cy="193.79" r="0.85" fill="#2ea89a"/>
<path d="M294.95 197.38V199.88M294.05 197.38H295.85M294.05 199.88H295.85" stroke="#3cb4a6" stroke-width="0.6" fill="none"/>
<circle cx="294.95" cy="198.63" r="0.85" fill="#2ea89a"/>
<path d="M295.15 196.12V200.98M294.25 196.12H296.05M294.25 200.98H296.05" stroke="#3cb4a6" stroke-width="0.6" fill="none"/>
<circle cx="295.15" cy="198.55" r="0.85" fill="#2ea89a"/>
<path d="M295.35 192.42V197.75M294.45 192.42H296.25M294.45 197.75H296.25" stroke="#3cb4a6" stroke-width="0.6" fill="none"/>
<circle cx="295.35" cy="195.09" r="0.85" fill="#2ea89a"/>
<path d="M295.55 193.59V197.3M294.65 193.59H296.45M294.65 197.3H296.45" stroke="#3cb4a6" stroke-width="0.6" fill="none"/>
<circle cx="295.55" cy="195.45" r="0.85" fill="#2ea89a"/>
<path d="M295.74 201.44V205.85M294.84 201.44H296.64M294.84 205.85H296.64" stroke="#3cb4a6" stroke-width="0.6" fill="none"/>
<circle cx="295.74" cy="203.65" r="0.85" fill="#2ea89a"/>
<path d="M295.94 196.05V200.09M295.04 196.05H296.84M295.04 200.09H296.84" stroke="#3cb4a6" stroke-width="0.6" fill="none"/>
<circle cx="295.94" cy="198.07" r="0.85" fill="#2ea89a"/>
<path d="M296.14 199.89V201.79M295.24 199.89H297.04M295.24 201.79H297.04" stroke="#3cb4a6" stroke-width="0.6" fill="none"/>
<circle cx="296.14" cy="200.84" r="0.85" fill="#2ea89a"/>
<path d="M296.34 192.25V194.56M295.44 192.25H297.24M295.44 194.56H297.24" stroke="#3cb4a6" stroke-width="0.6" fill="none"/>
<circle cx="296.34" cy="193.4" r="0.85" fill="#2ea89a"/>
<path d="M296.53 195.49V199.61M295.63 195.49H297.43M295.63 199.61H297.43" stroke="#3cb4a6" stroke-width="0.6" fill="none"/>
<circle cx="296.53" cy="197.55" r="0.85" fill="#2ea89a"/>
<path d="M296.73 189.59V194.83M295.83 189.59H297.63M295.83 194.83H297.63" stroke="#3cb4a6" stroke-width="0.6" fill="none"/>
<circle cx="296.73" cy="192.21" r="0.85" fill="#2ea89a"/>
<path d="M296.93 194.39V198.58M296.03 194.39H297.83M296.03 198.58H297.83" stroke="#3cb4a6" stroke-width="0.6" fill="none"/>
<circle cx="296.93" cy="196.49" r="0.85" fill="#2ea89a"/>
<path d="M297.12 192.86V196.05M296.22 192.86H298.02M296.22 196.05H298.02" stroke="#3cb4a6" stroke-width="0.6" fill="none"/>
<circle cx="297.12" cy="194.45" r="0.85" fill="#2ea89a"/>
<path d="M297.32 197.49V200.02M296.42 197.49H298.22M296.42 200.02H298.22" stroke="#3cb4a6" stroke-width="0.6" fill="none"/>
<circle cx="297.32" cy="198.76" r="0.85" fill="#2ea89a"/>
<path d="M297.52 190.09V194.6M296.62 190.09H298.42M296.62 194.6H298.42" stroke="#3cb4a6" stroke-width="0.6" fill="none"/>
<circle cx="297.52" cy="192.34" r="0.85" fill="#2ea89a"/>
<path d="M297.72 193.48V197.99M296.82 193.48H298.62M296.82 197.99H298.62" stroke="#3cb4a6" stroke-width="0.6" fill="none"/>
<circle cx="297.72" cy="195.73" r="0.85" fill="#2ea89a"/>
<path d="M297.91 195.73V200.39M297.01 195.73H298.81M297.01 200.39H298.81" stroke="#3cb4a6" stroke-width="0.6" fill="none"/>
<circle cx="297.91" cy="198.06" r="0.85" fill="#2ea89a"/>
<path d="M298.11 196.76V199.62M297.21 196.76H299.01M297.21 199.62H299.01" stroke="#3cb4a6" stroke-width="0.6" fill="none"/>
<circle cx="298.11" cy="198.19" r="0.85" fill="#2ea89a"/>
<path d="M298.31 194.82V199.97M297.41 194.82H299.21M297.41 199.97H299.21" stroke="#3cb4a6" stroke-width="0.6" fill="none"/>
<circle cx="298.31" cy="197.4" r="0.85" fill="#2ea89a"/>
<path d="M298.51 185.51V190.08M297.61 185.51H299.41M297.61 190.08H299.41" stroke="#3cb4a6" stroke-width="0.6" fill="none"/>
<circle cx="298.51" cy="187.8" r="0.85" fill="#2ea89a"/>
<path d="M298.7 196.08V200.56M297.8 196.08H299.6M297.8 200.56H299.6" stroke="#3cb4a6" stroke-width="0.6" fill="none"/>
<circle cx="298.7" cy="198.32" r="0.85" fill="#2ea89a"/>
<path d="M298.9 196.94V198.86M298 196.94H299.8M298 198.86H299.8" stroke="#3cb4a6" stroke-width="0.6" fill="none"/>
<circle cx="298.9" cy="197.9" r="0.85" fill="#2ea89a"/>
<path d="M299.1 196.5V198.47M298.2 196.5H300M298.2 198.47H300" stroke="#3cb4a6" stroke-width="0.6" fill="none"/>
<circle cx="299.1" cy="197.49" r="0.85" fill="#2ea89a"/>
<path d="M299.29 194.58V198.95M298.39 194.58H300.19M298.39 198.95H300.19" stroke="#3cb4a6" stroke-width="0.6" fill="none"/>
<circle cx="299.29" cy="196.77" r="0.85" fill="#2ea89a"/>
<path d="M299.49 193.87V197.24M298.59 193.87H300.39M298.59 197.24H300.39" stroke="#3cb4a6" stroke-width="0.6" fill="none"/>
<circle cx="299.49" cy="195.56" r="0.85" fill="#2ea89a"/>
<path d="M299.69 197.34V200.18M298.79 197.34H300.59M298.79 200.18H300.59" stroke="#3cb4a6" stroke-width="0.6" fill="none"/>
<circle cx="299.69" cy="198.76" r="0.85" fill="#2ea89a"/>
<path d="M299.89 195.59V197.74M298.99 195.59H300.79M298.99 197.74H300.79" stroke="#3cb4a6" stroke-width="0.6" fill="none"/>
<circle cx="299.89" cy="196.67" r="0.85" fill="#2ea89a"/>
<path d="M300.08 194.89V199.66M299.18 194.89H300.98M299.18 199.66H300.98" stroke="#3cb4a6" stroke-width="0.6" fill="none"/>
<circle cx="300.08" cy="197.27" r="0.85" fill="#2ea89a"/>
<path d="M300.28 192.46V196.12M299.38 192.46H301.18M299.38 196.12H301.18" stroke="#3cb4a6" stroke-width="0.6" fill="none"/>
<circle cx="300.28" cy="194.29" r="0.85" fill="#2ea89a"/>
<path d="M300.48 195.98V198.35M299.58 195.98H301.38M299.58 198.35H301.38" stroke="#3cb4a6" stroke-width="0.6" fill="none"/>
<circle cx="300.48" cy="197.17" r="0.85" fill="#2ea89a"/>
<path d="M300.68 193.77V196.16M299.78 193.77H301.58M299.78 196.16H301.58" stroke="#3cb4a6" stroke-width="0.6" fill="none"/>
<circle cx="300.68" cy="194.96" r="0.85" fill="#2ea89a"/>
<path d="M300.87 198.31V202.87M299.97 198.31H301.77M299.97 202.87H301.77" stroke="#3cb4a6" stroke-width="0.6" fill="none"/>
<circle cx="300.87" cy="200.59" r="0.85" fill="#2ea89a"/>
<path d="M301.07 201.14V203.32M300.17 201.14H301.97M300.17 203.32H301.97" stroke="#3cb4a6" stroke-width="0.6" fill="none"/>
<circle cx="301.07" cy="202.23" r="0.85" fill="#2ea89a"/>
<path d="M301.27 195.26V197.4M300.37 195.26H302.17M300.37 197.4H302.17" stroke="#3cb4a6" stroke-width="0.6" fill="none"/>
<circle cx="301.27" cy="196.33" r="0.85" fill="#2ea89a"/>
<path d="M301.46 191.57V194.89M300.56 191.57H302.36M300.56 194.89H302.36" stroke="#3cb4a6" stroke-width="0.6" fill="none"/>
<circle cx="301.46" cy="193.23" r="0.85" fill="#2ea89a"/>
<path d="M301.66 196.76V199.9M300.76 196.76H302.56M300.76 199.9H302.56" stroke="#3cb4a6" stroke-width="0.6" fill="none"/>
<circle cx="301.66" cy="198.33" r="0.85" fill="#2ea89a"/>
<path d="M301.86 196.09V198.5M300.96 196.09H302.76M300.96 198.5H302.76" stroke="#3cb4a6" stroke-width="0.6" fill="none"/>
<circle cx="301.86" cy="197.3" r="0.85" fill="#2ea89a"/>
<path d="M302.06 192.82V196.89M301.16 192.82H302.96M301.16 196.89H302.96" stroke="#3cb4a6" stroke-width="0.6" fill="none"/>
<circle cx="302.06" cy="194.86" r="0.85" fill="#2ea89a"/>
<path d="M302.25 193.64V197.92M301.35 193.64H303.15M301.35 197.92H303.15" stroke="#3cb4a6" stroke-width="0.6" fill="none"/>
<circle cx="302.25" cy="195.78" r="0.85" fill="#2ea89a"/>
<path d="M302.45 196.03V197.96M301.55 196.03H303.35M301.55 197.96H303.35" stroke="#3cb4a6" stroke-width="0.6" fill="none"/>
<circle cx="302.45" cy="196.99" r="0.85" fill="#2ea89a"/>
<path d="M302.65 196.88V200.3M301.75 196.88H303.55M301.75 200.3H303.55" stroke="#3cb4a6" stroke-width="0.6" fill="none"/>
<circle cx="302.65" cy="198.59" r="0.85" fill="#2ea89a"/>
<path d="M302.85 196.27V199.23M301.95 196.27H303.75M301.95 199.23H303.75" stroke="#3cb4a6" stroke-width="0.6" fill="none"/>
<circle cx="302.85" cy="197.75" r="0.85" fill="#2ea89a"/>
<path d="M303.04 198.05V200.68M302.14 198.05H303.94M302.14 200.68H303.94" stroke="#3cb4a6" stroke-width="0.6" fill="none"/>
<circle cx="303.04" cy="199.36" r="0.85" fill="#2ea89a"/>
<path d="M303.24 193.98V198.09M302.34 193.98H304.14M302.34 198.09H304.14" stroke="#3cb4a6" stroke-width="0.6" fill="none"/>
<circle cx="303.24" cy="196.03" r="0.85" fill="#2ea89a"/>
<path d="M303.44 195.12V199.64M302.54 195.12H304.34M302.54 199.64H304.34" stroke="#3cb4a6" stroke-width="0.6" fill="none"/>
<circle cx="303.44" cy="197.38" r="0.85" fill="#2ea89a"/>
<path d="M303.63 196.69V200.72M302.73 196.69H304.53M302.73 200.72H304.53" stroke="#3cb4a6" stroke-width="0.6" fill="none"/>
<circle cx="303.63" cy="198.71" r="0.85" fill="#2ea89a"/>
<path d="M303.83 195.5V199.47M302.93 195.5H304.73M302.93 199.47H304.73" stroke="#3cb4a6" stroke-width="0.6" fill="none"/>
<circle cx="303.83" cy="197.49" r="0.85" fill="#2ea89a"/>
<path d="M304.03 200.19V202.84M303.13 200.19H304.93M303.13 202.84H304.93" stroke="#3cb4a6" stroke-width="0.6" fill="none"/>
<circle cx="304.03" cy="201.52" r="0.85" fill="#2ea89a"/>
<path d="M304.23 192.63V198.01M303.33 192.63H305.13M303.33 198.01H305.13" stroke="#3cb4a6" stroke-width="0.6" fill="none"/>
<circle cx="304.23" cy="195.32" r="0.85" fill="#2ea89a"/>
<path d="M304.42 194.97V199.14M303.52 194.97H305.32M303.52 199.14H305.32" stroke="#3cb4a6" stroke-width="0.6" fill="none"/>
<circle cx="304.42" cy="197.05" r="0.85" fill="#2ea89a"/>
<path d="M304.62 194.88V197.76M303.72 194.88H305.52M303.72 197.76H305.52" stroke="#3cb4a6" stroke-width="0.6" fill="none"/>
<circle cx="304.62" cy="196.32" r="0.85" fill="#2ea89a"/>
<path d="M304.82 194.3V197.09M303.92 194.3H305.72M303.92 197.09H305.72" stroke="#3cb4a6" stroke-width="0.6" fill="none"/>
<circle cx="304.82" cy="195.69" r="0.85" fill="#2ea89a"/>
<path d="M305.02 191.09V196.08M304.12 191.09H305.92M304.12 196.08H305.92" stroke="#3cb4a6" stroke-width="0.6" fill="none"/>
<circle cx="305.02" cy="193.58" r="0.85" fill="#2ea89a"/>
<path d="M305.21 193.22V195.06M304.31 193.22H306.11M304.31 195.06H306.11" stroke="#3cb4a6" stroke-width="0.6" fill="none"/>
<circle cx="305.21" cy="194.14" r="0.85" fill="#2ea89a"/>
<path d="M305.41 192.82V198.15M304.51 192.82H306.31M304.51 198.15H306.31" stroke="#3cb4a6" stroke-width="0.6" fill="none"/>
<circle cx="305.41" cy="195.49" r="0.85" fill="#2ea89a"/>
<path d="M305.61 197.27V199.15M304.71 197.27H306.51M304.71 199.15H306.51" stroke="#3cb4a6" stroke-width="0.6" fill="none"/>
<circle cx="305.61" cy="198.21" r="0.85" fill="#2ea89a"/>
<path d="M305.8 202.78V206.13M304.9 202.78H306.7M304.9 206.13H306.7" stroke="#3cb4a6" stroke-width="0.6" fill="none"/>
<circle cx="305.8" cy="204.46" r="0.85" fill="#2ea89a"/>
<path d="M306 191.46V195.95M305.1 191.46H306.9M305.1 195.95H306.9" stroke="#3cb4a6" stroke-width="0.6" fill="none"/>
<circle cx="306" cy="193.71" r="0.85" fill="#2ea89a"/>
<path d="M306.2 195.33V200.3M305.3 195.33H307.1M305.3 200.3H307.1" stroke="#3cb4a6" stroke-width="0.6" fill="none"/>
<circle cx="306.2" cy="197.82" r="0.85" fill="#2ea89a"/>
<path d="M306.4 193.89V198.21M305.5 193.89H307.3M305.5 198.21H307.3" stroke="#3cb4a6" stroke-width="0.6" fill="none"/>
<circle cx="306.4" cy="196.05" r="0.85" fill="#2ea89a"/>
<path d="M306.59 193.31V196.75M305.69 193.31H307.49M305.69 196.75H307.49" stroke="#3cb4a6" stroke-width="0.6" fill="none"/>
<circle cx="306.59" cy="195.03" r="0.85" fill="#2ea89a"/>
<path d="M306.79 196.82V200.89M305.89 196.82H307.69M305.89 200.89H307.69" stroke="#3cb4a6" stroke-width="0.6" fill="none"/>
<circle cx="306.79" cy="198.86" r="0.85" fill="#2ea89a"/>
<path d="M306.99 192.94V197.31M306.09 192.94H307.89M306.09 197.31H307.89" stroke="#3cb4a6" stroke-width="0.6" fill="none"/>
<circle cx="306.99" cy="195.12" r="0.85" fill="#2ea89a"/>
<path d="M307.19 194.23V196.93M306.29 194.23H308.09M306.29 196.93H308.09" stroke="#3cb4a6" stroke-width="0.6" fill="none"/>
<circle cx="307.19" cy="195.58" r="0.85" fill="#2ea89a"/>
<path d="M307.38 196.8V200.08M306.48 196.8H308.28M306.48 200.08H308.28" stroke="#3cb4a6" stroke-width="0.6" fill="none"/>
<circle cx="307.38" cy="198.44" r="0.85" fill="#2ea89a"/>
<path d="M307.58 193.17V198.32M306.68 193.17H308.48M306.68 198.32H308.48" stroke="#3cb4a6" stroke-width="0.6" fill="none"/>
<circle cx="307.58" cy="195.75" r="0.85" fill="#2ea89a"/>
<path d="M307.78 193.99V197.19M306.88 193.99H308.68M306.88 197.19H308.68" stroke="#3cb4a6" stroke-width="0.6" fill="none"/>
<circle cx="307.78" cy="195.59" r="0.85" fill="#2ea89a"/>
<path d="M307.97 191.6V196.91M307.07 191.6H308.87M307.07 196.91H308.87" stroke="#3cb4a6" stroke-width="0.6" fill="none"/>
<circle cx="307.97" cy="194.26" r="0.85" fill="#2ea89a"/>
<path d="M308.17 192.16V196.77M307.27 192.16H309.07M307.27 196.77H309.07" stroke="#3cb4a6" stroke-width="0.6" fill="none"/>
<circle cx="308.17" cy="194.46" r="0.85" fill="#2ea89a"/>
<path d="M308.37 194.3V197.96M307.47 194.3H309.27M307.47 197.96H309.27" stroke="#3cb4a6" stroke-width="0.6" fill="none"/>
<circle cx="308.37" cy="196.13" r="0.85" fill="#2ea89a"/>
<path d="M308.57 192.57V196.95M307.67 192.57H309.47M307.67 196.95H309.47" stroke="#3cb4a6" stroke-width="0.6" fill="none"/>
<circle cx="308.57" cy="194.76" r="0.85" fill="#2ea89a"/>
<path d="M308.76 193.21V197.31M307.86 193.21H309.66M307.86 197.31H309.66" stroke="#3cb4a6" stroke-width="0.6" fill="none"/>
<circle cx="308.76" cy="195.26" r="0.85" fill="#2ea89a"/>
<path d="M308.96 193.01V198.23M308.06 193.01H309.86M308.06 198.23H309.86" stroke="#3cb4a6" stroke-width="0.6" fill="none"/>
<circle cx="308.96" cy="195.62" r="0.85" fill="#2ea89a"/>
<path d="M309.16 196.47V200.74M308.26 196.47H310.06M308.26 200.74H310.06" stroke="#3cb4a6" stroke-width="0.6" fill="none"/>
<circle cx="309.16" cy="198.6" r="0.85" fill="#2ea89a"/>
<path d="M309.36 196.4V201.74M308.46 196.4H310.26M308.46 201.74H310.26" stroke="#3cb4a6" stroke-width="0.6" fill="none"/>
<circle cx="309.36" cy="199.07" r="0.85" fill="#2ea89a"/>
<path d="M309.55 193.75V195.75M308.65 193.75H310.45M308.65 195.75H310.45" stroke="#3cb4a6" stroke-width="0.6" fill="none"/>
<circle cx="309.55" cy="194.75" r="0.85" fill="#2ea89a"/>
<path d="M309.75 187.22V191.28M308.85 187.22H310.65M308.85 191.28H310.65" stroke="#3cb4a6" stroke-width="0.6" fill="none"/>
<circle cx="309.75" cy="189.25" r="0.85" fill="#2ea89a"/>
<path d="M309.95 192.92V196.8M309.05 192.92H310.85M309.05 196.8H310.85" stroke="#3cb4a6" stroke-width="0.6" fill="none"/>
<circle cx="309.95" cy="194.86" r="0.85" fill="#2ea89a"/>
<path d="M310.14 192.86V198.09M309.24 192.86H311.04M309.24 198.09H311.04" stroke="#3cb4a6" stroke-width="0.6" fill="none"/>
<circle cx="310.14" cy="195.48" r="0.85" fill="#2ea89a"/>
<path d="M310.34 193V198.38M309.44 193H311.24M309.44 198.38H311.24" stroke="#3cb4a6" stroke-width="0.6" fill="none"/>
<circle cx="310.34" cy="195.69" r="0.85" fill="#2ea89a"/>
<path d="M310.54 192.14V197.28M309.64 192.14H311.44M309.64 197.28H311.44" stroke="#3cb4a6" stroke-width="0.6" fill="none"/>
<circle cx="310.54" cy="194.71" r="0.85" fill="#2ea89a"/>
<path d="M310.74 200.52V204.34M309.84 200.52H311.64M309.84 204.34H311.64" stroke="#3cb4a6" stroke-width="0.6" fill="none"/>
<circle cx="310.74" cy="202.43" r="0.85" fill="#2ea89a"/>
<path d="M310.93 193.92V198.02M310.03 193.92H311.83M310.03 198.02H311.83" stroke="#3cb4a6" stroke-width="0.6" fill="none"/>
<circle cx="310.93" cy="195.97" r="0.85" fill="#2ea89a"/>
<path d="M311.13 189.68V194.42M310.23 189.68H312.03M310.23 194.42H312.03" stroke="#3cb4a6" stroke-width="0.6" fill="none"/>
<circle cx="311.13" cy="192.05" r="0.85" fill="#2ea89a"/>
<path d="M311.33 197.03V199.28M310.43 197.03H312.23M310.43 199.28H312.23" stroke="#3cb4a6" stroke-width="0.6" fill="none"/>
<circle cx="311.33" cy="198.15" r="0.85" fill="#2ea89a"/>
<path d="M311.53 194.83V197.91M310.63 194.83H312.43M310.63 197.91H312.43" stroke="#3cb4a6" stroke-width="0.6" fill="none"/>
<circle cx="311.53" cy="196.37" r="0.85" fill="#2ea89a"/>
<path d="M311.72 194.47V197.18M310.82 194.47H312.62M310.82 197.18H312.62" stroke="#3cb4a6" stroke-width="0.6" fill="none"/>
<circle cx="311.72" cy="195.82" r="0.85" fill="#2ea89a"/>
<path d="M311.92 196.59V199.06M311.02 196.59H312.82M311.02 199.06H312.82" stroke="#3cb4a6" stroke-width="0.6" fill="none"/>
<circle cx="311.92" cy="197.82" r="0.85" fill="#2ea89a"/>
<path d="M312.12 192.43V195.11M311.22 192.43H313.02M311.22 195.11H313.02" stroke="#3cb4a6" stroke-width="0.6" fill="none"/>
<circle cx="312.12" cy="193.77" r="0.85" fill="#2ea89a"/>
<path d="M312.31 194.86V198.38M311.41 194.86H313.21M311.41 198.38H313.21" stroke="#3cb4a6" stroke-width="0.6" fill="none"/>
<circle cx="312.31" cy="196.62" r="0.85" fill="#2ea89a"/>
<path d="M312.51 197.44V200.55M311.61 197.44H313.41M311.61 200.55H313.41" stroke="#3cb4a6" stroke-width="0.6" fill="none"/>
<circle cx="312.51" cy="198.99" r="0.85" fill="#2ea89a"/>
<path d="M312.71 193.11V197.99M311.81 193.11H313.61M311.81 197.99H313.61" stroke="#3cb4a6" stroke-width="0.6" fill="none"/>
<circle cx="312.71" cy="195.55" r="0.85" fill="#2ea89a"/>
<path d="M312.91 191.17V195.8M312.01 191.17H313.81M312.01 195.8H313.81" stroke="#3cb4a6" stroke-width="0.6" fill="none"/>
<circle cx="312.91" cy="193.49" r="0.85" fill="#2ea89a"/>
<path d="M313.1 193.08V197.87M312.2 193.08H314M312.2 197.87H314" stroke="#3cb4a6" stroke-width="0.6" fill="none"/>
<circle cx="313.1" cy="195.48" r="0.85" fill="#2ea89a"/>
<path d="M313.3 201.81V204.51M312.4 201.81H314.2M312.4 204.51H314.2" stroke="#3cb4a6" stroke-width="0.6" fill="none"/>
<circle cx="313.3" cy="203.16" r="0.85" fill="#2ea89a"/>
<path d="M313.5 195.75V198.06M312.6 195.75H314.4M312.6 198.06H314.4" stroke="#3cb4a6" stroke-width="0.6" fill="none"/>
<circle cx="313.5" cy="196.9" r="0.85" fill="#2ea89a"/>
<path d="M313.7 195.17V197.52M312.8 195.17H314.6M312.8 197.52H314.6" stroke="#3cb4a6" stroke-width="0.6" fill="none"/>
<circle cx="313.7" cy="196.35" r="0.85" fill="#2ea89a"/>
<path d="M313.89 191.22V195.87M312.99 191.22H314.79M312.99 195.87H314.79" stroke="#3cb4a6" stroke-width="0.6" fill="none"/>
<circle cx="313.89" cy="193.55" r="0.85" fill="#2ea89a"/>
<path d="M314.09 192.48V197.09M313.19 192.48H314.99M313.19 197.09H314.99" stroke="#3cb4a6" stroke-width="0.6" fill="none"/>
<circle cx="314.09" cy="194.79" r="0.85" fill="#2ea89a"/>
<path d="M314.29 190.84V195.86M313.39 190.84H315.19M313.39 195.86H315.19" stroke="#3cb4a6" stroke-width="0.6" fill="none"/>
<circle cx="314.29" cy="193.35" r="0.85" fill="#2ea89a"/>
<path d="M314.48 193.7V198M313.58 193.7H315.38M313.58 198H315.38" stroke="#3cb4a6" stroke-width="0.6" fill="none"/>
<circle cx="314.48" cy="195.85" r="0.85" fill="#2ea89a"/>
<path d="M314.68 197.8V202.27M313.78 197.8H315.58M313.78 202.27H315.58" stroke="#3cb4a6" stroke-width="0.6" fill="none"/>
<circle cx="314.68" cy="200.03" r="0.85" fill="#2ea89a"/>
<path d="M314.88 198.77V201.52M313.98 198.77H315.78M313.98 201.52H315.78" stroke="#3cb4a6" stroke-width="0.6" fill="none"/>
<circle cx="314.88" cy="200.14" r="0.85" fill="#2ea89a"/>
<path d="M315.08 194.11V196.41M314.18 194.11H315.98M314.18 196.41H315.98" stroke="#3cb4a6" stroke-width="0.6" fill="none"/>
<circle cx="315.08" cy="195.26" r="0.85" fill="#2ea89a"/>
<path d="M315.27 196.14V198.46M314.37 196.14H316.17M314.37 198.46H316.17" stroke="#3cb4a6" stroke-width="0.6" fill="none"/>
<circle cx="315.27" cy="197.3" r="0.85" fill="#2ea89a"/>
<path d="M315.47 194.84V198.44M314.57 194.84H316.37M314.57 198.44H316.37" stroke="#3cb4a6" stroke-width="0.6" fill="none"/>
<circle cx="315.47" cy="196.64" r="0.85" fill="#2ea89a"/>
<path d="M315.67 193V196.82M314.77 193H316.57M314.77 196.82H316.57" stroke="#3cb4a6" stroke-width="0.6" fill="none"/>
<circle cx="315.67" cy="194.91" r="0.85" fill="#2ea89a"/>
<path d="M315.87 195.14V199.97M314.97 195.14H316.77M314.97 199.97H316.77" stroke="#3cb4a6" stroke-width="0.6" fill="none"/>
<circle cx="315.87" cy="197.56" r="0.85" fill="#2ea89a"/>
<path d="M316.06 196.97V199.04M315.16 196.97H316.96M315.16 199.04H316.96" stroke="#3cb4a6" stroke-width="0.6" fill="none"/>
<circle cx="316.06" cy="198" r="0.85" fill="#2ea89a"/>
<path d="M316.26 193.29V197.38M315.36 193.29H317.16M315.36 197.38H317.16" stroke="#3cb4a6" stroke-width="0.6" fill="none"/>
<circle cx="316.26" cy="195.33" r="0.85" fill="#2ea89a"/>
<path d="M316.46 191.65V196.8M315.56 191.65H317.36M315.56 196.8H317.36" stroke="#3cb4a6" stroke-width="0.6" fill="none"/>
<circle cx="316.46" cy="194.22" r="0.85" fill="#2ea89a"/>
<path d="M316.65 193.56V198.89M315.75 193.56H317.55M315.75 198.89H317.55" stroke="#3cb4a6" stroke-width="0.6" fill="none"/>
<circle cx="316.65" cy="196.23" r="0.85" fill="#2ea89a"/>
<path d="M316.85 197.79V199.71M315.95 197.79H317.75M315.95 199.71H317.75" stroke="#3cb4a6" stroke-width="0.6" fill="none"/>
<circle cx="316.85" cy="198.75" r="0.85" fill="#2ea89a"/>
<path d="M317.05 194.78V198.83M316.15 194.78H317.95M316.15 198.83H317.95" stroke="#3cb4a6" stroke-width="0.6" fill="none"/>
<circle cx="317.05" cy="196.81" r="0.85" fill="#2ea89a"/>
<path d="M317.25 196.82V200.33M316.35 196.82H318.15M316.35 200.33H318.15" stroke="#3cb4a6" stroke-width="0.6" fill="none"/>
<circle cx="317.25" cy="198.57" r="0.85" fill="#2ea89a"/>
<path d="M317.44 191.32V195.9M316.54 191.32H318.34M316.54 195.9H318.34" stroke="#3cb4a6" stroke-width="0.6" fill="none"/>
<circle cx="317.44" cy="193.61" r="0.85" fill="#2ea89a"/>
<path d="M317.64 194.3V198.09M316.74 194.3H318.54M316.74 198.09H318.54" stroke="#3cb4a6" stroke-width="0.6" fill="none"/>
<circle cx="317.64" cy="196.2" r="0.85" fill="#2ea89a"/>
<path d="M317.84 193.36V196.22M316.94 193.36H318.74M316.94 196.22H318.74" stroke="#3cb4a6" stroke-width="0.6" fill="none"/>
<circle cx="317.84" cy="194.79" r="0.85" fill="#2ea89a"/>
<path d="M318.04 194.42V197.19M317.14 194.42H318.94M317.14 197.19H318.94" stroke="#3cb4a6" stroke-width="0.6" fill="none"/>
<circle cx="318.04" cy="195.8" r="0.85" fill="#2ea89a"/>
<path d="M318.23 195.64V200.95M317.33 195.64H319.13M317.33 200.95H319.13" stroke="#3cb4a6" stroke-width="0.6" fill="none"/>
<circle cx="318.23" cy="198.3" r="0.85" fill="#2ea89a"/>
<path d="M318.43 197.01V199.95M317.53 197.01H319.33M317.53 199.95H319.33" stroke="#3cb4a6" stroke-width="0.6" fill="none"/>
<circle cx="318.43" cy="198.48" r="0.85" fill="#2ea89a"/>
<path d="M318.63 197.36V201.28M317.73 197.36H319.53M317.73 201.28H319.53" stroke="#3cb4a6" stroke-width="0.6" fill="none"/>
<circle cx="318.63" cy="199.32" r="0.85" fill="#2ea89a"/>
<path d="M318.82 192.1V194.08M317.92 192.1H319.72M317.92 194.08H319.72" stroke="#3cb4a6" stroke-width="0.6" fill="none"/>
<circle cx="318.82" cy="193.09" r="0.85" fill="#2ea89a"/>
<path d="M319.02 198.14V199.96M318.12 198.14H319.92M318.12 199.96H319.92" stroke="#3cb4a6" stroke-width="0.6" fill="none"/>
<circle cx="319.02" cy="199.05" r="0.85" fill="#2ea89a"/>
<path d="M319.22 193.08V197.25M318.32 193.08H320.12M318.32 197.25H320.12" stroke="#3cb4a6" stroke-width="0.6" fill="none"/>
<circle cx="319.22" cy="195.16" r="0.85" fill="#2ea89a"/>
<path d="M319.42 190.33V195.41M318.52 190.33H320.32M318.52 195.41H320.32" stroke="#3cb4a6" stroke-width="0.6" fill="none"/>
<circle cx="319.42" cy="192.87" r="0.85" fill="#2ea89a"/>
<path d="M319.61 196.43V200.74M318.71 196.43H320.51M318.71 200.74H320.51" stroke="#3cb4a6" stroke-width="0.6" fill="none"/>
<circle cx="319.61" cy="198.58" r="0.85" fill="#2ea89a"/>
<path d="M319.81 196.16V200.42M318.91 196.16H320.71M318.91 200.42H320.71" stroke="#3cb4a6" stroke-width="0.6" fill="none"/>
<circle cx="319.81" cy="198.29" r="0.85" fill="#2ea89a"/>
<path d="M320.01 193.77V198.31M319.11 193.77H320.91M319.11 198.31H320.91" stroke="#3cb4a6" stroke-width="0.6" fill="none"/>
<circle cx="320.01" cy="196.04" r="0.85" fill="#2ea89a"/>
<path d="M320.21 192.83V195.28M319.31 192.83H321.11M319.31 195.28H321.11" stroke="#3cb4a6" stroke-width="0.6" fill="none"/>
<circle cx="320.21" cy="194.06" r="0.85" fill="#2ea89a"/>
<path d="M320.4 191.54V195.71M319.5 191.54H321.3M319.5 195.71H321.3" stroke="#3cb4a6" stroke-width="0.6" fill="none"/>
<circle cx="320.4" cy="193.63" r="0.85" fill="#2ea89a"/>
<path d="M320.6 193.57V198.33M319.7 193.57H321.5M319.7 198.33H321.5" stroke="#3cb4a6" stroke-width="0.6" fill="none"/>
<circle cx="320.6" cy="195.95" r="0.85" fill="#2ea89a"/>
<path d="M320.8 194.7V197.58M319.9 194.7H321.7M319.9 197.58H321.7" stroke="#3cb4a6" stroke-width="0.6" fill="none"/>
<circle cx="320.8" cy="196.14" r="0.85" fill="#2ea89a"/>
<path d="M320.99 197.46V200.41M320.09 197.46H321.89M320.09 200.41H321.89" stroke="#3cb4a6" stroke-width="0.6" fill="none"/>
<circle cx="320.99" cy="198.94" r="0.85" fill="#2ea89a"/>
<path d="M321.19 198.02V200.02M320.29 198.02H322.09M320.29 200.02H322.09" stroke="#3cb4a6" stroke-width="0.6" fill="none"/>
<circle cx="321.19" cy="199.02" r="0.85" fill="#2ea89a"/>
<path d="M321.39 194.6V196.54M320.49 194.6H322.29M320.49 196.54H322.29" stroke="#3cb4a6" stroke-width="0.6" fill="none"/>
<circle cx="321.39" cy="195.57" r="0.85" fill="#2ea89a"/>
<path d="M321.59 191.69V196.8M320.69 191.69H322.49M320.69 196.8H322.49" stroke="#3cb4a6" stroke-width="0.6" fill="none"/>
<circle cx="321.59" cy="194.24" r="0.85" fill="#2ea89a"/>
<path d="M321.78 193.5V195.35M320.88 193.5H322.68M320.88 195.35H322.68" stroke="#3cb4a6" stroke-width="0.6" fill="none"/>
<circle cx="321.78" cy="194.42" r="0.85" fill="#2ea89a"/>
<path d="M321.98 195.84V201.18M321.08 195.84H322.88M321.08 201.18H322.88" stroke="#3cb4a6" stroke-width="0.6" fill="none"/>
<circle cx="321.98" cy="198.51" r="0.85" fill="#2ea89a"/>
<path d="M322.18 193.45V196.73M321.28 193.45H323.08M321.28 196.73H323.08" stroke="#3cb4a6" stroke-width="0.6" fill="none"/>
<circle cx="322.18" cy="195.09" r="0.85" fill="#2ea89a"/>
<path d="M322.38 193.41V195.75M321.48 193.41H323.28M321.48 195.75H323.28" stroke="#3cb4a6" stroke-width="0.6" fill="none"/>
<circle cx="322.38" cy="194.58" r="0.85" fill="#2ea89a"/>
<path d="M322.57 195.77V199.98M321.67 195.77H323.47M321.67 199.98H323.47" stroke="#3cb4a6" stroke-width="0.6" fill="none"/>
<circle cx="322.57" cy="197.88" r="0.85" fill="#2ea89a"/>
<path d="M322.77 191.98V194.22M321.87 191.98H323.67M321.87 194.22H323.67" stroke="#3cb4a6" stroke-width="0.6" fill="none"/>
<circle cx="322.77" cy="193.1" r="0.85" fill="#2ea89a"/>
<path d="M322.97 195.57V198.36M322.07 195.57H323.87M322.07 198.36H323.87" stroke="#3cb4a6" stroke-width="0.6" fill="none"/>
<circle cx="322.97" cy="196.97" r="0.85" fill="#2ea89a"/>
<path d="M323.16 195.91V201.03M322.26 195.91H324.06M322.26 201.03H324.06" stroke="#3cb4a6" stroke-width="0.6" fill="none"/>
<circle cx="323.16" cy="198.47" r="0.85" fill="#2ea89a"/>
<path d="M323.36 195.26V199.75M322.46 195.26H324.26M322.46 199.75H324.26" stroke="#3cb4a6" stroke-width="0.6" fill="none"/>
<circle cx="323.36" cy="197.5" r="0.85" fill="#2ea89a"/>
<path d="M323.56 195.59V198.44M322.66 195.59H324.46M322.66 198.44H324.46" stroke="#3cb4a6" stroke-width="0.6" fill="none"/>
<circle cx="323.56" cy="197.01" r="0.85" fill="#2ea89a"/>
<path d="M323.76 195.83V199.42M322.86 195.83H324.66M322.86 199.42H324.66" stroke="#3cb4a6" stroke-width="0.6" fill="none"/>
<circle cx="323.76" cy="197.62" r="0.85" fill="#2ea89a"/>
<path d="M323.95 197.52V199.51M323.05 197.52H324.85M323.05 199.51H324.85" stroke="#3cb4a6" stroke-width="0.6" fill="none"/>
<circle cx="323.95" cy="198.51" r="0.85" fill="#2ea89a"/>
<path d="M324.15 200.73V204.87M323.25 200.73H325.05M323.25 204.87H325.05" stroke="#3cb4a6" stroke-width="0.6" fill="none"/>
<circle cx="324.15" cy="202.8" r="0.85" fill="#2ea89a"/>
<path d="M324.35 194.15V198.58M323.45 194.15H325.25M323.45 198.58H325.25" stroke="#3cb4a6" stroke-width="0.6" fill="none"/>
<circle cx="324.35" cy="196.37" r="0.85" fill="#2ea89a"/>
<path d="M324.55 194.89V199.79M323.65 194.89H325.45M323.65 199.79H325.45" stroke="#3cb4a6" stroke-width="0.6" fill="none"/>
<circle cx="324.55" cy="197.34" r="0.85" fill="#2ea89a"/>
<path d="M324.74 195.37V199.24M323.84 195.37H325.64M323.84 199.24H325.64" stroke="#3cb4a6" stroke-width="0.6" fill="none"/>
<circle cx="324.74" cy="197.3" r="0.85" fill="#2ea89a"/>
<path d="M324.94 194.5V198.73M324.04 194.5H325.84M324.04 198.73H325.84" stroke="#3cb4a6" stroke-width="0.6" fill="none"/>
<circle cx="324.94" cy="196.61" r="0.85" fill="#2ea89a"/>
<path d="M325.14 192.62V196.74M324.24 192.62H326.04M324.24 196.74H326.04" stroke="#3cb4a6" stroke-width="0.6" fill="none"/>
<circle cx="325.14" cy="194.68" r="0.85" fill="#2ea89a"/>
<path d="M325.33 192.46V195.76M324.43 192.46H326.23M324.43 195.76H326.23" stroke="#3cb4a6" stroke-width="0.6" fill="none"/>
<circle cx="325.33" cy="194.11" r="0.85" fill="#2ea89a"/>
<path d="M325.53 196.75V201.38M324.63 196.75H326.43M324.63 201.38H326.43" stroke="#3cb4a6" stroke-width="0.6" fill="none"/>
<circle cx="325.53" cy="199.07" r="0.85" fill="#2ea89a"/>
<path d="M325.73 193.15V196M324.83 193.15H326.63M324.83 196H326.63" stroke="#3cb4a6" stroke-width="0.6" fill="none"/>
<circle cx="325.73" cy="194.57" r="0.85" fill="#2ea89a"/>
<path d="M325.93 189.74V194.51M325.03 189.74H326.83M325.03 194.51H326.83" stroke="#3cb4a6" stroke-width="0.6" fill="none"/>
<circle cx="325.93" cy="192.13" r="0.85" fill="#2ea89a"/>
<path d="M326.12 192.86V196.84M325.22 192.86H327.02M325.22 196.84H327.02" stroke="#3cb4a6" stroke-width="0.6" fill="none"/>
<circle cx="326.12" cy="194.85" r="0.85" fill="#2ea89a"/>
<path d="M326.32 191.83V194.74M325.42 191.83H327.22M325.42 194.74H327.22" stroke="#3cb4a6" stroke-width="0.6" fill="none"/>
<circle cx="326.32" cy="193.28" r="0.85" fill="#2ea89a"/>
<path d="M326.52 194.65V199.65M325.62 194.65H327.42M325.62 199.65H327.42" stroke="#3cb4a6" stroke-width="0.6" fill="none"/>
<circle cx="326.52" cy="197.15" r="0.85" fill="#2ea89a"/>
<path d="M326.72 196.12V201.15M325.82 196.12H327.62M325.82 201.15H327.62" stroke="#3cb4a6" stroke-width="0.6" fill="none"/>
<circle cx="326.72" cy="198.64" r="0.85" fill="#2ea89a"/>
<path d="M326.91 193.33V196.15M326.01 193.33H327.81M326.01 196.15H327.81" stroke="#3cb4a6" stroke-width="0.6" fill="none"/>
<circle cx="326.91" cy="194.74" r="0.85" fill="#2ea89a"/>
<path d="M327.11 193.3V197.21M326.21 193.3H328.01M326.21 197.21H328.01" stroke="#3cb4a6" stroke-width="0.6" fill="none"/>
<circle cx="327.11" cy="195.25" r="0.85" fill="#2ea89a"/>
<path d="M327.31 194.16V199.15M326.41 194.16H328.21M326.41 199.15H328.21" stroke="#3cb4a6" stroke-width="0.6" fill="none"/>
<circle cx="327.31" cy="196.65" r="0.85" fill="#2ea89a"/>
<path d="M327.5 190.9V195.82M326.6 190.9H328.4M326.6 195.82H328.4" stroke="#3cb4a6" stroke-width="0.6" fill="none"/>
<circle cx="327.5" cy="193.36" r="0.85" fill="#2ea89a"/>
<path d="M327.7 194.38V197.16M326.8 194.38H328.6M326.8 197.16H328.6" stroke="#3cb4a6" stroke-width="0.6" fill="none"/>
<circle cx="327.7" cy="195.77" r="0.85" fill="#2ea89a"/>
<path d="M327.9 192.17V197.26M327 192.17H328.8M327 197.26H328.8" stroke="#3cb4a6" stroke-width="0.6" fill="none"/>
<circle cx="327.9" cy="194.72" r="0.85" fill="#2ea89a"/>
<path d="M328.1 198.26V200.37M327.2 198.26H329M327.2 200.37H329" stroke="#3cb4a6" stroke-width="0.6" fill="none"/>
<circle cx="328.1" cy="199.31" r="0.85" fill="#2ea89a"/>
<path d="M328.29 197.47V201.97M327.39 197.47H329.19M327.39 201.97H329.19" stroke="#3cb4a6" stroke-width="0.6" fill="none"/>
<circle cx="328.29" cy="199.72" r="0.85" fill="#2ea89a"/>
<path d="M328.49 196.42V199.06M327.59 196.42H329.39M327.59 199.06H329.39" stroke="#3cb4a6" stroke-width="0.6" fill="none"/>
<circle cx="328.49" cy="197.74" r="0.85" fill="#2ea89a"/>
<path d="M328.69 197.53V200.08M327.79 197.53H329.59M327.79 200.08H329.59" stroke="#3cb4a6" stroke-width="0.6" fill="none"/>
<circle cx="328.69" cy="198.8" r="0.85" fill="#2ea89a"/>
<path d="M328.89 196.11V200.62M327.99 196.11H329.79M327.99 200.62H329.79" stroke="#3cb4a6" stroke-width="0.6" fill="none"/>
<circle cx="328.89" cy="198.37" r="0.85" fill="#2ea89a"/>
<path d="M329.08 193.8V198.5M328.18 193.8H329.98M328.18 198.5H329.98" stroke="#3cb4a6" stroke-width="0.6" fill="none"/>
<circle cx="329.08" cy="196.15" r="0.85" fill="#2ea89a"/>
<path d="M329.28 197.29V199.93M328.38 197.29H330.18M328.38 199.93H330.18" stroke="#3cb4a6" stroke-width="0.6" fill="none"/>
<circle cx="329.28" cy="198.61" r="0.85" fill="#2ea89a"/>
<path d="M329.48 198.22V201.9M328.58 198.22H330.38M328.58 201.9H330.38" stroke="#3cb4a6" stroke-width="0.6" fill="none"/>
<circle cx="329.48" cy="200.06" r="0.85" fill="#2ea89a"/>
<path d="M329.67 196.56V200.48M328.77 196.56H330.57M328.77 200.48H330.57" stroke="#3cb4a6" stroke-width="0.6" fill="none"/>
<circle cx="329.67" cy="198.52" r="0.85" fill="#2ea89a"/>
<path d="M329.87 194.07V198.39M328.97 194.07H330.77M328.97 198.39H330.77" stroke="#3cb4a6" stroke-width="0.6" fill="none"/>
<circle cx="329.87" cy="196.23" r="0.85" fill="#2ea89a"/>
<path d="M330.07 193.65V197.49M329.17 193.65H330.97M329.17 197.49H330.97" stroke="#3cb4a6" stroke-width="0.6" fill="none"/>
<circle cx="330.07" cy="195.57" r="0.85" fill="#2ea89a"/>
<path d="M330.27 197.48V199.44M329.37 197.48H331.17M329.37 199.44H331.17" stroke="#3cb4a6" stroke-width="0.6" fill="none"/>
<circle cx="330.27" cy="198.46" r="0.85" fill="#2ea89a"/>
<path d="M330.46 193.84V196.98M329.56 193.84H331.36M329.56 196.98H331.36" stroke="#3cb4a6" stroke-width="0.6" fill="none"/>
<circle cx="330.46" cy="195.41" r="0.85" fill="#2ea89a"/>
<path d="M330.66 193.47V195.83M329.76 193.47H331.56M329.76 195.83H331.56" stroke="#3cb4a6" stroke-width="0.6" fill="none"/>
<circle cx="330.66" cy="194.65" r="0.85" fill="#2ea89a"/>
<path d="M330.86 193.56V196.6M329.96 193.56H331.76M329.96 196.6H331.76" stroke="#3cb4a6" stroke-width="0.6" fill="none"/>
<circle cx="330.86" cy="195.08" r="0.85" fill="#2ea89a"/>
<path d="M331.06 189.84V192.41M330.16 189.84H331.96M330.16 192.41H331.96" stroke="#3cb4a6" stroke-width="0.6" fill="none"/>
<circle cx="331.06" cy="191.13" r="0.85" fill="#2ea89a"/>
<path d="M331.25 195.31V198.12M330.35 195.31H332.15M330.35 198.12H332.15" stroke="#3cb4a6" stroke-width="0.6" fill="none"/>
<circle cx="331.25" cy="196.71" r="0.85" fill="#2ea89a"/>
<path d="M331.45 193.06V197.05M330.55 193.06H332.35M330.55 197.05H332.35" stroke="#3cb4a6" stroke-width="0.6" fill="none"/>
<circle cx="331.45" cy="195.05" r="0.85" fill="#2ea89a"/>
<path d="M331.65 193.12V197.96M330.75 193.12H332.55M330.75 197.96H332.55" stroke="#3cb4a6" stroke-width="0.6" fill="none"/>
<circle cx="331.65" cy="195.54" r="0.85" fill="#2ea89a"/>
<path d="M331.84 198.82V200.72M330.94 198.82H332.74M330.94 200.72H332.74" stroke="#3cb4a6" stroke-width="0.6" fill="none"/>
<circle cx="331.84" cy="199.77" r="0.85" fill="#2ea89a"/>
<path d="M332.04 182.53V185.97M331.14 182.53H332.94M331.14 185.97H332.94" stroke="#3cb4a6" stroke-width="0.6" fill="none"/>
<circle cx="332.04" cy="184.25" r="0.85" fill="#2ea89a"/>
<path d="M332.24 183.01V187.35M331.34 183.01H333.14M331.34 187.35H333.14" stroke="#3cb4a6" stroke-width="0.6" fill="none"/>
<circle cx="332.24" cy="185.18" r="0.85" fill="#2ea89a"/>
<path d="M332.44 196.49V199.44M331.54 196.49H333.34M331.54 199.44H333.34" stroke="#3cb4a6" stroke-width="0.6" fill="none"/>
<circle cx="332.44" cy="197.96" r="0.85" fill="#2ea89a"/>
<path d="M332.63 194.77V198.4M331.73 194.77H333.53M331.73 198.4H333.53" stroke="#3cb4a6" stroke-width="0.6" fill="none"/>
<circle cx="332.63" cy="196.59" r="0.85" fill="#2ea89a"/>
<path d="M332.83 193.46V198.32M331.93 193.46H333.73M331.93 198.32H333.73" stroke="#3cb4a6" stroke-width="0.6" fill="none"/>
<circle cx="332.83" cy="195.89" r="0.85" fill="#2ea89a"/>
<path d="M333.03 196.37V198.79M332.13 196.37H333.93M332.13 198.79H333.93" stroke="#3cb4a6" stroke-width="0.6" fill="none"/>
<circle cx="333.03" cy="197.58" r="0.85" fill="#2ea89a"/>
<path d="M333.23 193.11V198.3M332.33 193.11H334.13M332.33 198.3H334.13" stroke="#3cb4a6" stroke-width="0.6" fill="none"/>
<circle cx="333.23" cy="195.71" r="0.85" fill="#2ea89a"/>
<path d="M333.42 196.82V200.47M332.52 196.82H334.32M332.52 200.47H334.32" stroke="#3cb4a6" stroke-width="0.6" fill="none"/>
<circle cx="333.42" cy="198.65" r="0.85" fill="#2ea89a"/>
<path d="M333.62 193.56V198.1M332.72 193.56H334.52M332.72 198.1H334.52" stroke="#3cb4a6" stroke-width="0.6" fill="none"/>
<circle cx="333.62" cy="195.83" r="0.85" fill="#2ea89a"/>
<path d="M333.82 196.59V198.41M332.92 196.59H334.72M332.92 198.41H334.72" stroke="#3cb4a6" stroke-width="0.6" fill="none"/>
<circle cx="333.82" cy="197.5" r="0.85" fill="#2ea89a"/>
<path d="M334.01 194.34V198.83M333.11 194.34H334.91M333.11 198.83H334.91" stroke="#3cb4a6" stroke-width="0.6" fill="none"/>
<circle cx="334.01" cy="196.58" r="0.85" fill="#2ea89a"/>
<path d="M334.21 196.57V200.07M333.31 196.57H335.11M333.31 200.07H335.11" stroke="#3cb4a6" stroke-width="0.6" fill="none"/>
<circle cx="334.21" cy="198.32" r="0.85" fill="#2ea89a"/>
<path d="M334.41 196.11V199.32M333.51 196.11H335.31M333.51 199.32H335.31" stroke="#3cb4a6" stroke-width="0.6" fill="none"/>
<circle cx="334.41" cy="197.71" r="0.85" fill="#2ea89a"/>
<path d="M334.61 195.57V200.27M333.71 195.57H335.51M333.71 200.27H335.51" stroke="#3cb4a6" stroke-width="0.6" fill="none"/>
<circle cx="334.61" cy="197.92" r="0.85" fill="#2ea89a"/>
<path d="M334.8 192.91V197.92M333.9 192.91H335.7M333.9 197.92H335.7" stroke="#3cb4a6" stroke-width="0.6" fill="none"/>
<circle cx="334.8" cy="195.42" r="0.85" fill="#2ea89a"/>
<path d="M335 199.41V201.77M334.1 199.41H335.9M334.1 201.77H335.9" stroke="#3cb4a6" stroke-width="0.6" fill="none"/>
<circle cx="335" cy="200.59" r="0.85" fill="#2ea89a"/>
<path d="M335.2 194.83V196.91M334.3 194.83H336.1M334.3 196.91H336.1" stroke="#3cb4a6" stroke-width="0.6" fill="none"/>
<circle cx="335.2" cy="195.87" r="0.85" fill="#2ea89a"/>
<path d="M335.4 195.65V200.26M334.5 195.65H336.3M334.5 200.26H336.3" stroke="#3cb4a6" stroke-width="0.6" fill="none"/>
<circle cx="335.4" cy="197.96" r="0.85" fill="#2ea89a"/>
<path d="M335.59 195.29V200.42M334.69 195.29H336.49M334.69 200.42H336.49" stroke="#3cb4a6" stroke-width="0.6" fill="none"/>
<circle cx="335.59" cy="197.86" r="0.85" fill="#2ea89a"/>
<path d="M335.79 191.16V193.8M334.89 191.16H336.69M334.89 193.8H336.69" stroke="#3cb4a6" stroke-width="0.6" fill="none"/>
<circle cx="335.79" cy="192.48" r="0.85" fill="#2ea89a"/>
<path d="M335.99 194.86V197.98M335.09 194.86H336.89M335.09 197.98H336.89" stroke="#3cb4a6" stroke-width="0.6" fill="none"/>
<circle cx="335.99" cy="196.42" r="0.85" fill="#2ea89a"/>
<path d="M336.18 196.41V199.84M335.28 196.41H337.08M335.28 199.84H337.08" stroke="#3cb4a6" stroke-width="0.6" fill="none"/>
<circle cx="336.18" cy="198.13" r="0.85" fill="#2ea89a"/>
<path d="M336.38 192.4V195.79M335.48 192.4H337.28M335.48 195.79H337.28" stroke="#3cb4a6" stroke-width="0.6" fill="none"/>
<circle cx="336.38" cy="194.09" r="0.85" fill="#2ea89a"/>
<path d="M336.58 194.61V196.5M335.68 194.61H337.48M335.68 196.5H337.48" stroke="#3cb4a6" stroke-width="0.6" fill="none"/>
<circle cx="336.58" cy="195.55" r="0.85" fill="#2ea89a"/>
<path d="M336.78 193.71V196.58M335.88 193.71H337.68M335.88 196.58H337.68" stroke="#3cb4a6" stroke-width="0.6" fill="none"/>
<circle cx="336.78" cy="195.15" r="0.85" fill="#2ea89a"/>
<path d="M336.97 194.48V197.92M336.07 194.48H337.87M336.07 197.92H337.87" stroke="#3cb4a6" stroke-width="0.6" fill="none"/>
<circle cx="336.97" cy="196.2" r="0.85" fill="#2ea89a"/>
<path d="M337.17 196.82V199.17M336.27 196.82H338.07M336.27 199.17H338.07" stroke="#3cb4a6" stroke-width="0.6" fill="none"/>
<circle cx="337.17" cy="198" r="0.85" fill="#2ea89a"/>
<path d="M337.37 196.65V201.78M336.47 196.65H338.27M336.47 201.78H338.27" stroke="#3cb4a6" stroke-width="0.6" fill="none"/>
<circle cx="337.37" cy="199.22" r="0.85" fill="#2ea89a"/>
<path d="M337.57 194.48V199.29M336.67 194.48H338.47M336.67 199.29H338.47" stroke="#3cb4a6" stroke-width="0.6" fill="none"/>
<circle cx="337.57" cy="196.88" r="0.85" fill="#2ea89a"/>
<path d="M337.76 192.77V196.12M336.86 192.77H338.66M336.86 196.12H338.66" stroke="#3cb4a6" stroke-width="0.6" fill="none"/>
<circle cx="337.76" cy="194.44" r="0.85" fill="#2ea89a"/>
<path d="M337.96 193.27V195.93M337.06 193.27H338.86M337.06 195.93H338.86" stroke="#3cb4a6" stroke-width="0.6" fill="none"/>
<circle cx="337.96" cy="194.6" r="0.85" fill="#2ea89a"/>
<path d="M338.16 195.34V197.73M337.26 195.34H339.06M337.26 197.73H339.06" stroke="#3cb4a6" stroke-width="0.6" fill="none"/>
<circle cx="338.16" cy="196.53" r="0.85" fill="#2ea89a"/>
<path d="M338.35 192.21V197.53M337.45 192.21H339.25M337.45 197.53H339.25" stroke="#3cb4a6" stroke-width="0.6" fill="none"/>
<circle cx="338.35" cy="194.87" r="0.85" fill="#2ea89a"/>
<path d="M338.55 193.26V196.89M337.65 193.26H339.45M337.65 196.89H339.45" stroke="#3cb4a6" stroke-width="0.6" fill="none"/>
<circle cx="338.55" cy="195.07" r="0.85" fill="#2ea89a"/>
<path d="M338.75 192.93V196.33M337.85 192.93H339.65M337.85 196.33H339.65" stroke="#3cb4a6" stroke-width="0.6" fill="none"/>
<circle cx="338.75" cy="194.63" r="0.85" fill="#2ea89a"/>
<path d="M338.95 194.05V197.15M338.05 194.05H339.85M338.05 197.15H339.85" stroke="#3cb4a6" stroke-width="0.6" fill="none"/>
<circle cx="338.95" cy="195.6" r="0.85" fill="#2ea89a"/>
<path d="M339.14 195.05V198.9M338.24 195.05H340.04M338.24 198.9H340.04" stroke="#3cb4a6" stroke-width="0.6" fill="none"/>
<circle cx="339.14" cy="196.98" r="0.85" fill="#2ea89a"/>
<path d="M339.34 193.75V198.11M338.44 193.75H340.24M338.44 198.11H340.24" stroke="#3cb4a6" stroke-width="0.6" fill="none"/>
<circle cx="339.34" cy="195.93" r="0.85" fill="#2ea89a"/>
<path d="M339.54 194.76V196.84M338.64 194.76H340.44M338.64 196.84H340.44" stroke="#3cb4a6" stroke-width="0.6" fill="none"/>
<circle cx="339.54" cy="195.8" r="0.85" fill="#2ea89a"/>
<path d="M339.74 193.16V195.95M338.84 193.16H340.64M338.84 195.95H340.64" stroke="#3cb4a6" stroke-width="0.6" fill="none"/>
<circle cx="339.74" cy="194.55" r="0.85" fill="#2ea89a"/>
<path d="M339.93 193.37V197.38M339.03 193.37H340.83M339.03 197.38H340.83" stroke="#3cb4a6" stroke-width="0.6" fill="none"/>
<circle cx="339.93" cy="195.37" r="0.85" fill="#2ea89a"/>
<path d="M340.13 196.27V198.8M339.23 196.27H341.03M339.23 198.8H341.03" stroke="#3cb4a6" stroke-width="0.6" fill="none"/>
<circle cx="340.13" cy="197.54" r="0.85" fill="#2ea89a"/>
<path d="M340.33 190.02V195.12M339.43 190.02H341.23M339.43 195.12H341.23" stroke="#3cb4a6" stroke-width="0.6" fill="none"/>
<circle cx="340.33" cy="192.57" r="0.85" fill="#2ea89a"/>
<path d="M340.52 196.28V200.38M339.62 196.28H341.42M339.62 200.38H341.42" stroke="#3cb4a6" stroke-width="0.6" fill="none"/>
<circle cx="340.52" cy="198.33" r="0.85" fill="#2ea89a"/>
<path d="M340.72 195.8V197.93M339.82 195.8H341.62M339.82 197.93H341.62" stroke="#3cb4a6" stroke-width="0.6" fill="none"/>
<circle cx="340.72" cy="196.86" r="0.85" fill="#2ea89a"/>
<path d="M340.92 197.16V201.36M340.02 197.16H341.82M340.02 201.36H341.82" stroke="#3cb4a6" stroke-width="0.6" fill="none"/>
<circle cx="340.92" cy="199.26" r="0.85" fill="#2ea89a"/>
<path d="M341.12 193.1V196.93M340.22 193.1H342.02M340.22 196.93H342.02" stroke="#3cb4a6" stroke-width="0.6" fill="none"/>
<circle cx="341.12" cy="195.01" r="0.85" fill="#2ea89a"/>
<path d="M341.31 194.24V198.11M340.41 194.24H342.21M340.41 198.11H342.21" stroke="#3cb4a6" stroke-width="0.6" fill="none"/>
<circle cx="341.31" cy="196.18" r="0.85" fill="#2ea89a"/>
<path d="M341.51 195.17V198.25M340.61 195.17H342.41M340.61 198.25H342.41" stroke="#3cb4a6" stroke-width="0.6" fill="none"/>
<circle cx="341.51" cy="196.71" r="0.85" fill="#2ea89a"/>
<path d="M341.71 183.35V188.09M340.81 183.35H342.61M340.81 188.09H342.61" stroke="#3cb4a6" stroke-width="0.6" fill="none"/>
<circle cx="341.71" cy="185.72" r="0.85" fill="#2ea89a"/>
<path d="M341.91 197.16V200.12M341.01 197.16H342.81M341.01 200.12H342.81" stroke="#3cb4a6" stroke-width="0.6" fill="none"/>
<circle cx="341.91" cy="198.64" r="0.85" fill="#2ea89a"/>
<path d="M342.1 196.09V198.11M341.2 196.09H343M341.2 198.11H343" stroke="#3cb4a6" stroke-width="0.6" fill="none"/>
<circle cx="342.1" cy="197.1" r="0.85" fill="#2ea89a"/>
<path d="M342.3 195.77V201.01M341.4 195.77H343.2M341.4 201.01H343.2" stroke="#3cb4a6" stroke-width="0.6" fill="none"/>
<circle cx="342.3" cy="198.39" r="0.85" fill="#2ea89a"/>
<path d="M342.5 196.98V200.71M341.6 196.98H343.4M341.6 200.71H343.4" stroke="#3cb4a6" stroke-width="0.6" fill="none"/>
<circle cx="342.5" cy="198.84" r="0.85" fill="#2ea89a"/>
<path d="M342.69 199.3V201.76M341.79 199.3H343.59M341.79 201.76H343.59" stroke="#3cb4a6" stroke-width="0.6" fill="none"/>
<circle cx="342.69" cy="200.53" r="0.85" fill="#2ea89a"/>
<path d="M342.89 194.62V196.52M341.99 194.62H343.79M341.99 196.52H343.79" stroke="#3cb4a6" stroke-width="0.6" fill="none"/>
<circle cx="342.89" cy="195.57" r="0.85" fill="#2ea89a"/>
<path d="M343.09 193.68V198M342.19 193.68H343.99M342.19 198H343.99" stroke="#3cb4a6" stroke-width="0.6" fill="none"/>
<circle cx="343.09" cy="195.84" r="0.85" fill="#2ea89a"/>
<path d="M343.29 194.62V198.49M342.39 194.62H344.19M342.39 198.49H344.19" stroke="#3cb4a6" stroke-width="0.6" fill="none"/>
<circle cx="343.29" cy="196.55" r="0.85" fill="#2ea89a"/>
<path d="M343.48 194.18V198.51M342.58 194.18H344.38M342.58 198.51H344.38" stroke="#3cb4a6" stroke-width="0.6" fill="none"/>
<circle cx="343.48" cy="196.35" r="0.85" fill="#2ea89a"/>
<path d="M343.68 192.77V194.73M342.78 192.77H344.58M342.78 194.73H344.58" stroke="#3cb4a6" stroke-width="0.6" fill="none"/>
<circle cx="343.68" cy="193.75" r="0.85" fill="#2ea89a"/>
<path d="M343.88 192.68V196.25M342.98 192.68H344.78M342.98 196.25H344.78" stroke="#3cb4a6" stroke-width="0.6" fill="none"/>
<circle cx="343.88" cy="194.47" r="0.85" fill="#2ea89a"/>
<path d="M344.08 196.51V199.77M343.18 196.51H344.98M343.18 199.77H344.98" stroke="#3cb4a6" stroke-width="0.6" fill="none"/>
<circle cx="344.08" cy="198.14" r="0.85" fill="#2ea89a"/>
<path d="M344.27 194.71V198.64M343.37 194.71H345.17M343.37 198.64H345.17" stroke="#3cb4a6" stroke-width="0.6" fill="none"/>
<circle cx="344.27" cy="196.68" r="0.85" fill="#2ea89a"/>
<path d="M344.47 193.77V198.26M343.57 193.77H345.37M343.57 198.26H345.37" stroke="#3cb4a6" stroke-width="0.6" fill="none"/>
<circle cx="344.47" cy="196.01" r="0.85" fill="#2ea89a"/>
<path d="M344.67 195.07V199.84M343.77 195.07H345.57M343.77 199.84H345.57" stroke="#3cb4a6" stroke-width="0.6" fill="none"/>
<circle cx="344.67" cy="197.45" r="0.85" fill="#2ea89a"/>
<path d="M344.86 192.6V197.42M343.96 192.6H345.76M343.96 197.42H345.76" stroke="#3cb4a6" stroke-width="0.6" fill="none"/>
<circle cx="344.86" cy="195.01" r="0.85" fill="#2ea89a"/>
<path d="M345.06 195.74V198.97M344.16 195.74H345.96M344.16 198.97H345.96" stroke="#3cb4a6" stroke-width="0.6" fill="none"/>
<circle cx="345.06" cy="197.36" r="0.85" fill="#2ea89a"/>
<path d="M345.26 192.41V195.07M344.36 192.41H346.16M344.36 195.07H346.16" stroke="#3cb4a6" stroke-width="0.6" fill="none"/>
<circle cx="345.26" cy="193.74" r="0.85" fill="#2ea89a"/>
<path d="M345.46 196.12V199.48M344.56 196.12H346.36M344.56 199.48H346.36" stroke="#3cb4a6" stroke-width="0.6" fill="none"/>
<circle cx="345.46" cy="197.8" r="0.85" fill="#2ea89a"/>
<path d="M345.65 191.05V195.79M344.75 191.05H346.55M344.75 195.79H346.55" stroke="#3cb4a6" stroke-width="0.6" fill="none"/>
<circle cx="345.65" cy="193.42" r="0.85" fill="#2ea89a"/>
<path d="M345.85 196.06V198.05M344.95 196.06H346.75M344.95 198.05H346.75" stroke="#3cb4a6" stroke-width="0.6" fill="none"/>
<circle cx="345.85" cy="197.05" r="0.85" fill="#2ea89a"/>
<path d="M346.05 199.85V202.55M345.15 199.85H346.95M345.15 202.55H346.95" stroke="#3cb4a6" stroke-width="0.6" fill="none"/>
<circle cx="346.05" cy="201.2" r="0.85" fill="#2ea89a"/>
<path d="M346.25 195.13V199.2M345.35 195.13H347.15M345.35 199.2H347.15" stroke="#3cb4a6" stroke-width="0.6" fill="none"/>
<circle cx="346.25" cy="197.17" r="0.85" fill="#2ea89a"/>
<path d="M346.44 192.22V196.43M345.54 192.22H347.34M345.54 196.43H347.34" stroke="#3cb4a6" stroke-width="0.6" fill="none"/>
<circle cx="346.44" cy="194.33" r="0.85" fill="#2ea89a"/>
<path d="M346.64 193.33V196.65M345.74 193.33H347.54M345.74 196.65H347.54" stroke="#3cb4a6" stroke-width="0.6" fill="none"/>
<circle cx="346.64" cy="194.99" r="0.85" fill="#2ea89a"/>
<path d="M346.84 200.69V202.66M345.94 200.69H347.74M345.94 202.66H347.74" stroke="#3cb4a6" stroke-width="0.6" fill="none"/>
<circle cx="346.84" cy="201.68" r="0.85" fill="#2ea89a"/>
<path d="M347.03 190.24V195.54M346.13 190.24H347.93M346.13 195.54H347.93" stroke="#3cb4a6" stroke-width="0.6" fill="none"/>
<circle cx="347.03" cy="192.89" r="0.85" fill="#2ea89a"/>
<path d="M347.23 190.6V195.71M346.33 190.6H348.13M346.33 195.71H348.13" stroke="#3cb4a6" stroke-width="0.6" fill="none"/>
<circle cx="347.23" cy="193.15" r="0.85" fill="#2ea89a"/>
<path d="M347.43 193.73V197.79M346.53 193.73H348.33M346.53 197.79H348.33" stroke="#3cb4a6" stroke-width="0.6" fill="none"/>
<circle cx="347.43" cy="195.76" r="0.85" fill="#2ea89a"/>
<path d="M347.63 195.38V197.62M346.73 195.38H348.53M346.73 197.62H348.53" stroke="#3cb4a6" stroke-width="0.6" fill="none"/>
<circle cx="347.63" cy="196.5" r="0.85" fill="#2ea89a"/>
<path d="M347.82 203.6V206.43M346.92 203.6H348.72M346.92 206.43H348.72" stroke="#3cb4a6" stroke-width="0.6" fill="none"/>
<circle cx="347.82" cy="205.01" r="0.85" fill="#2ea89a"/>
<path d="M348.02 195.59V199.53M347.12 195.59H348.92M347.12 199.53H348.92" stroke="#3cb4a6" stroke-width="0.6" fill="none"/>
<circle cx="348.02" cy="197.56" r="0.85" fill="#2ea89a"/>
<path d="M348.22 192.38V196.03M347.32 192.38H349.12M347.32 196.03H349.12" stroke="#3cb4a6" stroke-width="0.6" fill="none"/>
<circle cx="348.22" cy="194.21" r="0.85" fill="#2ea89a"/>
<path d="M348.42 195.74V198.07M347.52 195.74H349.32M347.52 198.07H349.32" stroke="#3cb4a6" stroke-width="0.6" fill="none"/>
<circle cx="348.42" cy="196.9" r="0.85" fill="#2ea89a"/>
<path d="M348.61 193.51V195.79M347.71 193.51H349.51M347.71 195.79H349.51" stroke="#3cb4a6" stroke-width="0.6" fill="none"/>
<circle cx="348.61" cy="194.65" r="0.85" fill="#2ea89a"/>
<path d="M348.81 195.83V198.51M347.91 195.83H349.71M347.91 198.51H349.71" stroke="#3cb4a6" stroke-width="0.6" fill="none"/>
<circle cx="348.81" cy="197.17" r="0.85" fill="#2ea89a"/>
<path d="M349.01 193V196.77M348.11 193H349.91M348.11 196.77H349.91" stroke="#3cb4a6" stroke-width="0.6" fill="none"/>
<circle cx="349.01" cy="194.89" r="0.85" fill="#2ea89a"/>
<path d="M349.2 193.27V197.41M348.3 193.27H350.1M348.3 197.41H350.1" stroke="#3cb4a6" stroke-width="0.6" fill="none"/>
<circle cx="349.2" cy="195.34" r="0.85" fill="#2ea89a"/>
<path d="M349.4 196.59V200.95M348.5 196.59H350.3M348.5 200.95H350.3" stroke="#3cb4a6" stroke-width="0.6" fill="none"/>
<circle cx="349.4" cy="198.77" r="0.85" fill="#2ea89a"/>
<path d="M349.6 197.14V200.63M348.7 197.14H350.5M348.7 200.63H350.5" stroke="#3cb4a6" stroke-width="0.6" fill="none"/>
<circle cx="349.6" cy="198.88" r="0.85" fill="#2ea89a"/>
<path d="M349.8 194.78V197.45M348.9 194.78H350.7M348.9 197.45H350.7" stroke="#3cb4a6" stroke-width="0.6" fill="none"/>
<circle cx="349.8" cy="196.11" r="0.85" fill="#2ea89a"/>
<path d="M349.99 194.33V198.24M349.09 194.33H350.89M349.09 198.24H350.89" stroke="#3cb4a6" stroke-width="0.6" fill="none"/>
<circle cx="349.99" cy="196.28" r="0.85" fill="#2ea89a"/>
<path d="M350.19 188.32V193.54M349.29 188.32H351.09M349.29 193.54H351.09" stroke="#3cb4a6" stroke-width="0.6" fill="none"/>
<circle cx="350.19" cy="190.93" r="0.85" fill="#2ea89a"/>
<path d="M350.39 194.91V199.87M349.49 194.91H351.29M349.49 199.87H351.29" stroke="#3cb4a6" stroke-width="0.6" fill="none"/>
<circle cx="350.39" cy="197.39" r="0.85" fill="#2ea89a"/>
<path d="M350.59 194.23V196.23M349.69 194.23H351.49M349.69 196.23H351.49" stroke="#3cb4a6" stroke-width="0.6" fill="none"/>
<circle cx="350.59" cy="195.23" r="0.85" fill="#2ea89a"/>
<path d="M350.78 192.87V195.92M349.88 192.87H351.68M349.88 195.92H351.68" stroke="#3cb4a6" stroke-width="0.6" fill="none"/>
<circle cx="350.78" cy="194.4" r="0.85" fill="#2ea89a"/>
<path d="M350.98 194.53V198.19M350.08 194.53H351.88M350.08 198.19H351.88" stroke="#3cb4a6" stroke-width="0.6" fill="none"/>
<circle cx="350.98" cy="196.36" r="0.85" fill="#2ea89a"/>
<path d="M351.18 193.97V197.65M350.28 193.97H352.08M350.28 197.65H352.08" stroke="#3cb4a6" stroke-width="0.6" fill="none"/>
<circle cx="351.18" cy="195.81" r="0.85" fill="#2ea89a"/>
<path d="M351.37 196.01V200.25M350.47 196.01H352.27M350.47 200.25H352.27" stroke="#3cb4a6" stroke-width="0.6" fill="none"/>
<circle cx="351.37" cy="198.13" r="0.85" fill="#2ea89a"/>
<path d="M351.57 193.79V196.1M350.67 193.79H352.47M350.67 196.1H352.47" stroke="#3cb4a6" stroke-width="0.6" fill="none"/>
<circle cx="351.57" cy="194.95" r="0.85" fill="#2ea89a"/>
<path d="M351.77 195.43V199.43M350.87 195.43H352.67M350.87 199.43H352.67" stroke="#3cb4a6" stroke-width="0.6" fill="none"/>
<circle cx="351.77" cy="197.43" r="0.85" fill="#2ea89a"/>
<path d="M351.97 194.81V199.69M351.07 194.81H352.87M351.07 199.69H352.87" stroke="#3cb4a6" stroke-width="0.6" fill="none"/>
<circle cx="351.97" cy="197.25" r="0.85" fill="#2ea89a"/>
<path d="M352.16 190.56V195.95M351.26 190.56H353.06M351.26 195.95H353.06" stroke="#3cb4a6" stroke-width="0.6" fill="none"/>
<circle cx="352.16" cy="193.25" r="0.85" fill="#2ea89a"/>
<path d="M352.36 194.8V199.13M351.46 194.8H353.26M351.46 199.13H353.26" stroke="#3cb4a6" stroke-width="0.6" fill="none"/>
<circle cx="352.36" cy="196.97" r="0.85" fill="#2ea89a"/>
<path d="M352.56 193.04V195.21M351.66 193.04H353.46M351.66 195.21H353.46" stroke="#3cb4a6" stroke-width="0.6" fill="none"/>
<circle cx="352.56" cy="194.13" r="0.85" fill="#2ea89a"/>
<path d="M352.76 196.99V200.22M351.86 196.99H353.66M351.86 200.22H353.66" stroke="#3cb4a6" stroke-width="0.6" fill="none"/>
<circle cx="352.76" cy="198.61" r="0.85" fill="#2ea89a"/>
<path d="M352.95 194.28V196.62M352.05 194.28H353.85M352.05 196.62H353.85" stroke="#3cb4a6" stroke-width="0.6" fill="none"/>
<circle cx="352.95" cy="195.45" r="0.85" fill="#2ea89a"/>
<path d="M353.15 194.71V196.91M352.25 194.71H354.05M352.25 196.91H354.05" stroke="#3cb4a6" stroke-width="0.6" fill="none"/>
<circle cx="353.15" cy="195.81" r="0.85" fill="#2ea89a"/>
<path d="M353.35 195.71V200M352.45 195.71H354.25M352.45 200H354.25" stroke="#3cb4a6" stroke-width="0.6" fill="none"/>
<circle cx="353.35" cy="197.86" r="0.85" fill="#2ea89a"/>
<path d="M353.54 195.22V198.92M352.64 195.22H354.44M352.64 198.92H354.44" stroke="#3cb4a6" stroke-width="0.6" fill="none"/>
<circle cx="353.54" cy="197.07" r="0.85" fill="#2ea89a"/>
<path d="M353.74 192.96V197.09M352.84 192.96H354.64M352.84 197.09H354.64" stroke="#3cb4a6" stroke-width="0.6" fill="none"/>
<circle cx="353.74" cy="195.03" r="0.85" fill="#2ea89a"/>
<path d="M353.94 192.09V195.26M353.04 192.09H354.84M353.04 195.26H354.84" stroke="#3cb4a6" stroke-width="0.6" fill="none"/>
<circle cx="353.94" cy="193.67" r="0.85" fill="#2ea89a"/>
<path d="M354.14 194.68V198.41M353.24 194.68H355.04M353.24 198.41H355.04" stroke="#3cb4a6" stroke-width="0.6" fill="none"/>
<circle cx="354.14" cy="196.54" r="0.85" fill="#2ea89a"/>
<path d="M354.33 194.72V197.35M353.43 194.72H355.23M353.43 197.35H355.23" stroke="#3cb4a6" stroke-width="0.6" fill="none"/>
<circle cx="354.33" cy="196.04" r="0.85" fill="#2ea89a"/>
<path d="M354.53 197.01V199.99M353.63 197.01H355.43M353.63 199.99H355.43" stroke="#3cb4a6" stroke-width="0.6" fill="none"/>
<circle cx="354.53" cy="198.5" r="0.85" fill="#2ea89a"/>
<path d="M354.73 192.75V195.72M353.83 192.75H355.63M353.83 195.72H355.63" stroke="#3cb4a6" stroke-width="0.6" fill="none"/>
<circle cx="354.73" cy="194.24" r="0.85" fill="#2ea89a"/>
<path d="M354.93 194.65V199.65M354.03 194.65H355.83M354.03 199.65H355.83" stroke="#3cb4a6" stroke-width="0.6" fill="none"/>
<circle cx="354.93" cy="197.15" r="0.85" fill="#2ea89a"/>
<path d="M355.12 193.76V198.78M354.22 193.76H356.02M354.22 198.78H356.02" stroke="#3cb4a6" stroke-width="0.6" fill="none"/>
<circle cx="355.12" cy="196.27" r="0.85" fill="#2ea89a"/>
<path d="M355.32 194.92V198.65M354.42 194.92H356.22M354.42 198.65H356.22" stroke="#3cb4a6" stroke-width="0.6" fill="none"/>
<circle cx="355.32" cy="196.78" r="0.85" fill="#2ea89a"/>
<path d="M355.52 195.25V200.02M354.62 195.25H356.42M354.62 200.02H356.42" stroke="#3cb4a6" stroke-width="0.6" fill="none"/>
<circle cx="355.52" cy="197.63" r="0.85" fill="#2ea89a"/>
<path d="M355.71 192.67V196.01M354.81 192.67H356.61M354.81 196.01H356.61" stroke="#3cb4a6" stroke-width="0.6" fill="none"/>
<circle cx="355.71" cy="194.34" r="0.85" fill="#2ea89a"/>
<path d="M355.91 195.46V198.89M355.01 195.46H356.81M355.01 198.89H356.81" stroke="#3cb4a6" stroke-width="0.6" fill="none"/>
<circle cx="355.91" cy="197.18" r="0.85" fill="#2ea89a"/>
<path d="M356.11 201.05V203.2M355.21 201.05H357.01M355.21 203.2H357.01" stroke="#3cb4a6" stroke-width="0.6" fill="none"/>
<circle cx="356.11" cy="202.13" r="0.85" fill="#2ea89a"/>
<path d="M356.31 196.03V199.89M355.41 196.03H357.21M355.41 199.89H357.21" stroke="#3cb4a6" stroke-width="0.6" fill="none"/>
<circle cx="356.31" cy="197.96" r="0.85" fill="#2ea89a"/>
<path d="M356.5 192.73V198M355.6 192.73H357.4M355.6 198H357.4" stroke="#3cb4a6" stroke-width="0.6" fill="none"/>
<circle cx="356.5" cy="195.37" r="0.85" fill="#2ea89a"/>
<path d="M356.7 195.92V201.31M355.8 195.92H357.6M355.8 201.31H357.6" stroke="#3cb4a6" stroke-width="0.6" fill="none"/>
<circle cx="356.7" cy="198.61" r="0.85" fill="#2ea89a"/>
<path d="M356.9 194.65V198.36M356 194.65H357.8M356 198.36H357.8" stroke="#3cb4a6" stroke-width="0.6" fill="none"/>
<circle cx="356.9" cy="196.51" r="0.85" fill="#2ea89a"/>
<path d="M357.1 193.56V198.88M356.2 193.56H358M356.2 198.88H358" stroke="#3cb4a6" stroke-width="0.6" fill="none"/>
<circle cx="357.1" cy="196.22" r="0.85" fill="#2ea89a"/>
<path d="M357.29 195.86V199.51M356.39 195.86H358.19M356.39 199.51H358.19" stroke="#3cb4a6" stroke-width="0.6" fill="none"/>
<circle cx="357.29" cy="197.68" r="0.85" fill="#2ea89a"/>
<path d="M357.49 191.34V196.09M356.59 191.34H358.39M356.59 196.09H358.39" stroke="#3cb4a6" stroke-width="0.6" fill="none"/>
<circle cx="357.49" cy="193.72" r="0.85" fill="#2ea89a"/>
<path d="M357.69 191.71V196.71M356.79 191.71H358.59M356.79 196.71H358.59" stroke="#3cb4a6" stroke-width="0.6" fill="none"/>
<circle cx="357.69" cy="194.21" r="0.85" fill="#2ea89a"/>
<path d="M357.88 195.78V199.42M356.98 195.78H358.78M356.98 199.42H358.78" stroke="#3cb4a6" stroke-width="0.6" fill="none"/>
<circle cx="357.88" cy="197.6" r="0.85" fill="#2ea89a"/>
<path d="M358.08 194.93V197.4M357.18 194.93H358.98M357.18 197.4H358.98" stroke="#3cb4a6" stroke-width="0.6" fill="none"/>
<circle cx="358.08" cy="196.16" r="0.85" fill="#2ea89a"/>
<path d="M358.28 194.08V197.15M357.38 194.08H359.18M357.38 197.15H359.18" stroke="#3cb4a6" stroke-width="0.6" fill="none"/>
<circle cx="358.28" cy="195.62" r="0.85" fill="#2ea89a"/>
<path d="M358.48 192.29V196.39M357.58 192.29H359.38M357.58 196.39H359.38" stroke="#3cb4a6" stroke-width="0.6" fill="none"/>
<circle cx="358.48" cy="194.34" r="0.85" fill="#2ea89a"/>
<path d="M358.67 193.42V196.32M357.77 193.42H359.57M357.77 196.32H359.57" stroke="#3cb4a6" stroke-width="0.6" fill="none"/>
<circle cx="358.67" cy="194.87" r="0.85" fill="#2ea89a"/>
<path d="M358.87 195.27V197.09M357.97 195.27H359.77M357.97 197.09H359.77" stroke="#3cb4a6" stroke-width="0.6" fill="none"/>
<circle cx="358.87" cy="196.18" r="0.85" fill="#2ea89a"/>
<path d="M359.07 195.73V199.94M358.17 195.73H359.97M358.17 199.94H359.97" stroke="#3cb4a6" stroke-width="0.6" fill="none"/>
<circle cx="359.07" cy="197.84" r="0.85" fill="#2ea89a"/>
<path d="M359.27 191.59V195.18M358.37 191.59H360.17M358.37 195.18H360.17" stroke="#3cb4a6" stroke-width="0.6" fill="none"/>
<circle cx="359.27" cy="193.39" r="0.85" fill="#2ea89a"/>
<path d="M359.46 196.16V199.87M358.56 196.16H360.36M358.56 199.87H360.36" stroke="#3cb4a6" stroke-width="0.6" fill="none"/>
<circle cx="359.46" cy="198.01" r="0.85" fill="#2ea89a"/>
<path d="M359.66 195.2V199.07M358.76 195.2H360.56M358.76 199.07H360.56" stroke="#3cb4a6" stroke-width="0.6" fill="none"/>
<circle cx="359.66" cy="197.14" r="0.85" fill="#2ea89a"/>
<path d="M359.86 195.18V199.72M358.96 195.18H360.76M358.96 199.72H360.76" stroke="#3cb4a6" stroke-width="0.6" fill="none"/>
<circle cx="359.86" cy="197.45" r="0.85" fill="#2ea89a"/>
<path d="M360.05 195.1V197.26M359.15 195.1H360.95M359.15 197.26H360.95" stroke="#3cb4a6" stroke-width="0.6" fill="none"/>
<circle cx="360.05" cy="196.18" r="0.85" fill="#2ea89a"/>
<path d="M360.25 193.61V197.62M359.35 193.61H361.15M359.35 197.62H361.15" stroke="#3cb4a6" stroke-width="0.6" fill="none"/>
<circle cx="360.25" cy="195.61" r="0.85" fill="#2ea89a"/>
<path d="M360.45 193.72V195.75M359.55 193.72H361.35M359.55 195.75H361.35" stroke="#3cb4a6" stroke-width="0.6" fill="none"/>
<circle cx="360.45" cy="194.73" r="0.85" fill="#2ea89a"/>
<path d="M360.65 191.38V195.76M359.75 191.38H361.55M359.75 195.76H361.55" stroke="#3cb4a6" stroke-width="0.6" fill="none"/>
<circle cx="360.65" cy="193.57" r="0.85" fill="#2ea89a"/>
<path d="M360.84 195.22V197.63M359.94 195.22H361.74M359.94 197.63H361.74" stroke="#3cb4a6" stroke-width="0.6" fill="none"/>
<circle cx="360.84" cy="196.43" r="0.85" fill="#2ea89a"/>
<path d="M361.04 194.81V198.7M360.14 194.81H361.94M360.14 198.7H361.94" stroke="#3cb4a6" stroke-width="0.6" fill="none"/>
<circle cx="361.04" cy="196.76" r="0.85" fill="#2ea89a"/>
<path d="M361.24 194.13V197.55M360.34 194.13H362.14M360.34 197.55H362.14" stroke="#3cb4a6" stroke-width="0.6" fill="none"/>
<circle cx="361.24" cy="195.84" r="0.85" fill="#2ea89a"/>
<path d="M361.44 195.18V199.08M360.54 195.18H362.34M360.54 199.08H362.34" stroke="#3cb4a6" stroke-width="0.6" fill="none"/>
<circle cx="361.44" cy="197.13" r="0.85" fill="#2ea89a"/>
<path d="M361.63 194.58V197.96M360.73 194.58H362.53M360.73 197.96H362.53" stroke="#3cb4a6" stroke-width="0.6" fill="none"/>
<circle cx="361.63" cy="196.27" r="0.85" fill="#2ea89a"/>
<path d="M361.83 199.58V204.62M360.93 199.58H362.73M360.93 204.62H362.73" stroke="#3cb4a6" stroke-width="0.6" fill="none"/>
<circle cx="361.83" cy="202.1" r="0.85" fill="#2ea89a"/>
<path d="M362.03 196.16V199.06M361.13 196.16H362.93M361.13 199.06H362.93" stroke="#3cb4a6" stroke-width="0.6" fill="none"/>
<circle cx="362.03" cy="197.61" r="0.85" fill="#2ea89a"/>
<path d="M362.22 197.74V202.95M361.32 197.74H363.12M361.32 202.95H363.12" stroke="#3cb4a6" stroke-width="0.6" fill="none"/>
<circle cx="362.22" cy="200.34" r="0.85" fill="#2ea89a"/>
<path d="M362.42 197.83V201.03M361.52 197.83H363.32M361.52 201.03H363.32" stroke="#3cb4a6" stroke-width="0.6" fill="none"/>
<circle cx="362.42" cy="199.43" r="0.85" fill="#2ea89a"/>
<path d="M362.62 194.45V199.4M361.72 194.45H363.52M361.72 199.4H363.52" stroke="#3cb4a6" stroke-width="0.6" fill="none"/>
<circle cx="362.62" cy="196.92" r="0.85" fill="#2ea89a"/>
<path d="M362.82 195.6V200.25M361.92 195.6H363.72M361.92 200.25H363.72" stroke="#3cb4a6" stroke-width="0.6" fill="none"/>
<circle cx="362.82" cy="197.93" r="0.85" fill="#2ea89a"/>
<path d="M363.01 195.39V197.86M362.11 195.39H363.91M362.11 197.86H363.91" stroke="#3cb4a6" stroke-width="0.6" fill="none"/>
<circle cx="363.01" cy="196.62" r="0.85" fill="#2ea89a"/>
<path d="M363.21 194.13V196.97M362.31 194.13H364.11M362.31 196.97H364.11" stroke="#3cb4a6" stroke-width="0.6" fill="none"/>
<circle cx="363.21" cy="195.55" r="0.85" fill="#2ea89a"/>
<path d="M363.41 195.9V199.09M362.51 195.9H364.31M362.51 199.09H364.31" stroke="#3cb4a6" stroke-width="0.6" fill="none"/>
<circle cx="363.41" cy="197.5" r="0.85" fill="#2ea89a"/>
<path d="M363.61 195.99V198.02M362.71 195.99H364.51M362.71 198.02H364.51" stroke="#3cb4a6" stroke-width="0.6" fill="none"/>
<circle cx="363.61" cy="197.01" r="0.85" fill="#2ea89a"/>
<path d="M363.8 192.91V195.59M362.9 192.91H364.7M362.9 195.59H364.7" stroke="#3cb4a6" stroke-width="0.6" fill="none"/>
<circle cx="363.8" cy="194.25" r="0.85" fill="#2ea89a"/>
<path d="M364 192.89V195.71M363.1 192.89H364.9M363.1 195.71H364.9" stroke="#3cb4a6" stroke-width="0.6" fill="none"/>
<circle cx="364" cy="194.3" r="0.85" fill="#2ea89a"/>
<path d="M364.2 195.12V198.14M363.3 195.12H365.1M363.3 198.14H365.1" stroke="#3cb4a6" stroke-width="0.6" fill="none"/>
<circle cx="364.2" cy="196.63" r="0.85" fill="#2ea89a"/>
<path d="M364.39 194.02V198.36M363.49 194.02H365.29M363.49 198.36H365.29" stroke="#3cb4a6" stroke-width="0.6" fill="none"/>
<circle cx="364.39" cy="196.19" r="0.85" fill="#2ea89a"/>
<path d="M364.59 194.34V196.6M363.69 194.34H365.49M363.69 196.6H365.49" stroke="#3cb4a6" stroke-width="0.6" fill="none"/>
<circle cx="364.59" cy="195.47" r="0.85" fill="#2ea89a"/>
<path d="M364.79 193.47V198.28M363.89 193.47H365.69M363.89 198.28H365.69" stroke="#3cb4a6" stroke-width="0.6" fill="none"/>
<circle cx="364.79" cy="195.88" r="0.85" fill="#2ea89a"/>
<path d="M364.99 194.11V198.51M364.09 194.11H365.89M364.09 198.51H365.89" stroke="#3cb4a6" stroke-width="0.6" fill="none"/>
<circle cx="364.99" cy="196.31" r="0.85" fill="#2ea89a"/>
<path d="M365.18 195.05V200.3M364.28 195.05H366.08M364.28 200.3H366.08" stroke="#3cb4a6" stroke-width="0.6" fill="none"/>
<circle cx="365.18" cy="197.67" r="0.85" fill="#2ea89a"/>
<path d="M365.38 194.2V196.82M364.48 194.2H366.28M364.48 196.82H366.28" stroke="#3cb4a6" stroke-width="0.6" fill="none"/>
<circle cx="365.38" cy="195.51" r="0.85" fill="#2ea89a"/>
<path d="M365.58 191.24V193.51M364.68 191.24H366.48M364.68 193.51H366.48" stroke="#3cb4a6" stroke-width="0.6" fill="none"/>
<circle cx="365.58" cy="192.37" r="0.85" fill="#2ea89a"/>
<path d="M365.78 195.09V199.01M364.88 195.09H366.68M364.88 199.01H366.68" stroke="#3cb4a6" stroke-width="0.6" fill="none"/>
<circle cx="365.78" cy="197.05" r="0.85" fill="#2ea89a"/>
<path d="M365.97 196.68V199.37M365.07 196.68H366.87M365.07 199.37H366.87" stroke="#3cb4a6" stroke-width="0.6" fill="none"/>
<circle cx="365.97" cy="198.02" r="0.85" fill="#2ea89a"/>
<path d="M366.17 196.52V198.76M365.27 196.52H367.07M365.27 198.76H367.07" stroke="#3cb4a6" stroke-width="0.6" fill="none"/>
<circle cx="366.17" cy="197.64" r="0.85" fill="#2ea89a"/>
<path d="M366.37 195.58V199.33M365.47 195.58H367.27M365.47 199.33H367.27" stroke="#3cb4a6" stroke-width="0.6" fill="none"/>
<circle cx="366.37" cy="197.46" r="0.85" fill="#2ea89a"/>
<path d="M366.56 194.98V199.15M365.66 194.98H367.46M365.66 199.15H367.46" stroke="#3cb4a6" stroke-width="0.6" fill="none"/>
<circle cx="366.56" cy="197.07" r="0.85" fill="#2ea89a"/>
<path d="M366.76 192.12V195.04M365.86 192.12H367.66M365.86 195.04H367.66" stroke="#3cb4a6" stroke-width="0.6" fill="none"/>
<circle cx="366.76" cy="193.58" r="0.85" fill="#2ea89a"/>
<path d="M366.96 194.83V199.69M366.06 194.83H367.86M366.06 199.69H367.86" stroke="#3cb4a6" stroke-width="0.6" fill="none"/>
<circle cx="366.96" cy="197.26" r="0.85" fill="#2ea89a"/>
<path d="M367.16 194.09V198.27M366.26 194.09H368.06M366.26 198.27H368.06" stroke="#3cb4a6" stroke-width="0.6" fill="none"/>
<circle cx="367.16" cy="196.18" r="0.85" fill="#2ea89a"/>
<path d="M367.35 193.06V196.67M366.45 193.06H368.25M366.45 196.67H368.25" stroke="#3cb4a6" stroke-width="0.6" fill="none"/>
<circle cx="367.35" cy="194.87" r="0.85" fill="#2ea89a"/>
<path d="M367.55 194.18V196.22M366.65 194.18H368.45M366.65 196.22H368.45" stroke="#3cb4a6" stroke-width="0.6" fill="none"/>
<circle cx="367.55" cy="195.2" r="0.85" fill="#2ea89a"/>
<path d="M367.75 194.97V199.35M366.85 194.97H368.65M366.85 199.35H368.65" stroke="#3cb4a6" stroke-width="0.6" fill="none"/>
<circle cx="367.75" cy="197.16" r="0.85" fill="#2ea89a"/>
<path d="M367.95 193.84V197.09M367.05 193.84H368.85M367.05 197.09H368.85" stroke="#3cb4a6" stroke-width="0.6" fill="none"/>
<circle cx="367.95" cy="195.47" r="0.85" fill="#2ea89a"/>
<path d="M368.14 191.59V196.49M367.24 191.59H369.04M367.24 196.49H369.04" stroke="#3cb4a6" stroke-width="0.6" fill="none"/>
<circle cx="368.14" cy="194.04" r="0.85" fill="#2ea89a"/>
<path d="M368.34 196.97V199.76M367.44 196.97H369.24M367.44 199.76H369.24" stroke="#3cb4a6" stroke-width="0.6" fill="none"/>
<circle cx="368.34" cy="198.36" r="0.85" fill="#2ea89a"/>
<path d="M368.54 192.45V195.51M367.64 192.45H369.44M367.64 195.51H369.44" stroke="#3cb4a6" stroke-width="0.6" fill="none"/>
<circle cx="368.54" cy="193.98" r="0.85" fill="#2ea89a"/>
<path d="M368.73 194.08V198.25M367.83 194.08H369.63M367.83 198.25H369.63" stroke="#3cb4a6" stroke-width="0.6" fill="none"/>
<circle cx="368.73" cy="196.16" r="0.85" fill="#2ea89a"/>
<path d="M368.93 195.56V198.63M368.03 195.56H369.83M368.03 198.63H369.83" stroke="#3cb4a6" stroke-width="0.6" fill="none"/>
<circle cx="368.93" cy="197.1" r="0.85" fill="#2ea89a"/>
<path d="M369.13 196.74V199.2M368.23 196.74H370.03M368.23 199.2H370.03" stroke="#3cb4a6" stroke-width="0.6" fill="none"/>
<circle cx="369.13" cy="197.97" r="0.85" fill="#2ea89a"/>
<path d="M369.33 191.49V195.85M368.43 191.49H370.23M368.43 195.85H370.23" stroke="#3cb4a6" stroke-width="0.6" fill="none"/>
<circle cx="369.33" cy="193.67" r="0.85" fill="#2ea89a"/>
<path d="M369.52 198.37V201.72M368.62 198.37H370.42M368.62 201.72H370.42" stroke="#3cb4a6" stroke-width="0.6" fill="none"/>
<circle cx="369.52" cy="200.04" r="0.85" fill="#2ea89a"/>
<path d="M369.72 194.73V198.52M368.82 194.73H370.62M368.82 198.52H370.62" stroke="#3cb4a6" stroke-width="0.6" fill="none"/>
<circle cx="369.72" cy="196.62" r="0.85" fill="#2ea89a"/>
<path d="M369.92 195.13V200.32M369.02 195.13H370.82M369.02 200.32H370.82" stroke="#3cb4a6" stroke-width="0.6" fill="none"/>
<circle cx="369.92" cy="197.72" r="0.85" fill="#2ea89a"/>
<path d="M370.12 196.03V199.7M369.22 196.03H371.02M369.22 199.7H371.02" stroke="#3cb4a6" stroke-width="0.6" fill="none"/>
<circle cx="370.12" cy="197.87" r="0.85" fill="#2ea89a"/>
<path d="M370.31 195.08V199.29M369.41 195.08H371.21M369.41 199.29H371.21" stroke="#3cb4a6" stroke-width="0.6" fill="none"/>
<circle cx="370.31" cy="197.18" r="0.85" fill="#2ea89a"/>
<path d="M370.51 198.17V202.72M369.61 198.17H371.41M369.61 202.72H371.41" stroke="#3cb4a6" stroke-width="0.6" fill="none"/>
<circle cx="370.51" cy="200.45" r="0.85" fill="#2ea89a"/>
<path d="M370.71 196.08V201.12M369.81 196.08H371.61M369.81 201.12H371.61" stroke="#3cb4a6" stroke-width="0.6" fill="none"/>
<circle cx="370.71" cy="198.6" r="0.85" fill="#2ea89a"/>
<path d="M370.9 192.31V197.62M370 192.31H371.8M370 197.62H371.8" stroke="#3cb4a6" stroke-width="0.6" fill="none"/>
<circle cx="370.9" cy="194.97" r="0.85" fill="#2ea89a"/>
<path d="M371.1 197.4V199.33M370.2 197.4H372M370.2 199.33H372" stroke="#3cb4a6" stroke-width="0.6" fill="none"/>
<circle cx="371.1" cy="198.37" r="0.85" fill="#2ea89a"/>
<path d="M371.3 195.44V200.52M370.4 195.44H372.2M370.4 200.52H372.2" stroke="#3cb4a6" stroke-width="0.6" fill="none"/>
<circle cx="371.3" cy="197.98" r="0.85" fill="#2ea89a"/>
<path d="M371.5 191.58V196.05M370.6 191.58H372.4M370.6 196.05H372.4" stroke="#3cb4a6" stroke-width="0.6" fill="none"/>
<circle cx="371.5" cy="193.82" r="0.85" fill="#2ea89a"/>
<path d="M371.69 192.32V196.01M370.79 192.32H372.59M370.79 196.01H372.59" stroke="#3cb4a6" stroke-width="0.6" fill="none"/>
<circle cx="371.69" cy="194.16" r="0.85" fill="#2ea89a"/>
<path d="M371.89 194.09V199.31M370.99 194.09H372.79M370.99 199.31H372.79" stroke="#3cb4a6" stroke-width="0.6" fill="none"/>
<circle cx="371.89" cy="196.7" r="0.85" fill="#2ea89a"/>
<path d="M372.09 196.08V200.35M371.19 196.08H372.99M371.19 200.35H372.99" stroke="#3cb4a6" stroke-width="0.6" fill="none"/>
<circle cx="372.09" cy="198.22" r="0.85" fill="#2ea89a"/>
<path d="M372.29 194.06V198.11M371.39 194.06H373.19M371.39 198.11H373.19" stroke="#3cb4a6" stroke-width="0.6" fill="none"/>
<circle cx="372.29" cy="196.09" r="0.85" fill="#2ea89a"/>
<path d="M372.48 197.28V201.5M371.58 197.28H373.38M371.58 201.5H373.38" stroke="#3cb4a6" stroke-width="0.6" fill="none"/>
<circle cx="372.48" cy="199.39" r="0.85" fill="#2ea89a"/>
<path d="M372.68 194.52V199.12M371.78 194.52H373.58M371.78 199.12H373.58" stroke="#3cb4a6" stroke-width="0.6" fill="none"/>
<circle cx="372.68" cy="196.82" r="0.85" fill="#2ea89a"/>
<path d="M372.88 195.45V200.23M371.98 195.45H373.78M371.98 200.23H373.78" stroke="#3cb4a6" stroke-width="0.6" fill="none"/>
<circle cx="372.88" cy="197.84" r="0.85" fill="#2ea89a"/>
<path d="M373.07 195.38V197.81M372.17 195.38H373.97M372.17 197.81H373.97" stroke="#3cb4a6" stroke-width="0.6" fill="none"/>
<circle cx="373.07" cy="196.59" r="0.85" fill="#2ea89a"/>
<path d="M373.27 193.67V196.41M372.37 193.67H374.17M372.37 196.41H374.17" stroke="#3cb4a6" stroke-width="0.6" fill="none"/>
<circle cx="373.27" cy="195.04" r="0.85" fill="#2ea89a"/>
<path d="M373.47 192.76V195.17M372.57 192.76H374.37M372.57 195.17H374.37" stroke="#3cb4a6" stroke-width="0.6" fill="none"/>
<circle cx="373.47" cy="193.96" r="0.85" fill="#2ea89a"/>
<path d="M373.67 195.98V198.27M372.77 195.98H374.57M372.77 198.27H374.57" stroke="#3cb4a6" stroke-width="0.6" fill="none"/>
<circle cx="373.67" cy="197.13" r="0.85" fill="#2ea89a"/>
<path d="M373.86 194.24V197.79M372.96 194.24H374.76M372.96 197.79H374.76" stroke="#3cb4a6" stroke-width="0.6" fill="none"/>
<circle cx="373.86" cy="196.01" r="0.85" fill="#2ea89a"/>
<path d="M374.06 193.99V198.1M373.16 193.99H374.96M373.16 198.1H374.96" stroke="#3cb4a6" stroke-width="0.6" fill="none"/>
<circle cx="374.06" cy="196.04" r="0.85" fill="#2ea89a"/>
<path d="M374.26 195.22V197.5M373.36 195.22H375.16M373.36 197.5H375.16" stroke="#3cb4a6" stroke-width="0.6" fill="none"/>
<circle cx="374.26" cy="196.36" r="0.85" fill="#2ea89a"/>
<path d="M374.46 195.27V199.33M373.56 195.27H375.36M373.56 199.33H375.36" stroke="#3cb4a6" stroke-width="0.6" fill="none"/>
<circle cx="374.46" cy="197.3" r="0.85" fill="#2ea89a"/>
<path d="M374.65 197.33V200.66M373.75 197.33H375.55M373.75 200.66H375.55" stroke="#3cb4a6" stroke-width="0.6" fill="none"/>
<circle cx="374.65" cy="199" r="0.85" fill="#2ea89a"/>
<path d="M374.85 191.47V196.79M373.95 191.47H375.75M373.95 196.79H375.75" stroke="#3cb4a6" stroke-width="0.6" fill="none"/>
<circle cx="374.85" cy="194.13" r="0.85" fill="#2ea89a"/>
<path d="M375.05 196.02V199.28M374.15 196.02H375.95M374.15 199.28H375.95" stroke="#3cb4a6" stroke-width="0.6" fill="none"/>
<circle cx="375.05" cy="197.65" r="0.85" fill="#2ea89a"/>
<path d="M375.25 191.07V193.09M374.35 191.07H376.15M374.35 193.09H376.15" stroke="#3cb4a6" stroke-width="0.6" fill="none"/>
<circle cx="375.25" cy="192.08" r="0.85" fill="#2ea89a"/>
<path d="M375.44 192.74V195.25M374.54 192.74H376.34M374.54 195.25H376.34" stroke="#3cb4a6" stroke-width="0.6" fill="none"/>
<circle cx="375.44" cy="194" r="0.85" fill="#2ea89a"/>
<path d="M375.64 195.78V198.74M374.74 195.78H376.54M374.74 198.74H376.54" stroke="#3cb4a6" stroke-width="0.6" fill="none"/>
<circle cx="375.64" cy="197.26" r="0.85" fill="#2ea89a"/>
<path d="M375.84 197V200.11M374.94 197H376.74M374.94 200.11H376.74" stroke="#3cb4a6" stroke-width="0.6" fill="none"/>
<circle cx="375.84" cy="198.55" r="0.85" fill="#2ea89a"/>
<path d="M376.03 190.96V195.34M375.13 190.96H376.93M375.13 195.34H376.93" stroke="#3cb4a6" stroke-width="0.6" fill="none"/>
<circle cx="376.03" cy="193.15" r="0.85" fill="#2ea89a"/>
<path d="M376.23 194.15V197.97M375.33 194.15H377.13M375.33 197.97H377.13" stroke="#3cb4a6" stroke-width="0.6" fill="none"/>
<circle cx="376.23" cy="196.06" r="0.85" fill="#2ea89a"/>
<path d="M376.43 193.8V196.28M375.53 193.8H377.33M375.53 196.28H377.33" stroke="#3cb4a6" stroke-width="0.6" fill="none"/>
<circle cx="376.43" cy="195.04" r="0.85" fill="#2ea89a"/>
<path d="M376.63 194.43V196.26M375.73 194.43H377.53M375.73 196.26H377.53" stroke="#3cb4a6" stroke-width="0.6" fill="none"/>
<circle cx="376.63" cy="195.34" r="0.85" fill="#2ea89a"/>
<path d="M376.82 191.81V196.97M375.92 191.81H377.72M375.92 196.97H377.72" stroke="#3cb4a6" stroke-width="0.6" fill="none"/>
<circle cx="376.82" cy="194.39" r="0.85" fill="#2ea89a"/>
<path d="M377.02 196.58V199.28M376.12 196.58H377.92M376.12 199.28H377.92" stroke="#3cb4a6" stroke-width="0.6" fill="none"/>
<circle cx="377.02" cy="197.93" r="0.85" fill="#2ea89a"/>
<path d="M377.22 187.93V190.8M376.32 187.93H378.12M376.32 190.8H378.12" stroke="#3cb4a6" stroke-width="0.6" fill="none"/>
<circle cx="377.22" cy="189.36" r="0.85" fill="#2ea89a"/>
<path d="M377.42 193.63V197.73M376.52 193.63H378.32M376.52 197.73H378.32" stroke="#3cb4a6" stroke-width="0.6" fill="none"/>
<circle cx="377.42" cy="195.68" r="0.85" fill="#2ea89a"/>
<path d="M377.61 192.01V196.64M376.71 192.01H378.51M376.71 196.64H378.51" stroke="#3cb4a6" stroke-width="0.6" fill="none"/>
<circle cx="377.61" cy="194.32" r="0.85" fill="#2ea89a"/>
<path d="M377.81 197.85V202.32M376.91 197.85H378.71M376.91 202.32H378.71" stroke="#3cb4a6" stroke-width="0.6" fill="none"/>
<circle cx="377.81" cy="200.08" r="0.85" fill="#2ea89a"/>
<path d="M378.01 195.73V198.68M377.11 195.73H378.91M377.11 198.68H378.91" stroke="#3cb4a6" stroke-width="0.6" fill="none"/>
<circle cx="378.01" cy="197.21" r="0.85" fill="#2ea89a"/>
<path d="M378.2 193.75V197.54M377.3 193.75H379.1M377.3 197.54H379.1" stroke="#3cb4a6" stroke-width="0.6" fill="none"/>
<circle cx="378.2" cy="195.64" r="0.85" fill="#2ea89a"/>
<path d="M378.4 198.02V199.97M377.5 198.02H379.3M377.5 199.97H379.3" stroke="#3cb4a6" stroke-width="0.6" fill="none"/>
<circle cx="378.4" cy="199" r="0.85" fill="#2ea89a"/>
<path d="M378.6 192.14V196.2M377.7 192.14H379.5M377.7 196.2H379.5" stroke="#3cb4a6" stroke-width="0.6" fill="none"/>
<circle cx="378.6" cy="194.17" r="0.85" fill="#2ea89a"/>
<path d="M378.8 192.87V198.07M377.9 192.87H379.7M377.9 198.07H379.7" stroke="#3cb4a6" stroke-width="0.6" fill="none"/>
<circle cx="378.8" cy="195.47" r="0.85" fill="#2ea89a"/>
<path d="M378.99 197.44V201.03M378.09 197.44H379.89M378.09 201.03H379.89" stroke="#3cb4a6" stroke-width="0.6" fill="none"/>
<circle cx="378.99" cy="199.23" r="0.85" fill="#2ea89a"/>
<path d="M379.19 194.78V196.87M378.29 194.78H380.09M378.29 196.87H380.09" stroke="#3cb4a6" stroke-width="0.6" fill="none"/>
<circle cx="379.19" cy="195.83" r="0.85" fill="#2ea89a"/>
<path d="M379.39 194.2V196.59M378.49 194.2H380.29M378.49 196.59H380.29" stroke="#3cb4a6" stroke-width="0.6" fill="none"/>
<circle cx="379.39" cy="195.39" r="0.85" fill="#2ea89a"/>
<path d="M379.59 200.19V202.13M378.69 200.19H380.49M378.69 202.13H380.49" stroke="#3cb4a6" stroke-width="0.6" fill="none"/>
<circle cx="379.59" cy="201.16" r="0.85" fill="#2ea89a"/>
<path d="M379.78 193.75V196.24M378.88 193.75H380.68M378.88 196.24H380.68" stroke="#3cb4a6" stroke-width="0.6" fill="none"/>
<circle cx="379.78" cy="194.99" r="0.85" fill="#2ea89a"/>
<path d="M379.98 194.25V199.13M379.08 194.25H380.88M379.08 199.13H380.88" stroke="#3cb4a6" stroke-width="0.6" fill="none"/>
<circle cx="379.98" cy="196.69" r="0.85" fill="#2ea89a"/>
<path d="M380.18 195.14V198.47M379.28 195.14H381.08M379.28 198.47H381.08" stroke="#3cb4a6" stroke-width="0.6" fill="none"/>
<circle cx="380.18" cy="196.8" r="0.85" fill="#2ea89a"/>
<path d="M380.37 195.56V198.88M379.47 195.56H381.27M379.47 198.88H381.27" stroke="#3cb4a6" stroke-width="0.6" fill="none"/>
<circle cx="380.37" cy="197.22" r="0.85" fill="#2ea89a"/>
<path d="M380.57 192.37V195.75M379.67 192.37H381.47M379.67 195.75H381.47" stroke="#3cb4a6" stroke-width="0.6" fill="none"/>
<circle cx="380.57" cy="194.06" r="0.85" fill="#2ea89a"/>
<path d="M380.77 197.18V199.57M379.87 197.18H381.67M379.87 199.57H381.67" stroke="#3cb4a6" stroke-width="0.6" fill="none"/>
<circle cx="380.77" cy="198.37" r="0.85" fill="#2ea89a"/>
<path d="M380.97 197.9V201.3M380.07 197.9H381.87M380.07 201.3H381.87" stroke="#3cb4a6" stroke-width="0.6" fill="none"/>
<circle cx="380.97" cy="199.6" r="0.85" fill="#2ea89a"/>
<path d="M381.16 197.16V199.27M380.26 197.16H382.06M380.26 199.27H382.06" stroke="#3cb4a6" stroke-width="0.6" fill="none"/>
<circle cx="381.16" cy="198.21" r="0.85" fill="#2ea89a"/>
<path d="M381.36 195.59V199.05M380.46 195.59H382.26M380.46 199.05H382.26" stroke="#3cb4a6" stroke-width="0.6" fill="none"/>
<circle cx="381.36" cy="197.32" r="0.85" fill="#2ea89a"/>
<path d="M381.56 190.11V195.42M380.66 190.11H382.46M380.66 195.42H382.46" stroke="#3cb4a6" stroke-width="0.6" fill="none"/>
<circle cx="381.56" cy="192.77" r="0.85" fill="#2ea89a"/>
<path d="M381.76 195.36V199.4M380.86 195.36H382.66M380.86 199.4H382.66" stroke="#3cb4a6" stroke-width="0.6" fill="none"/>
<circle cx="381.76" cy="197.38" r="0.85" fill="#2ea89a"/>
<path d="M381.95 194.43V198.43M381.05 194.43H382.85M381.05 198.43H382.85" stroke="#3cb4a6" stroke-width="0.6" fill="none"/>
<circle cx="381.95" cy="196.43" r="0.85" fill="#2ea89a"/>
<path d="M382.15 195.33V199.19M381.25 195.33H383.05M381.25 199.19H383.05" stroke="#3cb4a6" stroke-width="0.6" fill="none"/>
<circle cx="382.15" cy="197.26" r="0.85" fill="#2ea89a"/>
<path d="M382.35 193.25V196.12M381.45 193.25H383.25M381.45 196.12H383.25" stroke="#3cb4a6" stroke-width="0.6" fill="none"/>
<circle cx="382.35" cy="194.68" r="0.85" fill="#2ea89a"/>
<path d="M382.54 194.78V199.77M381.64 194.78H383.44M381.64 199.77H383.44" stroke="#3cb4a6" stroke-width="0.6" fill="none"/>
<circle cx="382.54" cy="197.27" r="0.85" fill="#2ea89a"/>
<path d="M382.74 193.81V197.22M381.84 193.81H383.64M381.84 197.22H383.64" stroke="#3cb4a6" stroke-width="0.6" fill="none"/>
<circle cx="382.74" cy="195.51" r="0.85" fill="#2ea89a"/>
<path d="M382.94 194.38V198.55M382.04 194.38H383.84M382.04 198.55H383.84" stroke="#3cb4a6" stroke-width="0.6" fill="none"/>
<circle cx="382.94" cy="196.46" r="0.85" fill="#2ea89a"/>
<path d="M383.14 196.47V200.18M382.24 196.47H384.04M382.24 200.18H384.04" stroke="#3cb4a6" stroke-width="0.6" fill="none"/>
<circle cx="383.14" cy="198.33" r="0.85" fill="#2ea89a"/>
<path d="M383.33 193.33V196.56M382.43 193.33H384.23M382.43 196.56H384.23" stroke="#3cb4a6" stroke-width="0.6" fill="none"/>
<circle cx="383.33" cy="194.95" r="0.85" fill="#2ea89a"/>
<path d="M383.53 193.92V197.69M382.63 193.92H384.43M382.63 197.69H384.43" stroke="#3cb4a6" stroke-width="0.6" fill="none"/>
<circle cx="383.53" cy="195.81" r="0.85" fill="#2ea89a"/>
<path d="M383.73 193.46V198.37M382.83 193.46H384.63M382.83 198.37H384.63" stroke="#3cb4a6" stroke-width="0.6" fill="none"/>
<circle cx="383.73" cy="195.92" r="0.85" fill="#2ea89a"/>
<path d="M383.93 195.33V198.04M383.03 195.33H384.83M383.03 198.04H384.83" stroke="#3cb4a6" stroke-width="0.6" fill="none"/>
<circle cx="383.93" cy="196.69" r="0.85" fill="#2ea89a"/>
<path d="M384.12 193.96V197.76M383.22 193.96H385.02M383.22 197.76H385.02" stroke="#3cb4a6" stroke-width="0.6" fill="none"/>
<circle cx="384.12" cy="195.86" r="0.85" fill="#2ea89a"/>
<path d="M384.32 194.5V198.15M383.42 194.5H385.22M383.42 198.15H385.22" stroke="#3cb4a6" stroke-width="0.6" fill="none"/>
<circle cx="384.32" cy="196.32" r="0.85" fill="#2ea89a"/>
<path d="M384.52 193.29V195.38M383.62 193.29H385.42M383.62 195.38H385.42" stroke="#3cb4a6" stroke-width="0.6" fill="none"/>
<circle cx="384.52" cy="194.33" r="0.85" fill="#2ea89a"/>
<path d="M384.71 194.81V199.72M383.81 194.81H385.61M383.81 199.72H385.61" stroke="#3cb4a6" stroke-width="0.6" fill="none"/>
<circle cx="384.71" cy="197.26" r="0.85" fill="#2ea89a"/>
<path d="M384.91 194.1V198.47M384.01 194.1H385.81M384.01 198.47H385.81" stroke="#3cb4a6" stroke-width="0.6" fill="none"/>
<circle cx="384.91" cy="196.28" r="0.85" fill="#2ea89a"/>
<path d="M385.11 194.43V198.83M384.21 194.43H386.01M384.21 198.83H386.01" stroke="#3cb4a6" stroke-width="0.6" fill="none"/>
<circle cx="385.11" cy="196.63" r="0.85" fill="#2ea89a"/>
<path d="M385.31 195.17V199.96M384.41 195.17H386.21M384.41 199.96H386.21" stroke="#3cb4a6" stroke-width="0.6" fill="none"/>
<circle cx="385.31" cy="197.56" r="0.85" fill="#2ea89a"/>
<path d="M385.5 195.62V199.45M384.6 195.62H386.4M384.6 199.45H386.4" stroke="#3cb4a6" stroke-width="0.6" fill="none"/>
<circle cx="385.5" cy="197.53" r="0.85" fill="#2ea89a"/>
<path d="M385.7 194.83V197.12M384.8 194.83H386.6M384.8 197.12H386.6" stroke="#3cb4a6" stroke-width="0.6" fill="none"/>
<circle cx="385.7" cy="195.97" r="0.85" fill="#2ea89a"/>
<path d="M385.9 195V198.14M385 195H386.8M385 198.14H386.8" stroke="#3cb4a6" stroke-width="0.6" fill="none"/>
<circle cx="385.9" cy="196.57" r="0.85" fill="#2ea89a"/>
<path d="M386.1 201.38V203.62M385.2 201.38H387M385.2 203.62H387" stroke="#3cb4a6" stroke-width="0.6" fill="none"/>
<circle cx="386.1" cy="202.5" r="0.85" fill="#2ea89a"/>
<path d="M386.29 191.38V196.74M385.39 191.38H387.19M385.39 196.74H387.19" stroke="#3cb4a6" stroke-width="0.6" fill="none"/>
<circle cx="386.29" cy="194.06" r="0.85" fill="#2ea89a"/>
<path d="M386.49 192.58V194.79M385.59 192.58H387.39M385.59 194.79H387.39" stroke="#3cb4a6" stroke-width="0.6" fill="none"/>
<circle cx="386.49" cy="193.69" r="0.85" fill="#2ea89a"/>
<path d="M386.69 194.49V199.31M385.79 194.49H387.59M385.79 199.31H387.59" stroke="#3cb4a6" stroke-width="0.6" fill="none"/>
<circle cx="386.69" cy="196.9" r="0.85" fill="#2ea89a"/>
<path d="M386.88 196.12V200.57M385.98 196.12H387.78M385.98 200.57H387.78" stroke="#3cb4a6" stroke-width="0.6" fill="none"/>
<circle cx="386.88" cy="198.35" r="0.85" fill="#2ea89a"/>
<path d="M387.08 193.46V197.1M386.18 193.46H387.98M386.18 197.1H387.98" stroke="#3cb4a6" stroke-width="0.6" fill="none"/>
<circle cx="387.08" cy="195.28" r="0.85" fill="#2ea89a"/>
<path d="M387.28 195.02V198.11M386.38 195.02H388.18M386.38 198.11H388.18" stroke="#3cb4a6" stroke-width="0.6" fill="none"/>
<circle cx="387.28" cy="196.57" r="0.85" fill="#2ea89a"/>
<path d="M387.48 198.46V201.54M386.58 198.46H388.38M386.58 201.54H388.38" stroke="#3cb4a6" stroke-width="0.6" fill="none"/>
<circle cx="387.48" cy="200" r="0.85" fill="#2ea89a"/>
<path d="M387.67 194.45V198.42M386.77 194.45H388.57M386.77 198.42H388.57" stroke="#3cb4a6" stroke-width="0.6" fill="none"/>
<circle cx="387.67" cy="196.44" r="0.85" fill="#2ea89a"/>
<path d="M387.87 191.24V194.32M386.97 191.24H388.77M386.97 194.32H388.77" stroke="#3cb4a6" stroke-width="0.6" fill="none"/>
<circle cx="387.87" cy="192.78" r="0.85" fill="#2ea89a"/>
<path d="M388.07 194.88V196.76M387.17 194.88H388.97M387.17 196.76H388.97" stroke="#3cb4a6" stroke-width="0.6" fill="none"/>
<circle cx="388.07" cy="195.82" r="0.85" fill="#2ea89a"/>
<path d="M388.27 192.94V196.5M387.37 192.94H389.17M387.37 196.5H389.17" stroke="#3cb4a6" stroke-width="0.6" fill="none"/>
<circle cx="388.27" cy="194.72" r="0.85" fill="#2ea89a"/>
<path d="M388.46 191.18V194.98M387.56 191.18H389.36M387.56 194.98H389.36" stroke="#3cb4a6" stroke-width="0.6" fill="none"/>
<circle cx="388.46" cy="193.08" r="0.85" fill="#2ea89a"/>
<path d="M388.66 196.2V198.52M387.76 196.2H389.56M387.76 198.52H389.56" stroke="#3cb4a6" stroke-width="0.6" fill="none"/>
<circle cx="388.66" cy="197.36" r="0.85" fill="#2ea89a"/>
<path d="M388.86 192.12V195.86M387.96 192.12H389.76M387.96 195.86H389.76" stroke="#3cb4a6" stroke-width="0.6" fill="none"/>
<circle cx="388.86" cy="193.99" r="0.85" fill="#2ea89a"/>
<path d="M389.05 196.97V198.82M388.15 196.97H389.95M388.15 198.82H389.95" stroke="#3cb4a6" stroke-width="0.6" fill="none"/>
<circle cx="389.05" cy="197.89" r="0.85" fill="#2ea89a"/>
<path d="M389.25 198.56V200.9M388.35 198.56H390.15M388.35 200.9H390.15" stroke="#3cb4a6" stroke-width="0.6" fill="none"/>
<circle cx="389.25" cy="199.73" r="0.85" fill="#2ea89a"/>
<path d="M389.45 199.39V201.31M388.55 199.39H390.35M388.55 201.31H390.35" stroke="#3cb4a6" stroke-width="0.6" fill="none"/>
<circle cx="389.45" cy="200.35" r="0.85" fill="#2ea89a"/>
<path d="M389.65 194.34V199.08M388.75 194.34H390.55M388.75 199.08H390.55" stroke="#3cb4a6" stroke-width="0.6" fill="none"/>
<circle cx="389.65" cy="196.71" r="0.85" fill="#2ea89a"/>
<path d="M389.84 196.26V198.63M388.94 196.26H390.74M388.94 198.63H390.74" stroke="#3cb4a6" stroke-width="0.6" fill="none"/>
<circle cx="389.84" cy="197.44" r="0.85" fill="#2ea89a"/>
<path d="M390.04 196.7V199.91M389.14 196.7H390.94M389.14 199.91H390.94" stroke="#3cb4a6" stroke-width="0.6" fill="none"/>
<circle cx="390.04" cy="198.3" r="0.85" fill="#2ea89a"/>
<path d="M390.24 187.88V190.8M389.34 187.88H391.14M389.34 190.8H391.14" stroke="#3cb4a6" stroke-width="0.6" fill="none"/>
<circle cx="390.24" cy="189.34" r="0.85" fill="#2ea89a"/>
<path d="M390.44 196.43V200.48M389.54 196.43H391.34M389.54 200.48H391.34" stroke="#3cb4a6" stroke-width="0.6" fill="none"/>
<circle cx="390.44" cy="198.45" r="0.85" fill="#2ea89a"/>
<path d="M390.63 194.37V197.36M389.73 194.37H391.53M389.73 197.36H391.53" stroke="#3cb4a6" stroke-width="0.6" fill="none"/>
<circle cx="390.63" cy="195.86" r="0.85" fill="#2ea89a"/>
<path d="M390.83 190.83V196M389.93 190.83H391.73M389.93 196H391.73" stroke="#3cb4a6" stroke-width="0.6" fill="none"/>
<circle cx="390.83" cy="193.42" r="0.85" fill="#2ea89a"/>
<path d="M391.03 196.01V198.62M390.13 196.01H391.93M390.13 198.62H391.93" stroke="#3cb4a6" stroke-width="0.6" fill="none"/>
<circle cx="391.03" cy="197.31" r="0.85" fill="#2ea89a"/>
<path d="M391.22 192.69V197.64M390.32 192.69H392.12M390.32 197.64H392.12" stroke="#3cb4a6" stroke-width="0.6" fill="none"/>
<circle cx="391.22" cy="195.16" r="0.85" fill="#2ea89a"/>
<path d="M391.42 197.49V199.81M390.52 197.49H392.32M390.52 199.81H392.32" stroke="#3cb4a6" stroke-width="0.6" fill="none"/>
<circle cx="391.42" cy="198.65" r="0.85" fill="#2ea89a"/>
<path d="M391.62 197.27V199.3M390.72 197.27H392.52M390.72 199.3H392.52" stroke="#3cb4a6" stroke-width="0.6" fill="none"/>
<circle cx="391.62" cy="198.28" r="0.85" fill="#2ea89a"/>
<path d="M391.82 193.02V196.92M390.92 193.02H392.72M390.92 196.92H392.72" stroke="#3cb4a6" stroke-width="0.6" fill="none"/>
<circle cx="391.82" cy="194.97" r="0.85" fill="#2ea89a"/>
<path d="M392.01 194.6V198.92M391.11 194.6H392.91M391.11 198.92H392.91" stroke="#3cb4a6" stroke-width="0.6" fill="none"/>
<circle cx="392.01" cy="196.76" r="0.85" fill="#2ea89a"/>
<path d="M392.21 192.04V194.56M391.31 192.04H393.11M391.31 194.56H393.11" stroke="#3cb4a6" stroke-width="0.6" fill="none"/>
<circle cx="392.21" cy="193.3" r="0.85" fill="#2ea89a"/>
<path d="M392.41 196.73V200.59M391.51 196.73H393.31M391.51 200.59H393.31" stroke="#3cb4a6" stroke-width="0.6" fill="none"/>
<circle cx="392.41" cy="198.66" r="0.85" fill="#2ea89a"/>
<path d="M392.61 192.73V195.39M391.71 192.73H393.51M391.71 195.39H393.51" stroke="#3cb4a6" stroke-width="0.6" fill="none"/>
<circle cx="392.61" cy="194.06" r="0.85" fill="#2ea89a"/>
<path d="M392.8 193.64V195.95M391.9 193.64H393.7M391.9 195.95H393.7" stroke="#3cb4a6" stroke-width="0.6" fill="none"/>
<circle cx="392.8" cy="194.8" r="0.85" fill="#2ea89a"/>
<path d="M393 190.93V194.04M392.1 190.93H393.9M392.1 194.04H393.9" stroke="#3cb4a6" stroke-width="0.6" fill="none"/>
<circle cx="393" cy="192.49" r="0.85" fill="#2ea89a"/>
<path d="M393.2 193.29V195.98M392.3 193.29H394.1M392.3 195.98H394.1" stroke="#3cb4a6" stroke-width="0.6" fill="none"/>
<circle cx="393.2" cy="194.63" r="0.85" fill="#2ea89a"/>
<path d="M393.39 192.5V196.83M392.49 192.5H394.29M392.49 196.83H394.29" stroke="#3cb4a6" stroke-width="0.6" fill="none"/>
<circle cx="393.39" cy="194.66" r="0.85" fill="#2ea89a"/>
<path d="M393.59 196.24V201.22M392.69 196.24H394.49M392.69 201.22H394.49" stroke="#3cb4a6" stroke-width="0.6" fill="none"/>
<circle cx="393.59" cy="198.73" r="0.85" fill="#2ea89a"/>
<path d="M393.79 193.88V198.59M392.89 193.88H394.69M392.89 198.59H394.69" stroke="#3cb4a6" stroke-width="0.6" fill="none"/>
<circle cx="393.79" cy="196.23" r="0.85" fill="#2ea89a"/>
<path d="M393.99 197.6V199.94M393.09 197.6H394.89M393.09 199.94H394.89" stroke="#3cb4a6" stroke-width="0.6" fill="none"/>
<circle cx="393.99" cy="198.77" r="0.85" fill="#2ea89a"/>
<path d="M394.18 193.99V197.25M393.28 193.99H395.08M393.28 197.25H395.08" stroke="#3cb4a6" stroke-width="0.6" fill="none"/>
<circle cx="394.18" cy="195.62" r="0.85" fill="#2ea89a"/>
<path d="M394.38 190.73V195.31M393.48 190.73H395.28M393.48 195.31H395.28" stroke="#3cb4a6" stroke-width="0.6" fill="none"/>
<circle cx="394.38" cy="193.02" r="0.85" fill="#2ea89a"/>
<path d="M394.58 192.3V196.69M393.68 192.3H395.48M393.68 196.69H395.48" stroke="#3cb4a6" stroke-width="0.6" fill="none"/>
<circle cx="394.58" cy="194.49" r="0.85" fill="#2ea89a"/>
<path d="M394.78 195.77V199.63M393.88 195.77H395.68M393.88 199.63H395.68" stroke="#3cb4a6" stroke-width="0.6" fill="none"/>
<circle cx="394.78" cy="197.7" r="0.85" fill="#2ea89a"/>
<path d="M394.97 204.07V206.15M394.07 204.07H395.87M394.07 206.15H395.87" stroke="#3cb4a6" stroke-width="0.6" fill="none"/>
<circle cx="394.97" cy="205.11" r="0.85" fill="#2ea89a"/>
<path d="M395.17 198.68V202.57M394.27 198.68H396.07M394.27 202.57H396.07" stroke="#3cb4a6" stroke-width="0.6" fill="none"/>
<circle cx="395.17" cy="200.63" r="0.85" fill="#2ea89a"/>
<path d="M395.37 193.3V196.64M394.47 193.3H396.27M394.47 196.64H396.27" stroke="#3cb4a6" stroke-width="0.6" fill="none"/>
<circle cx="395.37" cy="194.97" r="0.85" fill="#2ea89a"/>
<path d="M395.56 195.78V197.82M394.66 195.78H396.46M394.66 197.82H396.46" stroke="#3cb4a6" stroke-width="0.6" fill="none"/>
<circle cx="395.56" cy="196.8" r="0.85" fill="#2ea89a"/>
<path d="M395.76 199.17V201.89M394.86 199.17H396.66M394.86 201.89H396.66" stroke="#3cb4a6" stroke-width="0.6" fill="none"/>
<circle cx="395.76" cy="200.53" r="0.85" fill="#2ea89a"/>
<path d="M395.96 201.09V203.74M395.06 201.09H396.86M395.06 203.74H396.86" stroke="#3cb4a6" stroke-width="0.6" fill="none"/>
<circle cx="395.96" cy="202.42" r="0.85" fill="#2ea89a"/>
<path d="M396.16 193.6V198.61M395.26 193.6H397.06M395.26 198.61H397.06" stroke="#3cb4a6" stroke-width="0.6" fill="none"/>
<circle cx="396.16" cy="196.11" r="0.85" fill="#2ea89a"/>
<path d="M396.35 194.79V198.4M395.45 194.79H397.25M395.45 198.4H397.25" stroke="#3cb4a6" stroke-width="0.6" fill="none"/>
<circle cx="396.35" cy="196.6" r="0.85" fill="#2ea89a"/>
<path d="M396.55 200.52V202.6M395.65 200.52H397.45M395.65 202.6H397.45" stroke="#3cb4a6" stroke-width="0.6" fill="none"/>
<circle cx="396.55" cy="201.56" r="0.85" fill="#2ea89a"/>
<path d="M396.75 193.4V198.36M395.85 193.4H397.65M395.85 198.36H397.65" stroke="#3cb4a6" stroke-width="0.6" fill="none"/>
<circle cx="396.75" cy="195.88" r="0.85" fill="#2ea89a"/>
<path d="M396.95 195.33V199.07M396.05 195.33H397.85M396.05 199.07H397.85" stroke="#3cb4a6" stroke-width="0.6" fill="none"/>
<circle cx="396.95" cy="197.2" r="0.85" fill="#2ea89a"/>
<path d="M397.14 193.79V197.9M396.24 193.79H398.04M396.24 197.9H398.04" stroke="#3cb4a6" stroke-width="0.6" fill="none"/>
<circle cx="397.14" cy="195.84" r="0.85" fill="#2ea89a"/>
<path d="M397.34 193.31V197.81M396.44 193.31H398.24M396.44 197.81H398.24" stroke="#3cb4a6" stroke-width="0.6" fill="none"/>
<circle cx="397.34" cy="195.56" r="0.85" fill="#2ea89a"/>
<path d="M397.54 195.62V198.88M396.64 195.62H398.44M396.64 198.88H398.44" stroke="#3cb4a6" stroke-width="0.6" fill="none"/>
<circle cx="397.54" cy="197.25" r="0.85" fill="#2ea89a"/>
<path d="M397.73 189.28V191.39M396.83 189.28H398.63M396.83 191.39H398.63" stroke="#3cb4a6" stroke-width="0.6" fill="none"/>
<circle cx="397.73" cy="190.33" r="0.85" fill="#2ea89a"/>
<path d="M397.93 195.86V200.45M397.03 195.86H398.83M397.03 200.45H398.83" stroke="#3cb4a6" stroke-width="0.6" fill="none"/>
<circle cx="397.93" cy="198.15" r="0.85" fill="#2ea89a"/>
<path d="M398.13 192.37V197.32M397.23 192.37H399.03M397.23 197.32H399.03" stroke="#3cb4a6" stroke-width="0.6" fill="none"/>
<circle cx="398.13" cy="194.84" r="0.85" fill="#2ea89a"/>
<path d="M398.33 188.35V193.7M397.43 188.35H399.23M397.43 193.7H399.23" stroke="#3cb4a6" stroke-width="0.6" fill="none"/>
<circle cx="398.33" cy="191.02" r="0.85" fill="#2ea89a"/>
<path d="M398.52 192.83V195.81M397.62 192.83H399.42M397.62 195.81H399.42" stroke="#3cb4a6" stroke-width="0.6" fill="none"/>
<circle cx="398.52" cy="194.32" r="0.85" fill="#2ea89a"/>
<path d="M398.72 194.63V196.99M397.82 194.63H399.62M397.82 196.99H399.62" stroke="#3cb4a6" stroke-width="0.6" fill="none"/>
<circle cx="398.72" cy="195.81" r="0.85" fill="#2ea89a"/>
<path d="M398.92 192.37V197.1M398.02 192.37H399.82M398.02 197.1H399.82" stroke="#3cb4a6" stroke-width="0.6" fill="none"/>
<circle cx="398.92" cy="194.74" r="0.85" fill="#2ea89a"/>
<path d="M399.12 192.38V196.12M398.22 192.38H400.02M398.22 196.12H400.02" stroke="#3cb4a6" stroke-width="0.6" fill="none"/>
<circle cx="399.12" cy="194.25" r="0.85" fill="#2ea89a"/>
<path d="M399.31 196.64V200.61M398.41 196.64H400.21M398.41 200.61H400.21" stroke="#3cb4a6" stroke-width="0.6" fill="none"/>
<circle cx="399.31" cy="198.63" r="0.85" fill="#2ea89a"/>
<path d="M399.51 195.65V200.12M398.61 195.65H400.41M398.61 200.12H400.41" stroke="#3cb4a6" stroke-width="0.6" fill="none"/>
<circle cx="399.51" cy="197.89" r="0.85" fill="#2ea89a"/>
<path d="M399.71 194.51V199.11M398.81 194.51H400.61M398.81 199.11H400.61" stroke="#3cb4a6" stroke-width="0.6" fill="none"/>
<circle cx="399.71" cy="196.81" r="0.85" fill="#2ea89a"/>
<path d="M399.9 191.52V196.11M399 191.52H400.8M399 196.11H400.8" stroke="#3cb4a6" stroke-width="0.6" fill="none"/>
<circle cx="399.9" cy="193.82" r="0.85" fill="#2ea89a"/>
<path d="M400.1 192.86V196.54M399.2 192.86H401M399.2 196.54H401" stroke="#3cb4a6" stroke-width="0.6" fill="none"/>
<circle cx="400.1" cy="194.7" r="0.85" fill="#2ea89a"/>
<path d="M400.3 195.81V198.09M399.4 195.81H401.2M399.4 198.09H401.2" stroke="#3cb4a6" stroke-width="0.6" fill="none"/>
<circle cx="400.3" cy="196.95" r="0.85" fill="#2ea89a"/>
<path d="M400.5 192.32V196.91M399.6 192.32H401.4M399.6 196.91H401.4" stroke="#3cb4a6" stroke-width="0.6" fill="none"/>
<circle cx="400.5" cy="194.61" r="0.85" fill="#2ea89a"/>
<path d="M400.69 193.87V199.23M399.79 193.87H401.59M399.79 199.23H401.59" stroke="#3cb4a6" stroke-width="0.6" fill="none"/>
<circle cx="400.69" cy="196.55" r="0.85" fill="#2ea89a"/>
<path d="M400.89 195.3V197.2M399.99 195.3H401.79M399.99 197.2H401.79" stroke="#3cb4a6" stroke-width="0.6" fill="none"/>
<circle cx="400.89" cy="196.25" r="0.85" fill="#2ea89a"/>
<path d="M401.09 192.64V194.66M400.19 192.64H401.99M400.19 194.66H401.99" stroke="#3cb4a6" stroke-width="0.6" fill="none"/>
<circle cx="401.09" cy="193.65" r="0.85" fill="#2ea89a"/>
<path d="M401.29 196.38V201.57M400.39 196.38H402.19M400.39 201.57H402.19" stroke="#3cb4a6" stroke-width="0.6" fill="none"/>
<circle cx="401.29" cy="198.98" r="0.85" fill="#2ea89a"/>
<path d="M401.48 195.53V197.86M400.58 195.53H402.38M400.58 197.86H402.38" stroke="#3cb4a6" stroke-width="0.6" fill="none"/>
<circle cx="401.48" cy="196.7" r="0.85" fill="#2ea89a"/>
<path d="M401.68 194.17V196.56M400.78 194.17H402.58M400.78 196.56H402.58" stroke="#3cb4a6" stroke-width="0.6" fill="none"/>
<circle cx="401.68" cy="195.36" r="0.85" fill="#2ea89a"/>
<path d="M401.88 196.68V201.57M400.98 196.68H402.78M400.98 201.57H402.78" stroke="#3cb4a6" stroke-width="0.6" fill="none"/>
<circle cx="401.88" cy="199.13" r="0.85" fill="#2ea89a"/>
<path d="M402.07 194.15V197.35M401.17 194.15H402.97M401.17 197.35H402.97" stroke="#3cb4a6" stroke-width="0.6" fill="none"/>
<circle cx="402.07" cy="195.75" r="0.85" fill="#2ea89a"/>
<path d="M402.27 190.46V195.1M401.37 190.46H403.17M401.37 195.1H403.17" stroke="#3cb4a6" stroke-width="0.6" fill="none"/>
<circle cx="402.27" cy="192.78" r="0.85" fill="#2ea89a"/>
<path d="M402.47 186.13V189.19M401.57 186.13H403.37M401.57 189.19H403.37" stroke="#3cb4a6" stroke-width="0.6" fill="none"/>
<circle cx="402.47" cy="187.66" r="0.85" fill="#2ea89a"/>
<path d="M402.67 194.65V197.8M401.77 194.65H403.57M401.77 197.8H403.57" stroke="#3cb4a6" stroke-width="0.6" fill="none"/>
<circle cx="402.67" cy="196.23" r="0.85" fill="#2ea89a"/>
<path d="M402.86 192.75V197.65M401.96 192.75H403.76M401.96 197.65H403.76" stroke="#3cb4a6" stroke-width="0.6" fill="none"/>
<circle cx="402.86" cy="195.2" r="0.85" fill="#2ea89a"/>
<path d="M403.06 200.1V203.46M402.16 200.1H403.96M402.16 203.46H403.96" stroke="#3cb4a6" stroke-width="0.6" fill="none"/>
<circle cx="403.06" cy="201.78" r="0.85" fill="#2ea89a"/>
<path d="M403.26 194.47V198.58M402.36 194.47H404.16M402.36 198.58H404.16" stroke="#3cb4a6" stroke-width="0.6" fill="none"/>
<circle cx="403.26" cy="196.53" r="0.85" fill="#2ea89a"/>
<path d="M403.46 192.77V198.15M402.56 192.77H404.36M402.56 198.15H404.36" stroke="#3cb4a6" stroke-width="0.6" fill="none"/>
<circle cx="403.46" cy="195.46" r="0.85" fill="#2ea89a"/>
<path d="M403.65 193.73V198.63M402.75 193.73H404.55M402.75 198.63H404.55" stroke="#3cb4a6" stroke-width="0.6" fill="none"/>
<circle cx="403.65" cy="196.18" r="0.85" fill="#2ea89a"/>
<path d="M403.85 192.99V195.75M402.95 192.99H404.75M402.95 195.75H404.75" stroke="#3cb4a6" stroke-width="0.6" fill="none"/>
<circle cx="403.85" cy="194.37" r="0.85" fill="#2ea89a"/>
<path d="M404.05 195.14V198.13M403.15 195.14H404.95M403.15 198.13H404.95" stroke="#3cb4a6" stroke-width="0.6" fill="none"/>
<circle cx="404.05" cy="196.64" r="0.85" fill="#2ea89a"/>
<path d="M404.24 197.54V202.54M403.34 197.54H405.14M403.34 202.54H405.14" stroke="#3cb4a6" stroke-width="0.6" fill="none"/>
<circle cx="404.24" cy="200.04" r="0.85" fill="#2ea89a"/>
<path d="M404.44 193.51V196.94M403.54 193.51H405.34M403.54 196.94H405.34" stroke="#3cb4a6" stroke-width="0.6" fill="none"/>
<circle cx="404.44" cy="195.22" r="0.85" fill="#2ea89a"/>
<path d="M404.64 191.85V196.82M403.74 191.85H405.54M403.74 196.82H405.54" stroke="#3cb4a6" stroke-width="0.6" fill="none"/>
<circle cx="404.64" cy="194.34" r="0.85" fill="#2ea89a"/>
<path d="M404.84 193.43V198.03M403.94 193.43H405.74M403.94 198.03H405.74" stroke="#3cb4a6" stroke-width="0.6" fill="none"/>
<circle cx="404.84" cy="195.73" r="0.85" fill="#2ea89a"/>
<path d="M405.03 191.8V194.26M404.13 191.8H405.93M404.13 194.26H405.93" stroke="#3cb4a6" stroke-width="0.6" fill="none"/>
<circle cx="405.03" cy="193.03" r="0.85" fill="#2ea89a"/>
<path d="M405.23 191.87V193.75M404.33 191.87H406.13M404.33 193.75H406.13" stroke="#3cb4a6" stroke-width="0.6" fill="none"/>
<circle cx="405.23" cy="192.81" r="0.85" fill="#2ea89a"/>
<path d="M405.43 198.45V203.76M404.53 198.45H406.33M404.53 203.76H406.33" stroke="#3cb4a6" stroke-width="0.6" fill="none"/>
<circle cx="405.43" cy="201.1" r="0.85" fill="#2ea89a"/>
<path d="M405.63 190.46V194.91M404.73 190.46H406.53M404.73 194.91H406.53" stroke="#3cb4a6" stroke-width="0.6" fill="none"/>
<circle cx="405.63" cy="192.68" r="0.85" fill="#2ea89a"/>
<path d="M405.82 195.23V197.64M404.92 195.23H406.72M404.92 197.64H406.72" stroke="#3cb4a6" stroke-width="0.6" fill="none"/>
<circle cx="405.82" cy="196.43" r="0.85" fill="#2ea89a"/>
<path d="M406.02 194.44V199.55M405.12 194.44H406.92M405.12 199.55H406.92" stroke="#3cb4a6" stroke-width="0.6" fill="none"/>
<circle cx="406.02" cy="196.99" r="0.85" fill="#2ea89a"/>
<path d="M406.22 194.9V199.88M405.32 194.9H407.12M405.32 199.88H407.12" stroke="#3cb4a6" stroke-width="0.6" fill="none"/>
<circle cx="406.22" cy="197.39" r="0.85" fill="#2ea89a"/>
<path d="M406.41 193.88V198.53M405.51 193.88H407.31M405.51 198.53H407.31" stroke="#3cb4a6" stroke-width="0.6" fill="none"/>
<circle cx="406.41" cy="196.2" r="0.85" fill="#2ea89a"/>
<path d="M406.61 195.76V197.7M405.71 195.76H407.51M405.71 197.7H407.51" stroke="#3cb4a6" stroke-width="0.6" fill="none"/>
<circle cx="406.61" cy="196.73" r="0.85" fill="#2ea89a"/>
<path d="M406.81 196.89V199.07M405.91 196.89H407.71M405.91 199.07H407.71" stroke="#3cb4a6" stroke-width="0.6" fill="none"/>
<circle cx="406.81" cy="197.98" r="0.85" fill="#2ea89a"/>
<path d="M407.01 192.54V194.74M406.11 192.54H407.91M406.11 194.74H407.91" stroke="#3cb4a6" stroke-width="0.6" fill="none"/>
<circle cx="407.01" cy="193.64" r="0.85" fill="#2ea89a"/>
<path d="M407.2 191.13V192.93M406.3 191.13H408.1M406.3 192.93H408.1" stroke="#3cb4a6" stroke-width="0.6" fill="none"/>
<circle cx="407.2" cy="192.03" r="0.85" fill="#2ea89a"/>
<path d="M407.4 196.08V199.82M406.5 196.08H408.3M406.5 199.82H408.3" stroke="#3cb4a6" stroke-width="0.6" fill="none"/>
<circle cx="407.4" cy="197.95" r="0.85" fill="#2ea89a"/>
<path d="M407.6 196.34V200.05M406.7 196.34H408.5M406.7 200.05H408.5" stroke="#3cb4a6" stroke-width="0.6" fill="none"/>
<circle cx="407.6" cy="198.19" r="0.85" fill="#2ea89a"/>
<path d="M407.8 195.74V200.98M406.9 195.74H408.7M406.9 200.98H408.7" stroke="#3cb4a6" stroke-width="0.6" fill="none"/>
<circle cx="407.8" cy="198.36" r="0.85" fill="#2ea89a"/>
<path d="M407.99 189.77V195.07M407.09 189.77H408.89M407.09 195.07H408.89" stroke="#3cb4a6" stroke-width="0.6" fill="none"/>
<circle cx="407.99" cy="192.42" r="0.85" fill="#2ea89a"/>
<path d="M408.19 193.39V195.45M407.29 193.39H409.09M407.29 195.45H409.09" stroke="#3cb4a6" stroke-width="0.6" fill="none"/>
<circle cx="408.19" cy="194.42" r="0.85" fill="#2ea89a"/>
<path d="M408.39 194.12V199.4M407.49 194.12H409.29M407.49 199.4H409.29" stroke="#3cb4a6" stroke-width="0.6" fill="none"/>
<circle cx="408.39" cy="196.76" r="0.85" fill="#2ea89a"/>
<path d="M408.58 195.99V197.96M407.68 195.99H409.48M407.68 197.96H409.48" stroke="#3cb4a6" stroke-width="0.6" fill="none"/>
<circle cx="408.58" cy="196.97" r="0.85" fill="#2ea89a"/>
<path d="M408.78 194.09V197.06M407.88 194.09H409.68M407.88 197.06H409.68" stroke="#3cb4a6" stroke-width="0.6" fill="none"/>
<circle cx="408.78" cy="195.57" r="0.85" fill="#2ea89a"/>
<path d="M408.98 193.43V197.21M408.08 193.43H409.88M408.08 197.21H409.88" stroke="#3cb4a6" stroke-width="0.6" fill="none"/>
<circle cx="408.98" cy="195.32" r="0.85" fill="#2ea89a"/>
<path d="M409.18 196.36V200.75M408.28 196.36H410.08M408.28 200.75H410.08" stroke="#3cb4a6" stroke-width="0.6" fill="none"/>
<circle cx="409.18" cy="198.56" r="0.85" fill="#2ea89a"/>
<path d="M409.37 199.99V202.93M408.47 199.99H410.27M408.47 202.93H410.27" stroke="#3cb4a6" stroke-width="0.6" fill="none"/>
<circle cx="409.37" cy="201.46" r="0.85" fill="#2ea89a"/>
<path d="M409.57 199.33V202.52M408.67 199.33H410.47M408.67 202.52H410.47" stroke="#3cb4a6" stroke-width="0.6" fill="none"/>
<circle cx="409.57" cy="200.92" r="0.85" fill="#2ea89a"/>
<path d="M409.77 193.14V195.46M408.87 193.14H410.67M408.87 195.46H410.67" stroke="#3cb4a6" stroke-width="0.6" fill="none"/>
<circle cx="409.77" cy="194.3" r="0.85" fill="#2ea89a"/>
<path d="M409.97 193.92V199.05M409.07 193.92H410.87M409.07 199.05H410.87" stroke="#3cb4a6" stroke-width="0.6" fill="none"/>
<circle cx="409.97" cy="196.48" r="0.85" fill="#2ea89a"/>
<path d="M410.16 194.67V198.67M409.26 194.67H411.06M409.26 198.67H411.06" stroke="#3cb4a6" stroke-width="0.6" fill="none"/>
<circle cx="410.16" cy="196.67" r="0.85" fill="#2ea89a"/>
<path d="M410.36 196.52V198.74M409.46 196.52H411.26M409.46 198.74H411.26" stroke="#3cb4a6" stroke-width="0.6" fill="none"/>
<circle cx="410.36" cy="197.63" r="0.85" fill="#2ea89a"/>
<path d="M410.56 193.42V198.04M409.66 193.42H411.46M409.66 198.04H411.46" stroke="#3cb4a6" stroke-width="0.6" fill="none"/>
<circle cx="410.56" cy="195.73" r="0.85" fill="#2ea89a"/>
<path d="M410.75 194.7V197.67M409.85 194.7H411.65M409.85 197.67H411.65" stroke="#3cb4a6" stroke-width="0.6" fill="none"/>
<circle cx="410.75" cy="196.18" r="0.85" fill="#2ea89a"/>
<path d="M410.95 195.09V198.87M410.05 195.09H411.85M410.05 198.87H411.85" stroke="#3cb4a6" stroke-width="0.6" fill="none"/>
<circle cx="410.95" cy="196.98" r="0.85" fill="#2ea89a"/>
<path d="M411.15 191.15V195.08M410.25 191.15H412.05M410.25 195.08H412.05" stroke="#3cb4a6" stroke-width="0.6" fill="none"/>
<circle cx="411.15" cy="193.12" r="0.85" fill="#2ea89a"/>
<path d="M411.35 190.92V193.56M410.45 190.92H412.25M410.45 193.56H412.25" stroke="#3cb4a6" stroke-width="0.6" fill="none"/>
<circle cx="411.35" cy="192.24" r="0.85" fill="#2ea89a"/>
<path d="M411.54 196.54V200.9M410.64 196.54H412.44M410.64 200.9H412.44" stroke="#3cb4a6" stroke-width="0.6" fill="none"/>
<circle cx="411.54" cy="198.72" r="0.85" fill="#2ea89a"/>
<path d="M411.74 196.99V200.69M410.84 196.99H412.64M410.84 200.69H412.64" stroke="#3cb4a6" stroke-width="0.6" fill="none"/>
<circle cx="411.74" cy="198.84" r="0.85" fill="#2ea89a"/>
<path d="M411.94 196.71V200.77M411.04 196.71H412.84M411.04 200.77H412.84" stroke="#3cb4a6" stroke-width="0.6" fill="none"/>
<circle cx="411.94" cy="198.74" r="0.85" fill="#2ea89a"/>
<path d="M412.14 197.14V199.74M411.24 197.14H413.04M411.24 199.74H413.04" stroke="#3cb4a6" stroke-width="0.6" fill="none"/>
<circle cx="412.14" cy="198.44" r="0.85" fill="#2ea89a"/>
<path d="M412.33 196V199.5M411.43 196H413.23M411.43 199.5H413.23" stroke="#3cb4a6" stroke-width="0.6" fill="none"/>
<circle cx="412.33" cy="197.75" r="0.85" fill="#2ea89a"/>
<path d="M412.53 195.75V199.43M411.63 195.75H413.43M411.63 199.43H413.43" stroke="#3cb4a6" stroke-width="0.6" fill="none"/>
<circle cx="412.53" cy="197.59" r="0.85" fill="#2ea89a"/>
<path d="M412.73 195.37V200.51M411.83 195.37H413.63M411.83 200.51H413.63" stroke="#3cb4a6" stroke-width="0.6" fill="none"/>
<circle cx="412.73" cy="197.94" r="0.85" fill="#2ea89a"/>
<path d="M412.92 194.64V198.32M412.02 194.64H413.82M412.02 198.32H413.82" stroke="#3cb4a6" stroke-width="0.6" fill="none"/>
<circle cx="412.92" cy="196.48" r="0.85" fill="#2ea89a"/>
<path d="M413.12 198.73V201.15M412.22 198.73H414.02M412.22 201.15H414.02" stroke="#3cb4a6" stroke-width="0.6" fill="none"/>
<circle cx="413.12" cy="199.94" r="0.85" fill="#2ea89a"/>
<path d="M413.32 195.51V198.97M412.42 195.51H414.22M412.42 198.97H414.22" stroke="#3cb4a6" stroke-width="0.6" fill="none"/>
<circle cx="413.32" cy="197.24" r="0.85" fill="#2ea89a"/>
<path d="M413.52 196.36V201.29M412.62 196.36H414.42M412.62 201.29H414.42" stroke="#3cb4a6" stroke-width="0.6" fill="none"/>
<circle cx="413.52" cy="198.83" r="0.85" fill="#2ea89a"/>
<path d="M413.71 192.15V197.06M412.81 192.15H414.61M412.81 197.06H414.61" stroke="#3cb4a6" stroke-width="0.6" fill="none"/>
<circle cx="413.71" cy="194.61" r="0.85" fill="#2ea89a"/>
<path d="M413.91 196.77V199.92M413.01 196.77H414.81M413.01 199.92H414.81" stroke="#3cb4a6" stroke-width="0.6" fill="none"/>
<circle cx="413.91" cy="198.34" r="0.85" fill="#2ea89a"/>
<path d="M414.11 193.76V197.95M413.21 193.76H415.01M413.21 197.95H415.01" stroke="#3cb4a6" stroke-width="0.6" fill="none"/>
<circle cx="414.11" cy="195.86" r="0.85" fill="#2ea89a"/>
<path d="M414.31 196.8V199.59M413.41 196.8H415.21M413.41 199.59H415.21" stroke="#3cb4a6" stroke-width="0.6" fill="none"/>
<circle cx="414.31" cy="198.19" r="0.85" fill="#2ea89a"/>
<path d="M414.5 195.18V198.59M413.6 195.18H415.4M413.6 198.59H415.4" stroke="#3cb4a6" stroke-width="0.6" fill="none"/>
<circle cx="414.5" cy="196.89" r="0.85" fill="#2ea89a"/>
<line x1="297.2" y1="165.14" x2="297.2" y2="210.44" stroke="#7fd2c8" stroke-width="0.8"/>
<path d="M296.73 166.73V172.61M295.83 166.73H297.63M295.83 172.61H297.63" stroke="#6ccac0" stroke-width="0.55" fill="none"/>
<circle cx="296.73" cy="169.67" r="0.8" fill="#4cbcb0"/>
<path d="M297.48 173.9V178.13M296.58 173.9H298.38M296.58 178.13H298.38" stroke="#6ccac0" stroke-width="0.55" fill="none"/>
<circle cx="297.48" cy="176.01" r="0.8" fill="#4cbcb0"/>
<path d="M297.22 180.54V184.16M296.32 180.54H298.12M296.32 184.16H298.12" stroke="#6ccac0" stroke-width="0.55" fill="none"/>
<circle cx="297.22" cy="182.35" r="0.8" fill="#4cbcb0"/>
<path d="M296.75 184.2V189.56M295.85 184.2H297.65M295.85 189.56H297.65" stroke="#6ccac0" stroke-width="0.55" fill="none"/>
<circle cx="296.75" cy="186.88" r="0.8" fill="#4cbcb0"/>
<path d="M297.39 187.59V193.43M296.49 187.59H298.29M296.49 193.43H298.29" stroke="#6ccac0" stroke-width="0.55" fill="none"/>
<circle cx="297.39" cy="190.51" r="0.8" fill="#4cbcb0"/>
<path d="M297.23 198.14V204.62M296.33 198.14H298.13M296.33 204.62H298.13" stroke="#6ccac0" stroke-width="0.55" fill="none"/>
<circle cx="297.23" cy="201.38" r="0.8" fill="#4cbcb0"/>
<path d="M296.9 202.2V207.81M296 202.2H297.8M296 207.81H297.8" stroke="#6ccac0" stroke-width="0.55" fill="none"/>
<circle cx="296.9" cy="205" r="0.8" fill="#4cbcb0"/>
<path d="M296.59 206.36V210.9M295.69 206.36H297.49M295.69 210.9H297.49" stroke="#6ccac0" stroke-width="0.55" fill="none"/>
<circle cx="296.59" cy="208.63" r="0.8" fill="#4cbcb0"/>
<line x1="327.55" y1="151.5" x2="327.55" y2="196.85" stroke="#7fd4ca" stroke-width="0.9"/>
<path d="M328.37 186V191.56M327.47 186H329.27M327.47 191.56H329.27" stroke="#6ccac0" stroke-width="0.55" fill="none"/>
<path d="M331.35 187.24V191.8M330.45 187.24H332.25M330.45 191.8H332.25" stroke="#6ccac0" stroke-width="0.55" fill="none"/>
<path d="M326.99 182.92V188.3M326.09 182.92H327.89M326.09 188.3H327.89" stroke="#6ccac0" stroke-width="0.55" fill="none"/>
<path d="M323.81 187.84V194.89M322.91 187.84H324.71M322.91 194.89H324.71" stroke="#6ccac0" stroke-width="0.55" fill="none"/>
<path d="M325.64 178.45V185.36M324.74 178.45H326.54M324.74 185.36H326.54" stroke="#6ccac0" stroke-width="0.55" fill="none"/>
<path d="M329.53 185.9V189.65M328.63 185.9H330.43M328.63 189.65H330.43" stroke="#6ccac0" stroke-width="0.55" fill="none"/>
<path d="M329.85 176.59V181.74M328.95 176.59H330.75M328.95 181.74H330.75" stroke="#6ccac0" stroke-width="0.55" fill="none"/>
<path d="M328.53 187.27V191.73M327.63 187.27H329.43M327.63 191.73H329.43" stroke="#6ccac0" stroke-width="0.55" fill="none"/>
<path d="M330.73 188.44V194.26M329.83 188.44H331.63M329.83 194.26H331.63" stroke="#6ccac0" stroke-width="0.55" fill="none"/>
<path d="M331.9 178.04V183.72M331 178.04H332.8M331 183.72H332.8" stroke="#6ccac0" stroke-width="0.55" fill="none"/>
<line x1="327.55" y1="196.85" x2="327.55" y2="242.1" stroke="#2fae9e" stroke-width="2.4"/>
<circle cx="327.2" cy="204.1" r="1.3" fill="#3ab4a6"/>
<circle cx="327.31" cy="211.35" r="1.3" fill="#3ab4a6"/>
<circle cx="327.84" cy="217.69" r="1.3" fill="#3ab4a6"/>
<circle cx="327.21" cy="224.94" r="1.3" fill="#3ab4a6"/>
<circle cx="327.51" cy="229.47" r="1.3" fill="#3ab4a6"/>
<circle cx="327.46" cy="234.9" r="1.3" fill="#3ab4a6"/>
<circle cx="327.48" cy="240.34" r="1.3" fill="#3ab4a6"/>
<path d="M278.38 197.48 L278.53 197.48 L278.69 197.48 L278.84 197.48 L278.99 197.48 L279.14 197.48 L279.29 197.48 L279.45 197.48 L279.6 197.48 L279.75 197.48 L279.9 197.48 L280.05 197.48 L280.2 197.48 L280.36 197.48 L280.51 197.48 L280.66 197.48 L280.81 197.48 L280.96 197.48 L281.11 197.48 L281.27 197.48 L281.42 197.48 L281.57 197.48 L281.72 197.48 L281.87 197.48 L282.02 197.48 L282.18 197.48 L282.33 197.48 L282.48 197.48 L282.63 197.48 L282.78 197.48 L282.94 197.47 L283.09 197.47 L283.24 197.46 L283.39 197.44 L283.54 197.42 L283.69 197.4 L283.85 197.36 L284 197.31 L284.15 197.25 L284.3 197.16 L284.45 197.05 L284.6 196.92 L284.76 196.75 L284.91 196.55 L285.06 196.31 L285.21 196.03 L285.36 195.72 L285.52 195.37 L285.67 195 L285.82 194.6 L285.97 194.19 L286.12 193.78 L286.27 193.38 L286.43 193.01 L286.58 192.69 L286.73 192.42 L286.88 192.22 L287.03 192.09 L287.18 192.05 L287.34 192.09 L287.49 192.22 L287.64 192.42 L287.79 192.69 L287.94 193.01 L288.1 193.38 L288.25 193.78 L288.4 194.19 L288.55 194.6 L288.7 195 L288.85 195.37 L289.01 195.72 L289.16 196.03 L289.31 196.31 L289.46 196.55 L289.61 196.75 L289.76 196.92 L289.92 197.05 L290.07 197.16 L290.22 197.25 L290.37 197.31 L290.52 197.36 L290.67 197.4 L290.83 197.42 L290.98 197.44 L291.13 197.46 L291.28 197.47 L291.43 197.47 L291.59 197.48 L291.74 197.48 L291.89 197.48 L292.04 197.48 L292.19 197.48 L292.34 197.48 L292.5 197.48 L292.65 197.48 L292.8 197.48 L292.95 197.48 L293.1 197.48 L293.25 197.48 L293.41 197.48 L293.56 197.48 L293.71 197.48 L293.86 197.48 L294.01 197.48 L294.17 197.48 L294.32 197.48 L294.47 197.48 L294.62 197.48 L294.77 197.48 L294.92 197.48 L295.08 197.48 L295.23 197.48 L295.38 197.48 L295.53 197.48 L295.68 197.48 L295.83 197.48 L295.99 197.48 L296.14 197.48 L296.29 197.48 L296.44 197.48 L296.59 197.48 L296.74 197.48 L296.9 197.48 L297.05 197.48 L297.2 197.48 L297.35 197.48 L297.5 197.48 L297.66 197.48 L297.81 197.48 L297.96 197.48 L298.11 197.48 L298.26 197.48 L298.41 197.48 L298.57 197.48 L298.72 197.48 L298.87 197.48 L299.02 197.48 L299.17 197.48 L299.32 197.48 L299.48 197.48 L299.63 197.48 L299.78 197.48 L299.93 197.48 L300.08 197.48 L300.24 197.48 L300.39 197.48 L300.54 197.48 L300.69 197.48 L300.84 197.48 L300.99 197.48 L301.15 197.47 L301.3 197.47 L301.45 197.46 L301.6 197.44 L301.75 197.42 L301.9 197.4 L302.06 197.36 L302.21 197.31 L302.36 197.25 L302.51 197.16 L302.66 197.05 L302.81 196.92 L302.97 196.75 L303.12 196.55 L303.27 196.31 L303.42 196.03 L303.57 195.72 L303.73 195.37 L303.88 195 L304.03 194.6 L304.18 194.19 L304.33 193.78 L304.48 193.38 L304.64 193.01 L304.79 192.69 L304.94 192.42 L305.09 192.22 L305.24 192.09 L305.39 192.05 L305.55 192.09 L305.7 192.22 L305.85 192.42 L306 192.69 L306.15 193.01 L306.31 193.38 L306.46 193.78 L306.61 194.19 L306.76 194.6 L306.91 195 L307.06 195.37 L307.22 195.72 L307.37 196.03 L307.52 196.31 L307.67 196.55 L307.82 196.75 L307.97 196.92 L308.13 197.05 L308.28 197.16 L308.43 197.25 L308.58 197.31 L308.73 197.36 L308.88 197.4 L309.04 197.42 L309.19 197.44 L309.34 197.46 L309.49 197.47 L309.64 197.47 L309.8 197.48 L309.95 197.48 L310.1 197.48 L310.25 197.48 L310.4 197.48 L310.55 197.48 L310.71 197.48 L310.86 197.48 L311.01 197.48 L311.16 197.48 L311.31 197.48 L311.46 197.48 L311.62 197.48 L311.77 197.48 L311.92 197.48 L312.07 197.48 L312.22 197.48 L312.38 197.48 L312.53 197.48 L312.68 197.48 L312.83 197.48 L312.98 197.48 L313.13 197.48 L313.29 197.48 L313.44 197.48 L313.59 197.48 L313.74 197.48 L313.89 197.48 L314.04 197.48 L314.2 197.48 L314.35 197.48 L314.5 197.48 L314.65 197.48 L314.8 197.48 L314.95 197.48 L315.11 197.48 L315.26 197.48 L315.41 197.48 L315.56 197.48 L315.71 197.48 L315.87 197.48 L316.02 197.48 L316.17 197.48 L316.32 197.48 L316.47 197.48 L316.62 197.48 L316.78 197.48 L316.93 197.48 L317.08 197.48 L317.23 197.48 L317.38 197.48 L317.53 197.48 L317.69 197.48 L317.84 197.48 L317.99 197.48 L318.14 197.48 L318.29 197.48 L318.45 197.48 L318.6 197.48 L318.75 197.48 L318.9 197.48 L319.05 197.48 L319.2 197.48 L319.36 197.48 L319.51 197.48 L319.66 197.48 L319.81 197.48 L319.96 197.48 L320.11 197.48 L320.27 197.48 L320.42 197.48 L320.57 197.48 L320.72 197.48 L320.87 197.48 L321.02 197.48 L321.18 197.48 L321.33 197.48 L321.48 197.48 L321.63 197.48 L321.78 197.48 L321.94 197.48 L322.09 197.48 L322.24 197.48 L322.39 197.48 L322.54 197.48 L322.69 197.48 L322.85 197.48 L323 197.48 L323.15 197.48 L323.3 197.48 L323.45 197.48 L323.6 197.48 L323.76 197.48 L323.91 197.48 L324.06 197.48 L324.21 197.48 L324.36 197.48 L324.51 197.48 L324.67 197.48 L324.82 197.48 L324.97 197.48 L325.12 197.48 L325.27 197.48 L325.43 197.48 L325.58 197.48 L325.73 197.48 L325.88 197.48 L326.03 197.48 L326.18 197.48 L326.34 197.48 L326.49 197.48 L326.64 197.48 L326.79 197.48 L326.94 197.48 L327.09 197.48 L327.25 197.48 L327.4 197.48 L327.55 197.48 L327.7 197.48 L327.85 197.48 L328.01 197.48 L328.16 197.48 L328.31 197.48 L328.46 197.48 L328.61 197.48 L328.76 197.48 L328.92 197.48 L329.07 197.48 L329.22 197.48 L329.37 197.48 L329.52 197.48 L329.67 197.48 L329.83 197.48 L329.98 197.48 L330.13 197.48 L330.28 197.48 L330.43 197.48 L330.59 197.48 L330.74 197.48 L330.89 197.48 L331.04 197.48 L331.19 197.48 L331.34 197.48 L331.5 197.48 L331.65 197.48 L331.8 197.48 L331.95 197.48 L332.1 197.48 L332.25 197.48 L332.41 197.48 L332.56 197.48 L332.71 197.48 L332.86 197.48 L333.01 197.48 L333.16 197.48 L333.32 197.48 L333.47 197.48 L333.62 197.48 L333.77 197.48 L333.92 197.48 L334.08 197.48 L334.23 197.48 L334.38 197.48 L334.53 197.48 L334.68 197.48 L334.83 197.48 L334.99 197.48 L335.14 197.48 L335.29 197.48 L335.44 197.48 L335.59 197.48 L335.74 197.48 L335.9 197.48 L336.05 197.48 L336.2 197.48 L336.35 197.48 L336.5 197.48 L336.66 197.48 L336.81 197.48 L336.96 197.48 L337.11 197.48 L337.26 197.48 L337.41 197.48 L337.57 197.48 L337.72 197.48 L337.87 197.48 L338.02 197.48 L338.17 197.48 L338.32 197.48 L338.48 197.48 L338.63 197.48 L338.78 197.48 L338.93 197.48 L339.08 197.48 L339.23 197.48 L339.39 197.48 L339.54 197.48 L339.69 197.48 L339.84 197.48 L339.99 197.48 L340.15 197.48 L340.3 197.48 L340.45 197.48 L340.6 197.48 L340.75 197.48 L340.9 197.48 L341.06 197.48 L341.21 197.48 L341.36 197.48 L341.51 197.48 L341.66 197.48 L341.81 197.48 L341.97 197.48 L342.12 197.48 L342.27 197.48 L342.42 197.48 L342.57 197.48 L342.73 197.48 L342.88 197.48 L343.03 197.48 L343.18 197.48 L343.33 197.48 L343.48 197.48 L343.64 197.48 L343.79 197.48 L343.94 197.47 L344.09 197.47 L344.24 197.46 L344.39 197.44 L344.55 197.42 L344.7 197.4 L344.85 197.36 L345 197.31 L345.15 197.25 L345.3 197.16 L345.46 197.05 L345.61 196.92 L345.76 196.75 L345.91 196.55 L346.06 196.31 L346.22 196.03 L346.37 195.72 L346.52 195.37 L346.67 195 L346.82 194.6 L346.97 194.19 L347.13 193.78 L347.28 193.38 L347.43 193.01 L347.58 192.69 L347.73 192.42 L347.88 192.22 L348.04 192.09 L348.19 192.05 L348.34 192.09 L348.49 192.22 L348.64 192.42 L348.8 192.69 L348.95 193.01 L349.1 193.38 L349.25 193.78 L349.4 194.19 L349.55 194.6 L349.71 195 L349.86 195.37 L350.01 195.72 L350.16 196.03 L350.31 196.31 L350.46 196.55 L350.62 196.75 L350.77 196.92 L350.92 197.05 L351.07 197.16 L351.22 197.25 L351.37 197.31 L351.53 197.36 L351.68 197.4 L351.83 197.42 L351.98 197.44 L352.13 197.46 L352.29 197.47 L352.44 197.47 L352.59 197.48 L352.74 197.48 L352.89 197.48 L353.04 197.48 L353.2 197.48 L353.35 197.48 L353.5 197.48 L353.65 197.48 L353.8 197.48 L353.95 197.48 L354.11 197.48 L354.26 197.48 L354.41 197.48 L354.56 197.48 L354.71 197.48 L354.87 197.48 L355.02 197.48 L355.17 197.48 L355.32 197.48 L355.47 197.48 L355.62 197.48 L355.78 197.48 L355.93 197.48 L356.08 197.48 L356.23 197.48 L356.38 197.48 L356.53 197.48 L356.69 197.48 L356.84 197.48 L356.99 197.48 L357.14 197.48 L357.29 197.48 L357.44 197.48 L357.6 197.48 L357.75 197.48 L357.9 197.48 L358.05 197.48 L358.2 197.48 L358.36 197.48 L358.51 197.48 L358.66 197.48 L358.81 197.48 L358.96 197.48 L359.11 197.48 L359.27 197.48 L359.42 197.48 L359.57 197.48 L359.72 197.48 L359.87 197.48 L360.02 197.48 L360.18 197.48 L360.33 197.48 L360.48 197.48 L360.63 197.48 L360.78 197.48 L360.94 197.48 L361.09 197.48 L361.24 197.48 L361.39 197.48 L361.54 197.47 L361.69 197.47 L361.85 197.46 L362 197.44 L362.15 197.42 L362.3 197.4 L362.45 197.36 L362.6 197.31 L362.76 197.25 L362.91 197.16 L363.06 197.05 L363.21 196.92 L363.36 196.75 L363.51 196.55 L363.67 196.31 L363.82 196.03 L363.97 195.72 L364.12 195.37 L364.27 195 L364.43 194.6 L364.58 194.19 L364.73 193.78 L364.88 193.38 L365.03 193.01 L365.18 192.69 L365.34 192.42 L365.49 192.22 L365.64 192.09 L365.79 192.05 L365.94 192.09 L366.09 192.22 L366.25 192.42 L366.4 192.69 L366.55 193.01 L366.7 193.38 L366.85 193.78 L367 194.19 L367.16 194.6 L367.31 195 L367.46 195.37 L367.61 195.72 L367.76 196.03 L367.92 196.31 L368.07 196.55 L368.22 196.75 L368.37 196.92 L368.52 197.05 L368.67 197.16 L368.83 197.25 L368.98 197.31 L369.13 197.36 L369.28 197.4 L369.43 197.42 L369.58 197.44 L369.74 197.46 L369.89 197.47 L370.04 197.47 L370.19 197.48 L370.34 197.48 L370.5 197.48 L370.65 197.48 L370.8 197.48 L370.95 197.48 L371.1 197.48 L371.25 197.48 L371.41 197.48 L371.56 197.48 L371.71 197.48 L371.86 197.48 L372.01 197.48 L372.16 197.48 L372.32 197.48 L372.47 197.48 L372.62 197.48 L372.77 197.48 L372.92 197.48 L373.08 197.48 L373.23 197.48 L373.38 197.48 L373.53 197.48 L373.68 197.48 L373.83 197.48 L373.99 197.48 L374.14 197.48 L374.29 197.48 L374.44 197.48 L374.59 197.48 L374.74 197.48 L374.9 197.48 L375.05 197.48 L375.2 197.48 L375.35 197.48 L375.5 197.48 L375.65 197.48 L375.81 197.48 L375.96 197.48 L376.11 197.48 L376.26 197.48 L376.41 197.48 L376.57 197.48 L376.72 197.48 L376.87 197.48 L377.02 197.48 L377.17 197.48 L377.32 197.48 L377.48 197.48 L377.63 197.48 L377.78 197.48 L377.93 197.48 L378.08 197.48 L378.23 197.48 L378.39 197.48 L378.54 197.48 L378.69 197.48 L378.84 197.48 L378.99 197.48 L379.15 197.48 L379.3 197.48 L379.45 197.48 L379.6 197.48 L379.75 197.48 L379.9 197.48 L380.06 197.48 L380.21 197.48 L380.36 197.48 L380.51 197.48 L380.66 197.48 L380.81 197.48 L380.97 197.48 L381.12 197.48 L381.27 197.48 L381.42 197.48 L381.57 197.48 L381.72 197.48 L381.88 197.48 L382.03 197.48 L382.18 197.48 L382.33 197.48 L382.48 197.48 L382.64 197.48 L382.79 197.48 L382.94 197.48 L383.09 197.48 L383.24 197.48 L383.39 197.48 L383.55 197.48 L383.7 197.48 L383.85 197.48 L384 197.48 L384.15 197.48 L384.3 197.48 L384.46 197.48 L384.61 197.48 L384.76 197.48 L384.91 197.48 L385.06 197.48 L385.22 197.48 L385.37 197.48 L385.52 197.48 L385.67 197.48 L385.82 197.48 L385.97 197.48 L386.13 197.48 L386.28 197.48 L386.43 197.48 L386.58 197.48 L386.73 197.48 L386.88 197.48 L387.04 197.48 L387.19 197.48 L387.34 197.48 L387.49 197.48 L387.64 197.48 L387.79 197.48 L387.95 197.48 L388.1 197.48 L388.25 197.48 L388.4 197.48 L388.55 197.48 L388.71 197.48 L388.86 197.48 L389.01 197.48 L389.16 197.48 L389.31 197.48 L389.46 197.48 L389.62 197.48 L389.77 197.48 L389.92 197.48 L390.07 197.48 L390.22 197.48 L390.37 197.48 L390.53 197.48 L390.68 197.48 L390.83 197.48 L390.98 197.48 L391.13 197.48 L391.29 197.48 L391.44 197.48 L391.59 197.48 L391.74 197.48 L391.89 197.48 L392.04 197.48 L392.2 197.48 L392.35 197.48 L392.5 197.48 L392.65 197.48 L392.8 197.48 L392.95 197.48 L393.11 197.48 L393.26 197.48 L393.41 197.48 L393.56 197.48 L393.71 197.48 L393.86 197.48 L394.02 197.48 L394.17 197.48 L394.32 197.48 L394.47 197.48 L394.62 197.48 L394.78 197.48 L394.93 197.48 L395.08 197.48 L395.23 197.48 L395.38 197.48 L395.53 197.48 L395.69 197.48 L395.84 197.48 L395.99 197.48 L396.14 197.48 L396.29 197.48 L396.44 197.48 L396.6 197.48 L396.75 197.48 L396.9 197.48 L397.05 197.48 L397.2 197.48 L397.36 197.48 L397.51 197.48 L397.66 197.48 L397.81 197.48 L397.96 197.48 L398.11 197.48 L398.27 197.48 L398.42 197.48 L398.57 197.48 L398.72 197.48 L398.87 197.48 L399.02 197.48 L399.18 197.48 L399.33 197.48 L399.48 197.48 L399.63 197.48 L399.78 197.48 L399.93 197.48 L400.09 197.48 L400.24 197.48 L400.39 197.48 L400.54 197.48 L400.69 197.48 L400.85 197.48 L401 197.48 L401.15 197.48 L401.3 197.48 L401.45 197.48 L401.6 197.48 L401.76 197.48 L401.91 197.48 L402.06 197.48 L402.21 197.48 L402.36 197.48 L402.51 197.48 L402.67 197.48 L402.82 197.48 L402.97 197.48 L403.12 197.48 L403.27 197.48 L403.43 197.48 L403.58 197.48 L403.73 197.48 L403.88 197.48 L404.03 197.48 L404.18 197.48 L404.34 197.47 L404.49 197.47 L404.64 197.46 L404.79 197.44 L404.94 197.42 L405.09 197.4 L405.25 197.36 L405.4 197.31 L405.55 197.25 L405.7 197.16 L405.85 197.05 L406 196.92 L406.16 196.75 L406.31 196.55 L406.46 196.31 L406.61 196.03 L406.76 195.72 L406.92 195.37 L407.07 195 L407.22 194.6 L407.37 194.19 L407.52 193.78 L407.67 193.38 L407.83 193.01 L407.98 192.69 L408.13 192.42 L408.28 192.22 L408.43 192.09 L408.58 192.05 L408.74 192.09 L408.89 192.22 L409.04 192.42 L409.19 192.69 L409.34 193.01 L409.5 193.38 L409.65 193.78 L409.8 194.19 L409.95 194.6 L410.1 195 L410.25 195.37 L410.41 195.72 L410.56 196.03 L410.71 196.31 L410.86 196.55 L411.01 196.75 L411.16 196.92 L411.32 197.05 L411.47 197.16 L411.62 197.25 L411.77 197.31 L411.92 197.36 L412.07 197.4 L412.23 197.42 L412.38 197.44 L412.53 197.46 L412.68 197.47 L412.83 197.47 L412.99 197.48 L413.14 197.48 L413.29 197.48 L413.44 197.48 L413.59 197.48 L413.74 197.48 L413.9 197.48 L414.05 197.48 L414.2 197.48 L414.35 197.48 L414.5 197.48 L414.65 197.48 L414.81 197.48" stroke="#c8386a" stroke-width="1.2" fill="none" stroke-linejoin="round"/>
</g>
<line x1="278.99" y1="151.5" x2="278.99" y2="153.1" stroke="#000" stroke-width="0.9"/>
<line x1="278.99" y1="242.1" x2="278.99" y2="240.5" stroke="#000" stroke-width="0.9"/>
<line x1="285.06" y1="151.5" x2="285.06" y2="153.1" stroke="#000" stroke-width="0.9"/>
<line x1="285.06" y1="242.1" x2="285.06" y2="240.5" stroke="#000" stroke-width="0.9"/>
<line x1="291.13" y1="151.5" x2="291.13" y2="153.1" stroke="#000" stroke-width="0.9"/>
<line x1="291.13" y1="242.1" x2="291.13" y2="240.5" stroke="#000" stroke-width="0.9"/>
<line x1="297.2" y1="151.5" x2="297.2" y2="153.1" stroke="#000" stroke-width="0.9"/>
<line x1="297.2" y1="242.1" x2="297.2" y2="240.5" stroke="#000" stroke-width="0.9"/>
<line x1="303.27" y1="151.5" x2="303.27" y2="153.1" stroke="#000" stroke-width="0.9"/>
<line x1="303.27" y1="242.1" x2="303.27" y2="240.5" stroke="#000" stroke-width="0.9"/>
<line x1="309.34" y1="151.5" x2="309.34" y2="153.1" stroke="#000" stroke-width="0.9"/>
<line x1="309.34" y1="242.1" x2="309.34" y2="240.5" stroke="#000" stroke-width="0.9"/>
<line x1="315.41" y1="151.5" x2="315.41" y2="153.1" stroke="#000" stroke-width="0.9"/>
<line x1="315.41" y1="242.1" x2="315.41" y2="240.5" stroke="#000" stroke-width="0.9"/>
<line x1="321.48" y1="151.5" x2="321.48" y2="153.1" stroke="#000" stroke-width="0.9"/>
<line x1="321.48" y1="242.1" x2="321.48" y2="240.5" stroke="#000" stroke-width="0.9"/>
<line x1="327.55" y1="151.5" x2="327.55" y2="153.1" stroke="#000" stroke-width="0.9"/>
<line x1="327.55" y1="242.1" x2="327.55" y2="240.5" stroke="#000" stroke-width="0.9"/>
<line x1="333.62" y1="151.5" x2="333.62" y2="153.1" stroke="#000" stroke-width="0.9"/>
<line x1="333.62" y1="242.1" x2="333.62" y2="240.5" stroke="#000" stroke-width="0.9"/>
<line x1="339.69" y1="151.5" x2="339.69" y2="153.1" stroke="#000" stroke-width="0.9"/>
<line x1="339.69" y1="242.1" x2="339.69" y2="240.5" stroke="#000" stroke-width="0.9"/>
<line x1="345.76" y1="151.5" x2="345.76" y2="153.1" stroke="#000" stroke-width="0.9"/>
<line x1="345.76" y1="242.1" x2="345.76" y2="240.5" stroke="#000" stroke-width="0.9"/>
<line x1="351.83" y1="151.5" x2="351.83" y2="153.1" stroke="#000" stroke-width="0.9"/>
<line x1="351.83" y1="242.1" x2="351.83" y2="240.5" stroke="#000" stroke-width="0.9"/>
<line x1="357.9" y1="151.5" x2="357.9" y2="153.1" stroke="#000" stroke-width="0.9"/>
<line x1="357.9" y1="242.1" x2="357.9" y2="240.5" stroke="#000" stroke-width="0.9"/>
<line x1="363.97" y1="151.5" x2="363.97" y2="153.1" stroke="#000" stroke-width="0.9"/>
<line x1="363.97" y1="242.1" x2="363.97" y2="240.5" stroke="#000" stroke-width="0.9"/>
<line x1="370.04" y1="151.5" x2="370.04" y2="153.1" stroke="#000" stroke-width="0.9"/>
<line x1="370.04" y1="242.1" x2="370.04" y2="240.5" stroke="#000" stroke-width="0.9"/>
<line x1="376.11" y1="151.5" x2="376.11" y2="153.1" stroke="#000" stroke-width="0.9"/>
<line x1="376.11" y1="242.1" x2="376.11" y2="240.5" stroke="#000" stroke-width="0.9"/>
<line x1="382.18" y1="151.5" x2="382.18" y2="153.1" stroke="#000" stroke-width="0.9"/>
<line x1="382.18" y1="242.1" x2="382.18" y2="240.5" stroke="#000" stroke-width="0.9"/>
<line x1="388.25" y1="151.5" x2="388.25" y2="153.1" stroke="#000" stroke-width="0.9"/>
<line x1="388.25" y1="242.1" x2="388.25" y2="240.5" stroke="#000" stroke-width="0.9"/>
<line x1="394.32" y1="151.5" x2="394.32" y2="153.1" stroke="#000" stroke-width="0.9"/>
<line x1="394.32" y1="242.1" x2="394.32" y2="240.5" stroke="#000" stroke-width="0.9"/>
<line x1="400.39" y1="151.5" x2="400.39" y2="153.1" stroke="#000" stroke-width="0.9"/>
<line x1="400.39" y1="242.1" x2="400.39" y2="240.5" stroke="#000" stroke-width="0.9"/>
<line x1="406.46" y1="151.5" x2="406.46" y2="153.1" stroke="#000" stroke-width="0.9"/>
<line x1="406.46" y1="242.1" x2="406.46" y2="240.5" stroke="#000" stroke-width="0.9"/>
<line x1="412.53" y1="151.5" x2="412.53" y2="153.1" stroke="#000" stroke-width="0.9"/>
<line x1="412.53" y1="242.1" x2="412.53" y2="240.5" stroke="#000" stroke-width="0.9"/>
<line x1="278.4" y1="242.15" x2="280" y2="242.15" stroke="#000" stroke-width="0.9"/>
<line x1="414.6" y1="242.15" x2="413" y2="242.15" stroke="#000" stroke-width="0.9"/>
<line x1="278.4" y1="237.62" x2="280" y2="237.62" stroke="#000" stroke-width="0.9"/>
<line x1="414.6" y1="237.62" x2="413" y2="237.62" stroke="#000" stroke-width="0.9"/>
<line x1="278.4" y1="233.09" x2="280" y2="233.09" stroke="#000" stroke-width="0.9"/>
<line x1="414.6" y1="233.09" x2="413" y2="233.09" stroke="#000" stroke-width="0.9"/>
<line x1="278.4" y1="228.56" x2="280" y2="228.56" stroke="#000" stroke-width="0.9"/>
<line x1="414.6" y1="228.56" x2="413" y2="228.56" stroke="#000" stroke-width="0.9"/>
<line x1="278.4" y1="224.03" x2="280" y2="224.03" stroke="#000" stroke-width="0.9"/>
<line x1="414.6" y1="224.03" x2="413" y2="224.03" stroke="#000" stroke-width="0.9"/>
<line x1="278.4" y1="219.5" x2="280" y2="219.5" stroke="#000" stroke-width="0.9"/>
<line x1="414.6" y1="219.5" x2="413" y2="219.5" stroke="#000" stroke-width="0.9"/>
<line x1="278.4" y1="214.97" x2="280" y2="214.97" stroke="#000" stroke-width="0.9"/>
<line x1="414.6" y1="214.97" x2="413" y2="214.97" stroke="#000" stroke-width="0.9"/>
<line x1="278.4" y1="210.44" x2="280" y2="210.44" stroke="#000" stroke-width="0.9"/>
<line x1="414.6" y1="210.44" x2="413" y2="210.44" stroke="#000" stroke-width="0.9"/>
<line x1="278.4" y1="205.91" x2="280" y2="205.91" stroke="#000" stroke-width="0.9"/>
<line x1="414.6" y1="205.91" x2="413" y2="205.91" stroke="#000" stroke-width="0.9"/>
<line x1="278.4" y1="201.38" x2="280" y2="201.38" stroke="#000" stroke-width="0.9"/>
<line x1="414.6" y1="201.38" x2="413" y2="201.38" stroke="#000" stroke-width="0.9"/>
<line x1="278.4" y1="196.85" x2="280" y2="196.85" stroke="#000" stroke-width="0.9"/>
<line x1="414.6" y1="196.85" x2="413" y2="196.85" stroke="#000" stroke-width="0.9"/>
<line x1="278.4" y1="192.32" x2="280" y2="192.32" stroke="#000" stroke-width="0.9"/>
<line x1="414.6" y1="192.32" x2="413" y2="192.32" stroke="#000" stroke-width="0.9"/>
<line x1="278.4" y1="187.79" x2="280" y2="187.79" stroke="#000" stroke-width="0.9"/>
<line x1="414.6" y1="187.79" x2="413" y2="187.79" stroke="#000" stroke-width="0.9"/>
<line x1="278.4" y1="183.26" x2="280" y2="183.26" stroke="#000" stroke-width="0.9"/>
<line x1="414.6" y1="183.26" x2="413" y2="183.26" stroke="#000" stroke-width="0.9"/>
<line x1="278.4" y1="178.73" x2="280" y2="178.73" stroke="#000" stroke-width="0.9"/>
<line x1="414.6" y1="178.73" x2="413" y2="178.73" stroke="#000" stroke-width="0.9"/>
<line x1="278.4" y1="174.2" x2="280" y2="174.2" stroke="#000" stroke-width="0.9"/>
<line x1="414.6" y1="174.2" x2="413" y2="174.2" stroke="#000" stroke-width="0.9"/>
<line x1="278.4" y1="169.67" x2="280" y2="169.67" stroke="#000" stroke-width="0.9"/>
<line x1="414.6" y1="169.67" x2="413" y2="169.67" stroke="#000" stroke-width="0.9"/>
<line x1="278.4" y1="165.14" x2="280" y2="165.14" stroke="#000" stroke-width="0.9"/>
<line x1="414.6" y1="165.14" x2="413" y2="165.14" stroke="#000" stroke-width="0.9"/>
<line x1="278.4" y1="160.61" x2="280" y2="160.61" stroke="#000" stroke-width="0.9"/>
<line x1="414.6" y1="160.61" x2="413" y2="160.61" stroke="#000" stroke-width="0.9"/>
<line x1="278.4" y1="156.08" x2="280" y2="156.08" stroke="#000" stroke-width="0.9"/>
<line x1="414.6" y1="156.08" x2="413" y2="156.08" stroke="#000" stroke-width="0.9"/>
<line x1="278.4" y1="151.55" x2="280" y2="151.55" stroke="#000" stroke-width="0.9"/>
<line x1="414.6" y1="151.55" x2="413" y2="151.55" stroke="#000" stroke-width="0.9"/>
<rect x="278.4" y="151.5" width="136.2" height="90.6" fill="none" stroke="#000" stroke-width="1.1"/>
<text x="276.4" y="235.69" font-size="7.65" text-anchor="end" font-weight="normal"  fill="#000" stroke="#000" stroke-width="0.22" >-4</text>
<text x="276.4" y="217.57" font-size="7.65" text-anchor="end" font-weight="normal"  fill="#000" stroke="#000" stroke-width="0.22" >-2</text>
<text x="276.4" y="199.45" font-size="7.65" text-anchor="end" font-weight="normal"  fill="#000" stroke="#000" stroke-width="0.22" >0</text>
<text x="276.4" y="181.33" font-size="7.65" text-anchor="end" font-weight="normal"  fill="#000" stroke="#000" stroke-width="0.22" >2</text>
<text x="276.4" y="163.21" font-size="7.65" text-anchor="end" font-weight="normal"  fill="#000" stroke="#000" stroke-width="0.22" >4</text>
<text x="296.9" y="251" font-size="7.65" text-anchor="middle" font-weight="normal"  fill="#000" stroke="#000" stroke-width="0.22" >-4</text>
<text x="327.25" y="251" font-size="7.65" text-anchor="middle" font-weight="normal"  fill="#000" stroke="#000" stroke-width="0.22" >-3</text>
<text x="357.6" y="251" font-size="7.65" text-anchor="middle" font-weight="normal"  fill="#000" stroke="#000" stroke-width="0.22" >-2</text>
<text x="387.95" y="251" font-size="7.65" text-anchor="middle" font-weight="normal"  fill="#000" stroke="#000" stroke-width="0.22" >-1</text>
<text transform="translate(267 196.2) rotate(-90)" x="0" y="0" font-size="8.2" text-anchor="middle" fill="#000" stroke="#000" stroke-width="0.22">Intensity (a.u.)</text>
<text x="346.6" y="260.6" font-size="8.35" text-anchor="middle" font-weight="normal"  fill="#000" stroke="#000" stroke-width="0.22" ><tspan font-style="italic">L</tspan> in [1 0 L] (r.l.u.)</text>
<rect x="345" y="158" width="64.6" height="19.2" rx="2.5" fill="#fff" stroke="#333" stroke-width="0.9"/>
<path d="M351 161.7V167.5M349.3 161.7H352.7M349.3 167.5H352.7" stroke="#4fc4b8" stroke-width="1.0" fill="none"/>
<circle cx="351" cy="164.6" r="1.3" fill="#4fc4b8"/>
<line x1="347.8" y1="171.6" x2="355.4" y2="171.6" stroke="#c8386a" stroke-width="1.3"/>
<text x="356.8" y="166.9" font-size="6.35" text-anchor="start" font-weight="normal"  fill="#000" stroke="#000" stroke-width="0.15" >I(4.6K) - I(60K)</text>
<text x="356.8" y="174.1" font-size="6.3" text-anchor="start" font-weight="normal"  fill="#000" stroke="#000" stroke-width="0.15" >Model Calculation</text>
<ellipse cx="475.0" cy="31.7" rx="28.6" ry="5.85" fill="none" stroke="#c4eaae" stroke-width="0.95"/>
<ellipse cx="475.0" cy="42.85" rx="28.6" ry="6.11" fill="none" stroke="#bce7ac" stroke-width="0.95"/>
<ellipse cx="475.0" cy="54" rx="28.6" ry="6.24" fill="none" stroke="#b4e4ab" stroke-width="0.95"/>
<ellipse cx="475.0" cy="65.15" rx="28.6" ry="6.35" fill="none" stroke="#ace1a9" stroke-width="0.95"/>
<ellipse cx="475.0" cy="76.3" rx="28.6" ry="6.44" fill="none" stroke="#a4dea7" stroke-width="0.95"/>
<ellipse cx="475.0" cy="87.45" rx="28.6" ry="6.52" fill="none" stroke="#9cdba6" stroke-width="0.95"/>
<ellipse cx="475.0" cy="98.6" rx="28.6" ry="6.6" fill="none" stroke="#94d8a4" stroke-width="0.95"/>
<ellipse cx="475.0" cy="109.75" rx="28.6" ry="6.68" fill="none" stroke="#8ad4a6" stroke-width="0.95"/>
<ellipse cx="475.0" cy="120.9" rx="28.6" ry="6.74" fill="none" stroke="#80d0a9" stroke-width="0.95"/>
<ellipse cx="475.0" cy="132.05" rx="28.6" ry="6.81" fill="none" stroke="#76ccab" stroke-width="0.95"/>
<ellipse cx="475.0" cy="143.2" rx="28.6" ry="6.87" fill="none" stroke="#6cc8ae" stroke-width="0.95"/>
<ellipse cx="475.0" cy="154.35" rx="28.6" ry="6.93" fill="none" stroke="#62c4b0" stroke-width="0.95"/>
<ellipse cx="475.0" cy="165.5" rx="28.6" ry="6.99" fill="none" stroke="#61bfb1" stroke-width="0.95"/>
<ellipse cx="475.0" cy="176.65" rx="28.6" ry="7.05" fill="none" stroke="#60bab2" stroke-width="0.95"/>
<ellipse cx="475.0" cy="187.8" rx="28.6" ry="7.1" fill="none" stroke="#60b4b4" stroke-width="0.95"/>
<ellipse cx="475.0" cy="198.95" rx="28.6" ry="7.15" fill="none" stroke="#5fafb5" stroke-width="0.95"/>
<ellipse cx="475.0" cy="210.1" rx="28.6" ry="7.21" fill="none" stroke="#5eaab6" stroke-width="0.95"/>
<ellipse cx="475.0" cy="221.25" rx="28.6" ry="7.26" fill="none" stroke="#5ea4b2" stroke-width="0.95"/>
<ellipse cx="475.0" cy="232.4" rx="28.6" ry="7.31" fill="none" stroke="#5e9ead" stroke-width="0.95"/>
<ellipse cx="475.0" cy="243.55" rx="28.6" ry="7.35" fill="none" stroke="#5e98a8" stroke-width="0.95"/>
<ellipse cx="475.0" cy="254.7" rx="28.6" ry="7.4" fill="none" stroke="#5e92a4" stroke-width="0.95"/>
<line x1="475" y1="33.7" x2="497.03" y2="34.67" stroke="#8fd468" stroke-width="1.9" stroke-linecap="butt"/>
<path d="M502.02 34.89L496.94 36.67L497.12 32.67Z" fill="#8fd468"/>
<path d="M474.04 46.59L484.33 51.88L483.37 53.74L488.13 51.47L487.21 46.27L486.25 48.14L475.96 42.85Z" fill="#eaf6f2" stroke="#81ce69" stroke-width="0.9" stroke-linejoin="round"/>
<line x1="475" y1="55.74" x2="465.19" y2="59.33" stroke="#73c86b" stroke-width="1.9" stroke-linecap="butt"/>
<path d="M460.49 61.05L464.5 57.45L465.88 61.21Z" fill="#73c86b"/>
<line x1="475" y1="66.76" x2="452.45" y2="67.06" stroke="#66c26c" stroke-width="1.9" stroke-linecap="butt"/>
<path d="M447.45 67.13L452.42 65.06L452.47 69.06Z" fill="#66c26c"/>
<line x1="475" y1="77.78" x2="462.69" y2="74.14" stroke="#58bc6d" stroke-width="1.9" stroke-linecap="butt"/>
<path d="M457.89 72.73L463.25 72.22L462.12 76.06Z" fill="#58bc6d"/>
<path d="M476.3 90.45L483.68 84.63L484.98 86.28L484.89 81L479.77 79.69L481.07 81.33L473.7 87.15Z" fill="#eaf6f2" stroke="#4ab66f" stroke-width="0.9" stroke-linejoin="round"/>
<line x1="475" y1="99.82" x2="496.22" y2="98.14" stroke="#3cb070" stroke-width="1.9" stroke-linecap="butt"/>
<path d="M501.2 97.74L496.37 100.13L496.06 96.15Z" fill="#3cb070"/>
<line x1="475" y1="110.84" x2="492.22" y2="113.94" stroke="#36ac76" stroke-width="1.9" stroke-linecap="butt"/>
<path d="M497.14 114.83L491.86 115.91L492.57 111.97Z" fill="#36ac76"/>
<path d="M472.91 121.61L472.2 127.66L470.11 127.41L473.9 131.08L478.45 128.4L476.37 128.15L477.09 122.11Z" fill="#eaf6f2" stroke="#30a87d" stroke-width="0.9" stroke-linejoin="round"/>
<line x1="475" y1="132.88" x2="456.88" y2="135.82" stroke="#2ba483" stroke-width="1.9" stroke-linecap="butt"/>
<path d="M451.94 136.62L456.56 133.85L457.2 137.8Z" fill="#2ba483"/>
<line x1="475" y1="143.9" x2="454.32" y2="141.86" stroke="#25a08a" stroke-width="1.9" stroke-linecap="butt"/>
<path d="M449.35 141.36L454.52 139.87L454.13 143.85Z" fill="#25a08a"/>
<path d="M476.53 153.48L470.63 147.24L472.16 145.8L466.91 146.36L466.05 151.57L467.58 150.13L473.47 156.36Z" fill="#eaf6f2" stroke="#1f9c90" stroke-width="0.9" stroke-linejoin="round"/>
<line x1="475" y1="165.94" x2="488.53" y2="162.09" stroke="#219690" stroke-width="1.9" stroke-linecap="butt"/>
<path d="M493.34 160.71L489.08 164.01L487.98 160.16Z" fill="#219690"/>
<line x1="475" y1="176.96" x2="497.42" y2="177.62" stroke="#23908f" stroke-width="1.9" stroke-linecap="butt"/>
<path d="M502.42 177.77L497.36 179.62L497.48 175.63Z" fill="#23908f"/>
<line x1="475" y1="188.1" x2="483.61" y2="192.2" stroke="#248a8f" stroke-width="1.9" stroke-linecap="butt"/>
<path d="M488.12 194.35L482.75 194L484.47 190.39Z" fill="#248a8f"/>
<line x1="475" y1="199.25" x2="467.08" y2="203.35" stroke="#26848e" stroke-width="1.9" stroke-linecap="butt"/>
<path d="M462.64 205.65L466.16 201.57L468 205.13Z" fill="#26848e"/>
<line x1="475" y1="210.4" x2="452.69" y2="211.26" stroke="#287e8e" stroke-width="1.9" stroke-linecap="butt"/>
<path d="M447.7 211.45L452.62 209.26L452.77 213.26Z" fill="#287e8e"/>
<line x1="475" y1="221.55" x2="460.85" y2="217.62" stroke="#2b7585" stroke-width="1.9" stroke-linecap="butt"/>
<path d="M456.03 216.28L461.39 215.69L460.32 219.54Z" fill="#2b7585"/>
<path d="M476.66 233.99L481.78 227.38L483.44 228.67L482.08 223.57L476.8 223.52L478.46 224.81L473.34 231.41Z" fill="#eaf6f2" stroke="#2e6c7c" stroke-width="0.9" stroke-linejoin="round"/>
<line x1="475" y1="243.85" x2="495.36" y2="241.5" stroke="#306273" stroke-width="1.9" stroke-linecap="butt"/>
<path d="M500.33 240.93L495.59 243.49L495.13 239.51Z" fill="#306273"/>
<line x1="475" y1="255" x2="493.58" y2="258.06" stroke="#33596a" stroke-width="1.9" stroke-linecap="butt"/>
<path d="M498.51 258.87L493.26 260.03L493.91 256.09Z" fill="#33596a"/>
<path d="M498 40.29 L497.68 40.6 L497.35 40.91 L497.01 41.22 L496.66 41.52 L496.31 41.83 L495.94 42.13 L495.57 42.44 L495.2 42.74 L494.81 43.04 L494.42 43.34 L494.03 43.63 L493.62 43.93 L493.21 44.22 L492.8 44.51 L492.37 44.81 L491.94 45.09 L491.51 45.38 L491.07 45.67 L490.62 45.95 L490.17 46.23 L489.71 46.51 L489.25 46.79 L488.78 47.07 L488.31 47.34 L487.83 47.62 L487.35 47.89 L486.86 48.16 L486.37 48.42 L485.88 48.69 L485.38 48.95 L484.88 49.21 L484.37 49.47 L483.86 49.73 L483.35 49.99 L482.84 50.24 L482.32 50.49 L481.8 50.74 L481.28 50.99 L480.75 51.23 L480.22 51.47 L479.7 51.72 L479.17 51.95 L478.63 52.19 L478.1 52.42 L477.57 52.66 L477.03 52.89 L476.5 53.11 L475.96 53.34 L475.42 53.56 L474.89 53.78 L474.35 54 L473.81 54.22 L473.28 54.44 L472.74 54.65 L472.21 54.86 L471.68 55.07 L471.14 55.27 L470.61 55.48 L470.08 55.68 L469.55 55.88 L469.03 56.07 L468.51 56.27 L467.98 56.46 L467.46 56.65 L466.95 56.84 L466.43 57.03 L465.92 57.21 L465.42 57.39 L464.91 57.57 L464.41 57.75 L463.92 57.93 L463.42 58.1 L462.93 58.27 L462.45 58.44 L461.97 58.61 L461.49 58.78 L461.02 58.94 L460.56 59.1 L460.1 59.26 L459.64 59.42 L459.19 59.58 L458.75 59.73 L458.31 59.88 L457.88 60.03 L457.45 60.18 L457.03 60.33 L456.61 60.47 L456.21 60.62 L455.81 60.76 L455.41 60.9 L455.02 61.04 L454.64 61.17 L454.27 61.31 L453.9 61.44 L453.55 61.57 L453.19 61.71 L452.85 61.83 L452.52 61.96 L452.19 62.09 L451.87 62.21 L451.56 62.33 L451.25 62.46 L450.96 62.58 L450.67 62.7 L450.39 62.81 L450.12 62.93 L449.86 63.05 L449.61 63.16 L449.37 63.27 L449.14 63.39 L448.91 63.5 L448.7 63.61 L448.49 63.72 L448.29 63.83 L448.11 63.93 L447.93 64.04 L447.76 64.15 L447.6 64.25 L447.45 64.36 L447.31 64.46 L447.18 64.56 L447.06 64.67 L446.95 64.77 L446.85 64.87 L446.76 64.97 L446.68 65.07 L446.61 65.17 L446.55 65.27 L446.5 65.37 L446.46 65.47 L446.43 65.57 L446.41 65.67 L446.4 65.77 L446.4 65.87 L446.41 65.97 L446.43 66.07 L446.46 66.16 L446.5 66.26 L446.55 66.36 L446.61 66.46 L446.68 66.56 L446.76 66.66 L446.85 66.76 L446.95 66.86 L447.06 66.96 L447.18 67.06 L447.31 67.16 L447.45 67.26 L447.6 67.37 L447.76 67.47 L447.93 67.57 L448.11 67.68 L448.29 67.78 L448.49 67.89 L448.7 68 L448.91 68.1 L449.13 68.21 L449.37 68.32 L449.61 68.43 L449.86 68.54 L450.12 68.65 L450.39 68.77 L450.67 68.88 L450.96 69 L451.25 69.11 L451.55 69.23 L451.87 69.35 L452.19 69.47 L452.51 69.59 L452.85 69.71 L453.19 69.84 L453.54 69.96 L453.9 70.09 L454.27 70.22 L454.64 70.35 L455.02 70.48 L455.41 70.61 L455.8 70.75 L456.2 70.89 L456.61 71.02 L457.03 71.16 L457.45 71.31 L457.87 71.45 L458.31 71.59 L458.74 71.74 L459.19 71.89 L459.64 72.04 L460.09 72.19 L460.56 72.35 L461.02 72.5 L461.49 72.66 L461.97 72.82 L462.45 72.98 L462.93 73.15 L463.42 73.31 L463.91 73.48 L464.41 73.65 L464.91 73.83 L465.41 74 L465.92 74.18 L466.43 74.36 L466.94 74.54 L467.46 74.72 L467.98 74.91 L468.5 75.09 L469.02 75.28 L469.55 75.48 L470.08 75.67 L470.61 75.87 L471.14 76.07 L471.67 76.27 L472.2 76.47 L472.74 76.68 L473.27 76.88 L473.81 77.09 L474.35 77.31 L474.88 77.52 L475.42 77.74 L475.96 77.96 L476.49 78.18 L477.03 78.4 L477.56 78.63 L478.1 78.86 L478.63 79.09 L479.16 79.32 L479.69 79.56 L480.22 79.79 L480.75 80.03 L481.27 80.28 L481.79 80.52 L482.31 80.77 L482.83 81.02 L483.35 81.27 L483.86 81.52 L484.37 81.78 L484.87 82.03 L485.37 82.29 L485.87 82.55 L486.37 82.82 L486.86 83.09 L487.34 83.35 L487.83 83.62 L488.3 83.9 L488.78 84.17 L489.24 84.45 L489.71 84.73 L490.16 85.01 L490.62 85.29 L491.06 85.58 L491.5 85.86 L491.94 86.15 L492.37 86.44 L492.79 86.73 L493.21 87.03 L493.62 87.32 L494.02 87.62 L494.42 87.92 L494.81 88.22 L495.2 88.53 L495.57 88.83 L495.94 89.14 L496.3 89.45 L496.66 89.75 L497 90.07 L497.34 90.38 L497.67 90.69 L498 91.01 L498.31 91.33 L498.62 91.64 L498.92 91.96 L499.21 92.28 L499.49 92.61 L499.76 92.93 L500.03 93.26 L500.28 93.58 L500.53 93.91 L500.76 94.24 L500.99 94.57 L501.21 94.9 L501.42 95.23 L501.62 95.56 L501.81 95.89 L502 96.23 L502.17 96.56 L502.33 96.9 L502.49 97.23 L502.63 97.57 L502.76 97.91 L502.89 98.25 L503 98.59 L503.11 98.93 L503.2 99.27 L503.28 99.61 L503.36 99.95 L503.42 100.29 L503.48 100.63 L503.52 100.97 L503.56 101.31 L503.58 101.65 L503.6 102 L503.6 102.34 L503.59 102.68 L503.58 103.02 L503.55 103.37 L503.52 103.71 L503.47 104.05 L503.41 104.39 L503.35 104.73 L503.27 105.08 L503.19 105.42 L503.09 105.76 L502.99 106.1 L502.87 106.44 L502.74 106.78 L502.61 107.12 L502.46 107.46 L502.31 107.79 L502.15 108.13 L501.97 108.47 L501.79 108.8 L501.6 109.14 L501.39 109.47 L501.18 109.81 L500.96 110.14 L500.73 110.47 L500.49 110.8 L500.25 111.13 L499.99 111.46 L499.72 111.79 L499.45 112.11 L499.17 112.44 L498.88 112.76 L498.58 113.08 L498.27 113.4 L497.95 113.72 L497.63 114.04 L497.3 114.36 L496.96 114.68 L496.61 114.99 L496.25 115.3 L495.89 115.61 L495.52 115.92 L495.14 116.23 L494.76 116.54 L494.37 116.84 L493.97 117.15 L493.56 117.45 L493.15 117.75 L492.73 118.05 L492.31 118.34 L491.88 118.64 L491.44 118.93 L491 119.22 L490.55 119.51 L490.1 119.79 L489.64 120.08 L489.18 120.36 L488.71 120.64 L488.24 120.92 L487.76 121.2 L487.28 121.47 L486.79 121.74 L486.3 122.01 L485.8 122.28 L485.3 122.55 L484.8 122.81 L484.3 123.07 L483.79 123.33 L483.27 123.59 L482.76 123.84 L482.24 124.09 L481.72 124.34 L481.2 124.59 L480.67 124.84 L480.15 125.08 L479.62 125.32 L479.09 125.56 L478.56 125.8 L478.02 126.03 L477.49 126.26 L476.95 126.49 L476.42 126.72 L475.88 126.94 L475.34 127.16 L474.81 127.38 L474.27 127.6 L473.74 127.82 L473.2 128.03 L472.66 128.24 L472.13 128.45 L471.6 128.65 L471.06 128.85 L470.53 129.06 L470 129.25 L469.48 129.45 L468.95 129.64 L468.43 129.83 L467.91 130.02 L467.39 130.21 L466.87 130.39 L466.36 130.58 L465.85 130.76 L465.34 130.93 L464.84 131.11 L464.34 131.28 L463.84 131.45 L463.35 131.62 L462.86 131.79 L462.38 131.95 L461.9 132.11 L461.42 132.27 L460.95 132.43 L460.49 132.59 L460.03 132.74 L459.58 132.89 L459.13 133.04 L458.68 133.19 L458.24 133.33 L457.81 133.48 L457.39 133.62 L456.97 133.76 L456.55 133.9 L456.15 134.03 L455.75 134.17 L455.35 134.3 L454.97 134.43 L454.59 134.56 L454.22 134.68 L453.85 134.81 L453.49 134.93 L453.14 135.05 L452.8 135.18 L452.47 135.29 L452.14 135.41 L451.82 135.53 L451.51 135.64 L451.21 135.76 L450.92 135.87 L450.63 135.98 L450.35 136.09 L450.09 136.19 L449.83 136.3 L449.58 136.41 L449.34 136.51 L449.1 136.61 L448.88 136.72 L448.67 136.82 L448.46 136.92 L448.27 137.02 L448.08 137.11 L447.9 137.21 L447.74 137.31 L447.58 137.4 L447.43 137.5 L447.29 137.59 L447.17 137.69 L447.05 137.78 L446.94 137.87 L446.84 137.97 L446.75 138.06 L446.67 138.15 L446.6 138.24 L446.54 138.33 L446.5 138.42 L446.46 138.51 L446.43 138.6 L446.41 138.69 L446.4 138.78 L446.4 138.87 L446.41 138.96 L446.44 139.05 L446.47 139.14 L446.51 139.23 L446.56 139.32 L446.62 139.41 L446.69 139.5 L446.78 139.59 L446.87 139.68 L446.97 139.77 L447.08 139.86 L447.2 139.95 L447.33 140.05 L447.47 140.14 L447.62 140.23 L447.78 140.33 L447.95 140.42 L448.13 140.52 L448.32 140.62 L448.52 140.71 L448.73 140.81 L448.94 140.91 L449.17 141.01 L449.4 141.11 L449.65 141.22 L449.9 141.32 L450.16 141.43 L450.43 141.53 L450.71 141.64 L451 141.75 L451.3 141.86 L451.6 141.97 L451.91 142.08 L452.23 142.19 L452.56 142.31 L452.9 142.42 L453.24 142.54 L453.6 142.66 L453.96 142.78 L454.32 142.91 L454.7 143.03 L455.08 143.16 L455.47 143.28 L455.86 143.41 L456.26 143.55 L456.67 143.68 L457.09 143.81 L457.51 143.95 L457.94 144.09 L458.37 144.23 L458.81 144.37 L459.26 144.52 L459.71 144.66 L460.16 144.81 L460.62 144.96 L461.09 145.12 L461.56 145.27 L462.04 145.43 L462.52 145.59 L463 145.75 L463.49 145.91 L463.99 146.08 L464.48 146.25 L464.98 146.42 L465.49 146.59 L466 146.76 L466.51 146.94 L467.02 147.12 L467.54 147.3 L468.06 147.49 L468.58 147.67 L469.1 147.86 L469.63 148.05 L470.16 148.25 L470.69 148.44 L471.22 148.64 L471.75 148.84 L472.28 149.04 L472.82 149.25 L473.35 149.46 L473.89 149.67 L474.43 149.88 L474.96 150.1 L475.5 150.31 L476.04 150.54 L476.57 150.76 L477.11 150.98 L477.64 151.21 L478.18 151.44 L478.71 151.67 L479.24 151.91 L479.77 152.15 L480.3 152.39 L480.83 152.63 L481.35 152.87 L481.87 153.12 L482.39 153.37 L482.91 153.62 L483.42 153.88 L483.93 154.13 L484.44 154.39 L484.95 154.65 L485.45 154.92 L485.95 155.18 L486.44 155.45 L486.93 155.72 L487.42 155.99 L487.9 156.27 L488.37 156.54 L488.85 156.82 L489.31 157.11 L489.77 157.39 L490.23 157.67 L490.68 157.96 L491.13 158.25 L491.57 158.54 L492 158.84 L492.43 159.13 L492.85 159.43 L493.27 159.73 L493.68 160.03 L494.08 160.34 L494.48 160.64 L494.87 160.95 L495.25 161.26 L495.63 161.57 L496 161.88 L496.36 162.2 L496.71 162.51 L497.05 162.83 L497.39 163.15 L497.72 163.47 L498.04 163.8 L498.36 164.12 L498.66 164.44 L498.96 164.77 L499.25 165.1 L499.53 165.43 L499.8 165.76 L500.06 166.09 L500.32 166.43 L500.56 166.76 L500.8 167.1 L501.03 167.43 L501.24 167.77 L501.45 168.11 L501.65 168.45 L501.84 168.79 L502.02 169.13 L502.19 169.47 L502.36 169.82 L502.51 170.16 L502.65 170.51 L502.78 170.85 L502.9 171.2 L503.02 171.54 L503.12 171.89 L503.21 172.24 L503.3 172.59 L503.37 172.94 L503.43 173.28 L503.48 173.63 L503.53 173.98 L503.56 174.33 L503.58 174.68 L503.6 175.03 L503.6 175.38 L503.59 175.73 L503.58 176.08 L503.55 176.43 L503.51 176.78 L503.46 177.13 L503.41 177.48 L503.34 177.83 L503.26 178.18 L503.17 178.53 L503.08 178.88 L502.97 179.23 L502.85 179.57 L502.72 179.92 L502.59 180.27 L502.44 180.61 L502.29 180.96 L502.12 181.3 L501.95 181.64 L501.76 181.99 L501.57 182.33 L501.36 182.67 L501.15 183.01 L500.93 183.35 L500.7 183.69 L500.46 184.02 L500.21 184.36 L499.95 184.7 L499.68 185.03 L499.41 185.36 L499.12 185.69 L498.83 186.02 L498.53 186.35 L498.22 186.68 L497.9 187 L497.58 187.33 L497.25 187.65 L496.9 187.97 L496.56 188.29 L496.2 188.61 L495.84 188.93 L495.46 189.24 L495.09 189.55 L494.7 189.87 L494.31 190.17 L493.91 190.48 L493.5 190.79 L493.09 191.09 L492.67 191.39 L492.25 191.69 L491.81 191.99 L491.38 192.29 L490.93 192.58 L490.49 192.87 L490.03 193.16 L489.57 193.45 L489.11 193.74 L488.64 194.02 L488.17 194.3 L487.69 194.58 L487.2 194.86 L486.72 195.13 L486.22 195.41 L485.73 195.68 L485.23 195.94 L484.73 196.21 L484.22 196.47 L483.71 196.73 L483.2 196.99 L482.68 197.25 L482.16 197.5 L481.64 197.75 L481.12 198 L480.6 198.25 L480.07 198.49 L479.54 198.73 L479.01 198.97 L478.48 199.21 L477.94 199.44 L477.41 199.67 L476.87 199.9 L476.34 200.13 L475.8 200.35 L475.27 200.57 L474.73 200.79 L474.19 201.01 L473.66 201.22 L473.12 201.44 L472.58 201.64 L472.05 201.85 L471.52 202.06 L470.99 202.26 L470.45 202.46 L469.93 202.65 L469.4 202.85 L468.87 203.04 L468.35 203.23 L467.83 203.41 L467.31 203.6 L466.8 203.78 L466.28 203.96 L465.77 204.14 L465.27 204.31 L464.76 204.48 L464.26 204.65 L463.77 204.82 L463.28 204.98 L462.79 205.15 L462.31 205.31 L461.83 205.47 L461.35 205.62 L460.89 205.78 L460.42 205.93 L459.96 206.08 L459.51 206.22 L459.06 206.37 L458.62 206.51 L458.18 206.65 L457.75 206.79 L457.32 206.93 L456.91 207.06 L456.49 207.19 L456.09 207.33 L455.69 207.45 L455.3 207.58 L454.91 207.71 L454.53 207.83 L454.16 207.95 L453.8 208.07 L453.44 208.19 L453.09 208.31 L452.75 208.42 L452.42 208.53 L452.09 208.64 L451.77 208.75 L451.47 208.86 L451.16 208.97 L450.87 209.08 L450.59 209.18 L450.31 209.28 L450.05 209.38 L449.79 209.48 L449.54 209.58 L449.3 209.68 L449.07 209.78 L448.85 209.87 L448.63 209.97 L448.43 210.06 L448.24 210.15 L448.05 210.24 L447.88 210.34 L447.71 210.42 L447.56 210.51 L447.41 210.6 L447.27 210.69 L447.15 210.78 L447.03 210.86 L446.92 210.95 L446.83 211.03 L446.74 211.12 L446.66 211.2 L446.59 211.29 L446.54 211.37 L446.49 211.45 L446.45 211.54 L446.42 211.62 L446.41 211.7 L446.4 211.79 L446.4 211.87 L446.42 211.95 L446.44 212.03 L446.47 212.12 L446.52 212.2 L446.57 212.28 L446.63 212.37 L446.71 212.45 L446.79 212.53 L446.88 212.62 L446.98 212.7 L447.1 212.79 L447.22 212.87 L447.35 212.96 L447.49 213.05 L447.65 213.13 L447.81 213.22 L447.98 213.31 L448.16 213.4 L448.35 213.49 L448.55 213.58 L448.76 213.68 L448.98 213.77 L449.2 213.86 L449.44 213.96 L449.68 214.06 L449.94 214.15 L450.2 214.25 L450.47 214.35 L450.75 214.46 L451.04 214.56 L451.34 214.66 L451.65 214.77 L451.96 214.88 L452.28 214.98 L452.61 215.09 L452.95 215.21 L453.3 215.32 L453.65 215.43 L454.01 215.55 L454.38 215.67 L454.75 215.79 L455.14 215.91 L455.52 216.03 L455.92 216.16 L456.32 216.29 L456.73 216.42 L457.15 216.55 L457.57 216.68 L458 216.82 L458.44 216.95 L458.88 217.09 L459.32 217.23 L459.77 217.38 L460.23 217.52 L460.69 217.67 L461.16 217.82 L461.63 217.97 L462.11 218.13 L462.59 218.28 L463.08 218.44 L463.57 218.61 L464.06 218.77 L464.56 218.93 L465.06 219.1 L465.56 219.27 L466.07 219.45 L466.58 219.62 L467.1 219.8 L467.61 219.98 L468.13 220.16 L468.66 220.35 L469.18 220.54 L469.71 220.73 L470.24 220.92 L470.77 221.12 L471.3 221.32 L471.83 221.52 L472.36 221.72 L472.9 221.92 L473.43 222.13 L473.97 222.34 L474.51 222.56 L475.04 222.77 L475.58 222.99 L476.12 223.21 L476.65 223.44 L477.19 223.66 L477.72 223.89 L478.26 224.12 L478.79 224.36 L479.32 224.59 L479.85 224.83 L480.38 225.07 L480.9 225.32 L481.43 225.56 L481.95 225.81 L482.47 226.07 L482.99 226.32 L483.5 226.58 L484.01 226.83 L484.52 227.1 L485.02 227.36 L485.52 227.63 L486.02 227.9 L486.51 228.17 L487 228.44 L487.49 228.72 L487.97 228.99 L488.44 229.28 L488.92 229.56 L489.38 229.84 L489.84 230.13 L490.3 230.42 L490.75 230.71 L491.19 231.01 L491.63 231.3 L492.07 231.6 L492.5 231.9 L492.92 232.2 L493.33 232.51 L493.74 232.81 L494.14 233.12 L494.54 233.43 L494.93 233.74 L495.31 234.06 L495.68 234.37 L496.05 234.69 L496.41 235.01 L496.76 235.33 L497.11 235.66 L497.44 235.98 L497.77 236.31 L498.09 236.64 L498.4 236.96 L498.71 237.3 L499 237.63 L499.29 237.96 L499.57 238.3 L499.84 238.63 L500.1 238.97 L500.36 239.31 L500.6 239.65 L500.83 239.99 L501.06 240.34 L501.28 240.68 L501.48 241.02 L501.68 241.37 L501.87 241.72 L502.05 242.06 L502.22 242.41 L502.38 242.76 L502.53 243.11 L502.67 243.46 L502.8 243.82 L502.92 244.17 L503.03 244.52 L503.13 244.87 L503.23 245.23 L503.31 245.58 L503.38 245.94 L503.44 246.29 L503.49 246.65 L503.53 247 L503.57 247.36 L503.59 247.72 L503.6 248.07 L503.6 248.43 L503.59 248.79 L503.57 249.14 L503.54 249.5 L503.5 249.85 L503.46 250.21 L503.4 250.57 L503.33 250.92 L503.25 251.28 L503.16 251.63 L503.06 251.99 L502.95 252.34 L502.83 252.69 L502.71 253.05 L502.57 253.4 L502.42 253.75 L502.26 254.1 L502.09 254.45 L501.92 254.8 L501.73 255.15 L501.54 255.49 L501.33 255.84 L501.12 256.19 L500.89 256.53 L500.66 256.87 L500.42 257.22 L500.17 257.56 L499.91 257.9 L499.64 258.24 L499.37 258.57" stroke="#c82050" stroke-width="1.4" fill="none" stroke-linejoin="round" stroke-dasharray="4 2.5"/>
<g stroke="#8a8a8a" stroke-width="0.8" fill="none">
<path d="M434.3 251.4V229.5M434.3 251.4L454 252.3M434.3 251.4L422.8 258.8"/>
</g>
<path d="M434.3 228.6L432.6 232.2L436 232.2Z M455 252.35L451.4 250.6L451.3 254Z M422.2 259.2L424.1 255.8L426 258.6Z" fill="#8a8a8a"/>
<text x="436.8" y="238" font-size="7.2" text-anchor="start" font-weight="normal"  fill="#777" stroke="#777" stroke-width="0.22" >c</text>
<text x="456.6" y="255.8" font-size="7.2" text-anchor="start" font-weight="normal"  fill="#777" stroke="#777" stroke-width="0.22" >a</text>
<text x="428.9" y="262" font-size="7.2" text-anchor="start" font-weight="normal"  fill="#777" stroke="#777" stroke-width="0.22" >b</text>
</svg>
</body></html>
